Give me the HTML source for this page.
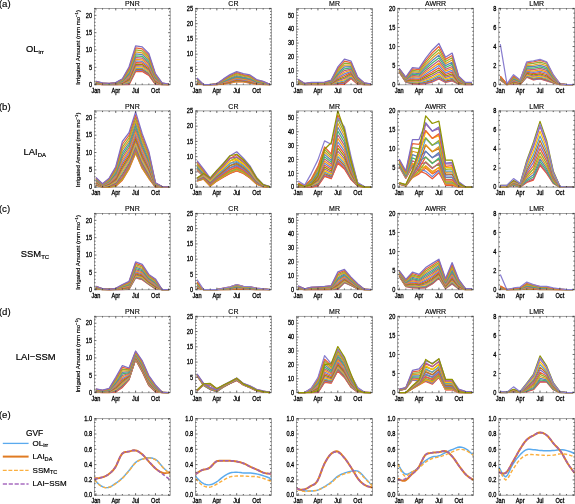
<!DOCTYPE html>
<html><head><meta charset="utf-8"><style>
html,body{margin:0;padding:0;background:#fff;}
body{width:575px;height:504px;position:relative;overflow:hidden;font-family:"Liberation Sans", sans-serif;}
svg text{font-family:"Liberation Sans", sans-serif;fill:#000;}
svg text.t{stroke:#000;stroke-width:0.28px;}
svg text.u{stroke:#000;stroke-width:0.2px;}
svg text.ti{stroke:#000;stroke-width:0.14px;}
svg text.v{stroke:#000;stroke-width:0.15px;}
svg text.w{stroke:#000;stroke-width:0.16px;}
</style></head><body>
<svg width="575" height="504" viewBox="0 0 575 504" style="position:absolute;left:0;top:0;will-change:transform">
<defs>
<clipPath id="k00"><rect x="94.4" y="7.8" width="75.8" height="77.8"/></clipPath>
<clipPath id="k01"><rect x="195.5" y="7.8" width="75.8" height="77.8"/></clipPath>
<clipPath id="k02"><rect x="296.6" y="7.8" width="75.8" height="77.8"/></clipPath>
<clipPath id="k03"><rect x="397.7" y="7.8" width="75.8" height="77.8"/></clipPath>
<clipPath id="k04"><rect x="498.8" y="7.8" width="75.8" height="77.8"/></clipPath>
<clipPath id="k10"><rect x="94.4" y="110.3" width="75.8" height="77.8"/></clipPath>
<clipPath id="k11"><rect x="195.5" y="110.3" width="75.8" height="77.8"/></clipPath>
<clipPath id="k12"><rect x="296.6" y="110.3" width="75.8" height="77.8"/></clipPath>
<clipPath id="k13"><rect x="397.7" y="110.3" width="75.8" height="77.8"/></clipPath>
<clipPath id="k14"><rect x="498.8" y="110.3" width="75.8" height="77.8"/></clipPath>
<clipPath id="k20"><rect x="94.4" y="212.8" width="75.8" height="77.8"/></clipPath>
<clipPath id="k21"><rect x="195.5" y="212.8" width="75.8" height="77.8"/></clipPath>
<clipPath id="k22"><rect x="296.6" y="212.8" width="75.8" height="77.8"/></clipPath>
<clipPath id="k23"><rect x="397.7" y="212.8" width="75.8" height="77.8"/></clipPath>
<clipPath id="k24"><rect x="498.8" y="212.8" width="75.8" height="77.8"/></clipPath>
<clipPath id="k30"><rect x="94.4" y="315.7" width="75.8" height="77.8"/></clipPath>
<clipPath id="k31"><rect x="195.5" y="315.7" width="75.8" height="77.8"/></clipPath>
<clipPath id="k32"><rect x="296.6" y="315.7" width="75.8" height="77.8"/></clipPath>
<clipPath id="k33"><rect x="397.7" y="315.7" width="75.8" height="77.8"/></clipPath>
<clipPath id="k34"><rect x="498.8" y="315.7" width="75.8" height="77.8"/></clipPath>
<clipPath id="k40"><rect x="94.4" y="418.1" width="75.8" height="77.1"/></clipPath>
<clipPath id="k41"><rect x="195.5" y="418.1" width="75.8" height="77.1"/></clipPath>
<clipPath id="k42"><rect x="296.6" y="418.1" width="75.8" height="77.1"/></clipPath>
<clipPath id="k43"><rect x="397.7" y="418.1" width="75.8" height="77.1"/></clipPath>
<clipPath id="k44"><rect x="498.8" y="418.1" width="75.8" height="77.1"/></clipPath>
</defs>
<rect x="94.4" y="8.4" width="75.8" height="76.3" fill="none" stroke="#7a7a7a" stroke-width="0.7"/>
<line x1="94.4" y1="84.7" x2="170.2" y2="84.7" stroke="#bbb" stroke-width="1.2"/>
<rect x="195.5" y="8.4" width="75.8" height="76.3" fill="none" stroke="#7a7a7a" stroke-width="0.7"/>
<line x1="195.5" y1="84.7" x2="271.3" y2="84.7" stroke="#bbb" stroke-width="1.2"/>
<rect x="296.6" y="8.4" width="75.8" height="76.3" fill="none" stroke="#7a7a7a" stroke-width="0.7"/>
<line x1="296.6" y1="84.7" x2="372.4" y2="84.7" stroke="#bbb" stroke-width="1.2"/>
<rect x="397.7" y="8.4" width="75.8" height="76.3" fill="none" stroke="#7a7a7a" stroke-width="0.7"/>
<line x1="397.7" y1="84.7" x2="473.5" y2="84.7" stroke="#bbb" stroke-width="1.2"/>
<rect x="498.8" y="8.4" width="75.8" height="76.3" fill="none" stroke="#7a7a7a" stroke-width="0.7"/>
<line x1="498.8" y1="84.7" x2="574.6" y2="84.7" stroke="#bbb" stroke-width="1.2"/>
<rect x="94.4" y="110.9" width="75.8" height="76.3" fill="none" stroke="#7a7a7a" stroke-width="0.7"/>
<line x1="94.4" y1="187.2" x2="170.2" y2="187.2" stroke="#bbb" stroke-width="1.2"/>
<rect x="195.5" y="110.9" width="75.8" height="76.3" fill="none" stroke="#7a7a7a" stroke-width="0.7"/>
<line x1="195.5" y1="187.2" x2="271.3" y2="187.2" stroke="#bbb" stroke-width="1.2"/>
<rect x="296.6" y="110.9" width="75.8" height="76.3" fill="none" stroke="#7a7a7a" stroke-width="0.7"/>
<line x1="296.6" y1="187.2" x2="372.4" y2="187.2" stroke="#bbb" stroke-width="1.2"/>
<rect x="397.7" y="110.9" width="75.8" height="76.3" fill="none" stroke="#7a7a7a" stroke-width="0.7"/>
<line x1="397.7" y1="187.2" x2="473.5" y2="187.2" stroke="#bbb" stroke-width="1.2"/>
<rect x="498.8" y="110.9" width="75.8" height="76.3" fill="none" stroke="#7a7a7a" stroke-width="0.7"/>
<line x1="498.8" y1="187.2" x2="574.6" y2="187.2" stroke="#bbb" stroke-width="1.2"/>
<rect x="94.4" y="213.4" width="75.8" height="76.3" fill="none" stroke="#7a7a7a" stroke-width="0.7"/>
<line x1="94.4" y1="289.7" x2="170.2" y2="289.7" stroke="#bbb" stroke-width="1.2"/>
<rect x="195.5" y="213.4" width="75.8" height="76.3" fill="none" stroke="#7a7a7a" stroke-width="0.7"/>
<line x1="195.5" y1="289.7" x2="271.3" y2="289.7" stroke="#bbb" stroke-width="1.2"/>
<rect x="296.6" y="213.4" width="75.8" height="76.3" fill="none" stroke="#7a7a7a" stroke-width="0.7"/>
<line x1="296.6" y1="289.7" x2="372.4" y2="289.7" stroke="#bbb" stroke-width="1.2"/>
<rect x="397.7" y="213.4" width="75.8" height="76.3" fill="none" stroke="#7a7a7a" stroke-width="0.7"/>
<line x1="397.7" y1="289.7" x2="473.5" y2="289.7" stroke="#bbb" stroke-width="1.2"/>
<rect x="498.8" y="213.4" width="75.8" height="76.3" fill="none" stroke="#7a7a7a" stroke-width="0.7"/>
<line x1="498.8" y1="289.7" x2="574.6" y2="289.7" stroke="#bbb" stroke-width="1.2"/>
<rect x="94.4" y="316.3" width="75.8" height="76.3" fill="none" stroke="#7a7a7a" stroke-width="0.7"/>
<line x1="94.4" y1="392.6" x2="170.2" y2="392.6" stroke="#bbb" stroke-width="1.2"/>
<rect x="195.5" y="316.3" width="75.8" height="76.3" fill="none" stroke="#7a7a7a" stroke-width="0.7"/>
<line x1="195.5" y1="392.6" x2="271.3" y2="392.6" stroke="#bbb" stroke-width="1.2"/>
<rect x="296.6" y="316.3" width="75.8" height="76.3" fill="none" stroke="#7a7a7a" stroke-width="0.7"/>
<line x1="296.6" y1="392.6" x2="372.4" y2="392.6" stroke="#bbb" stroke-width="1.2"/>
<rect x="397.7" y="316.3" width="75.8" height="76.3" fill="none" stroke="#7a7a7a" stroke-width="0.7"/>
<line x1="397.7" y1="392.6" x2="473.5" y2="392.6" stroke="#bbb" stroke-width="1.2"/>
<rect x="498.8" y="316.3" width="75.8" height="76.3" fill="none" stroke="#7a7a7a" stroke-width="0.7"/>
<line x1="498.8" y1="392.6" x2="574.6" y2="392.6" stroke="#bbb" stroke-width="1.2"/>
<rect x="94.4" y="418.7" width="75.8" height="76.5" fill="none" stroke="#7a7a7a" stroke-width="0.7"/>
<rect x="195.5" y="418.7" width="75.8" height="76.5" fill="none" stroke="#7a7a7a" stroke-width="0.7"/>
<rect x="296.6" y="418.7" width="75.8" height="76.5" fill="none" stroke="#7a7a7a" stroke-width="0.7"/>
<rect x="397.7" y="418.7" width="75.8" height="76.5" fill="none" stroke="#7a7a7a" stroke-width="0.7"/>
<rect x="498.8" y="418.7" width="75.8" height="76.5" fill="none" stroke="#7a7a7a" stroke-width="0.7"/>
<g clip-path="url(#k00)" fill="none" stroke-width="1.25" stroke-linejoin="round">
<polyline stroke="#E95536" points="95.9,84.01 102.52,84.7 109.14,84.7 115.75,84.7 122.37,84.7 128.99,84.7 135.61,71.52 142.23,71.52 148.85,75.34 155.46,84.35 162.08,84.7 168.7,84.7"/>
<polyline stroke="#EB6235" points="95.9,83.95 102.52,84.67 109.14,84.67 115.75,84.66 122.37,84.59 128.99,84.37 135.61,71.03 142.23,71.05 148.85,74.92 155.46,84.15 162.08,84.67 168.7,84.69"/>
<polyline stroke="#7F6FC4" points="95.9,83.87 102.52,84.61 109.14,84.63 115.75,84.6 122.37,84.41 128.99,83.82 135.61,70.24 142.23,70.29 148.85,74.24 155.46,83.82 162.08,84.61 168.7,84.67"/>
<polyline stroke="#C56E1A" points="95.9,83.76 102.52,84.55 109.14,84.58 115.75,84.52 122.37,84.18 128.99,83.14 135.61,69.26 142.23,69.35 148.85,73.41 155.46,83.41 162.08,84.55 168.7,84.65"/>
<polyline stroke="#5D9EC7" points="95.9,83.64 102.52,84.47 109.14,84.52 115.75,84.43 122.37,83.92 128.99,82.37 135.61,68.14 142.23,68.27 148.85,72.45 155.46,82.94 162.08,84.47 168.7,84.63"/>
<polyline stroke="#FFBF00" points="95.9,83.51 102.52,84.39 109.14,84.45 115.75,84.32 122.37,83.64 128.99,81.51 135.61,66.89 142.23,67.08 148.85,71.4 155.46,82.42 162.08,84.39 168.7,84.61"/>
<polyline stroke="#A5609D" points="95.9,83.36 102.52,84.3 109.14,84.38 115.75,84.22 122.37,83.33 128.99,80.58 135.61,65.55 142.23,65.79 148.85,70.25 155.46,81.85 162.08,84.3 168.7,84.58"/>
<polyline stroke="#929600" points="95.9,83.21 102.52,84.2 109.14,84.3 115.75,84.1 122.37,83 128.99,79.59 135.61,64.11 142.23,64.41 148.85,69.03 155.46,81.25 162.08,84.2 168.7,84.55"/>
<polyline stroke="#E95536" points="95.9,83.04 102.52,84.1 109.14,84.22 115.75,83.98 122.37,82.65 128.99,78.54 135.61,62.59 142.23,62.95 148.85,67.73 155.46,80.61 162.08,84.1 168.7,84.52"/>
<polyline stroke="#6685D9" points="95.9,82.87 102.52,83.99 109.14,84.13 115.75,83.85 122.37,82.28 128.99,77.44 135.61,60.99 142.23,61.41 148.85,66.37 155.46,79.94 162.08,83.99 168.7,84.49"/>
<polyline stroke="#F89F13" points="95.9,82.69 102.52,83.88 109.14,84.04 115.75,83.71 122.37,81.9 128.99,76.29 135.61,59.31 142.23,59.81 148.85,64.94 155.46,79.24 162.08,83.88 168.7,84.45"/>
<polyline stroke="#BC5B80" points="95.9,82.5 102.52,83.76 109.14,83.95 115.75,83.57 122.37,81.49 128.99,75.08 135.61,57.57 142.23,58.13 148.85,63.46 155.46,78.51 162.08,83.76 168.7,84.42"/>
<polyline stroke="#47B66D" points="95.9,82.3 102.52,83.64 109.14,83.85 115.75,83.42 122.37,81.08 128.99,73.84 135.61,55.76 142.23,56.4 148.85,61.92 155.46,77.75 162.08,83.64 168.7,84.38"/>
<polyline stroke="#5E81B5" points="95.9,82.1 102.52,83.51 109.14,83.75 115.75,83.27 122.37,80.65 128.99,72.55 135.61,53.89 142.23,54.61 148.85,60.33 155.46,76.97 162.08,83.51 168.7,84.34"/>
<polyline stroke="#E19C24" points="95.9,81.89 102.52,83.38 109.14,83.64 115.75,83.11 122.37,80.21 128.99,71.22 135.61,51.96 142.23,52.76 148.85,58.69 155.46,76.16 162.08,83.38 168.7,84.3"/>
<polyline stroke="#8FB032" points="95.9,81.68 102.52,83.24 109.14,83.54 115.75,82.95 122.37,79.75 128.99,69.86 135.61,49.98 142.23,50.85 148.85,57 155.46,75.33 162.08,83.24 168.7,84.26"/>
<polyline stroke="#EB6235" points="95.9,81.46 102.52,83.11 109.14,83.43 115.75,82.79 122.37,79.28 128.99,68.45 135.61,47.94 142.23,48.9 148.85,55.26 155.46,74.48 162.08,83.11 168.7,84.22"/>
<polyline stroke="#7F6FC4" points="95.9,81.23 102.52,82.97 109.14,83.31 115.75,82.62 122.37,78.8 128.99,67.01 135.61,45.86 142.23,46.9 148.85,53.49 155.46,73.6 162.08,82.97 168.7,84.18"/>
</g>
<g clip-path="url(#k01)" fill="none" stroke-width="1.25" stroke-linejoin="round">
<polyline stroke="#E95536" points="197,84.09 203.62,84.7 210.24,84.7 216.85,84.7 223.47,84.09 230.09,83.17 236.71,81.65 243.33,81.95 249.95,83.17 256.56,84.09 263.18,84.7 269.8,84.7"/>
<polyline stroke="#FFBF00" points="197,83.92 203.62,84.7 210.24,84.7 216.85,84.67 223.47,83.95 230.09,82.94 236.71,81.37 243.33,81.73 249.95,82.95 256.56,83.96 263.18,84.61 269.8,84.69"/>
<polyline stroke="#A5609D" points="197,83.65 203.62,84.7 210.24,84.7 216.85,84.63 223.47,83.71 230.09,82.55 236.71,80.92 243.33,81.35 249.95,82.57 256.56,83.76 263.18,84.46 269.8,84.68"/>
<polyline stroke="#929600" points="197,83.31 203.62,84.7 210.24,84.7 216.85,84.58 223.47,83.42 230.09,82.08 236.71,80.36 243.33,80.9 249.95,82.12 256.56,83.5 263.18,84.27 269.8,84.66"/>
<polyline stroke="#E95536" points="197,82.92 203.62,84.7 210.24,84.7 216.85,84.52 223.47,83.09 230.09,81.53 236.71,79.71 243.33,80.37 249.95,81.59 256.56,83.21 263.18,84.06 269.8,84.64"/>
<polyline stroke="#6685D9" points="197,82.49 203.62,84.7 210.24,84.7 216.85,84.46 223.47,82.73 230.09,80.93 236.71,79 243.33,79.79 249.95,81.01 256.56,82.89 263.18,83.82 269.8,84.62"/>
<polyline stroke="#F89F13" points="197,82.02 203.62,84.7 210.24,84.7 216.85,84.39 223.47,82.33 230.09,80.28 236.71,78.24 243.33,79.16 249.95,80.38 256.56,82.54 263.18,83.56 269.8,84.6"/>
<polyline stroke="#BC5B80" points="197,81.52 203.62,84.7 210.24,84.7 216.85,84.32 223.47,81.91 230.09,79.58 236.71,77.41 243.33,78.49 249.95,79.71 256.56,82.17 263.18,83.29 269.8,84.57"/>
<polyline stroke="#47B66D" points="197,81 203.62,84.7 210.24,84.7 216.85,84.24 223.47,81.46 230.09,78.84 236.71,76.54 243.33,77.78 249.95,79 256.56,81.77 263.18,83 269.8,84.55"/>
<polyline stroke="#5E81B5" points="197,80.44 203.62,84.7 210.24,84.7 216.85,84.15 223.47,80.99 230.09,78.07 236.71,75.63 243.33,77.03 249.95,78.25 256.56,81.35 263.18,82.69 269.8,84.52"/>
<polyline stroke="#E19C24" points="197,79.86 203.62,84.7 210.24,84.7 216.85,84.07 223.47,80.5 230.09,77.26 236.71,74.67 243.33,76.25 249.95,77.47 256.56,80.92 263.18,82.37 269.8,84.49"/>
<polyline stroke="#8FB032" points="197,79.26 203.62,84.7 210.24,84.7 216.85,83.98 223.47,79.98 230.09,76.41 236.71,73.68 243.33,75.43 249.95,76.65 256.56,80.47 263.18,82.04 269.8,84.46"/>
<polyline stroke="#EB6235" points="197,78.63 203.62,84.7 210.24,84.7 216.85,83.88 223.47,79.45 230.09,75.53 236.71,72.64 243.33,74.59 249.95,75.81 256.56,80 263.18,81.7 269.8,84.43"/>
<polyline stroke="#7F6FC4" points="197,77.99 203.62,84.7 210.24,84.7 216.85,83.78 223.47,78.9 230.09,74.63 236.71,71.58 243.33,73.71 249.95,74.93 256.56,79.51 263.18,81.34 269.8,84.39"/>
</g>
<g clip-path="url(#k02)" fill="none" stroke-width="1.25" stroke-linejoin="round">
<polyline stroke="#E95536" points="298.1,84.28 304.72,84.7 311.34,84.7 317.95,84.7 324.57,84.7 331.19,84.7 337.81,84.7 344.43,84.28 351.05,78.46 357.66,84.28 364.28,84.7 370.9,84.7"/>
<polyline stroke="#EB6235" points="298.1,84.19 304.72,84.68 311.34,84.66 317.95,84.66 324.57,84.65 331.19,84.61 337.81,84.36 344.43,83.81 351.05,78.13 357.66,84.15 364.28,84.67 370.9,84.68"/>
<polyline stroke="#7F6FC4" points="298.1,84.03 304.72,84.64 311.34,84.59 317.95,84.59 324.57,84.58 331.19,84.47 337.81,83.81 344.43,83.02 351.05,77.59 357.66,83.92 364.28,84.61 370.9,84.66"/>
<polyline stroke="#C56E1A" points="298.1,83.83 304.72,84.59 311.34,84.5 317.95,84.5 324.57,84.48 331.19,84.3 337.81,83.13 344.43,82.06 351.05,76.93 357.66,83.65 364.28,84.54 370.9,84.63"/>
<polyline stroke="#5D9EC7" points="298.1,83.61 304.72,84.54 311.34,84.41 317.95,84.41 324.57,84.37 331.19,84.1 337.81,82.36 344.43,80.95 351.05,76.17 357.66,83.33 364.28,84.46 370.9,84.59"/>
<polyline stroke="#FFBF00" points="298.1,83.36 304.72,84.47 311.34,84.3 317.95,84.3 324.57,84.25 331.19,83.87 337.81,81.5 344.43,79.73 351.05,75.33 357.66,82.98 364.28,84.37 370.9,84.55"/>
<polyline stroke="#A5609D" points="298.1,83.09 304.72,84.41 311.34,84.18 317.95,84.18 324.57,84.12 331.19,83.63 337.81,80.57 344.43,78.41 351.05,74.42 357.66,82.61 364.28,84.28 370.9,84.51"/>
<polyline stroke="#929600" points="298.1,82.8 304.72,84.34 311.34,84.06 317.95,84.06 324.57,83.98 331.19,83.38 337.81,79.57 344.43,76.99 351.05,73.45 357.66,82.2 364.28,84.18 370.9,84.46"/>
<polyline stroke="#E95536" points="298.1,82.5 304.72,84.27 311.34,83.93 317.95,83.93 324.57,83.83 331.19,83.11 337.81,78.52 344.43,75.49 351.05,72.42 357.66,81.77 364.28,84.07 370.9,84.41"/>
<polyline stroke="#6685D9" points="298.1,82.18 304.72,84.19 311.34,83.79 317.95,83.79 324.57,83.67 331.19,82.82 337.81,77.41 344.43,73.92 351.05,71.34 357.66,81.32 364.28,83.96 370.9,84.36"/>
<polyline stroke="#F89F13" points="298.1,81.84 304.72,84.11 311.34,83.64 317.95,83.64 324.57,83.51 331.19,82.52 337.81,76.25 344.43,72.27 351.05,70.21 357.66,80.85 364.28,83.84 370.9,84.3"/>
<polyline stroke="#BC5B80" points="298.1,81.49 304.72,84.02 311.34,83.49 317.95,83.49 324.57,83.34 331.19,82.21 337.81,75.05 344.43,70.56 351.05,69.03 357.66,80.36 364.28,83.72 370.9,84.25"/>
<polyline stroke="#47B66D" points="298.1,81.13 304.72,83.93 311.34,83.34 317.95,83.34 324.57,83.17 331.19,81.89 337.81,73.8 344.43,68.78 351.05,67.81 357.66,79.85 364.28,83.59 370.9,84.19"/>
<polyline stroke="#5E81B5" points="298.1,80.76 304.72,83.84 311.34,83.18 317.95,83.18 324.57,82.98 331.19,81.56 337.81,72.5 344.43,66.94 351.05,66.55 357.66,79.33 364.28,83.46 370.9,84.13"/>
<polyline stroke="#E19C24" points="298.1,80.37 304.72,83.75 311.34,83.01 317.95,83.01 324.57,82.8 331.19,81.21 337.81,71.17 344.43,65.04 351.05,65.24 357.66,78.79 364.28,83.33 370.9,84.07"/>
<polyline stroke="#8FB032" points="298.1,79.98 304.72,83.65 311.34,82.84 317.95,82.84 324.57,82.6 331.19,80.86 337.81,69.8 344.43,63.09 351.05,63.9 357.66,78.23 364.28,83.19 370.9,84"/>
<polyline stroke="#EB6235" points="298.1,79.57 304.72,83.55 311.34,82.66 317.95,82.66 324.57,82.41 331.19,80.49 337.81,68.39 344.43,61.09 351.05,62.53 357.66,77.66 364.28,83.04 370.9,83.94"/>
<polyline stroke="#7F6FC4" points="298.1,79.15 304.72,83.45 311.34,82.48 317.95,82.48 324.57,82.2 331.19,80.12 337.81,66.94 344.43,59.04 351.05,61.12 357.66,77.07 364.28,82.9 370.9,83.87"/>
</g>
<g clip-path="url(#k03)" fill="none" stroke-width="1.25" stroke-linejoin="round">
<polyline stroke="#E95536" points="399.2,72.11 405.82,82.03 412.44,83.94 419.05,84.32 425.67,83.56 432.29,82.03 438.91,78.98 445.53,82.41 452.15,80.89 458.76,84.32 465.38,84.7 472,84.7"/>
<polyline stroke="#7F6FC4" points="399.2,72.03 405.82,81.93 412.44,83.6 419.05,83.99 425.67,83.04 432.29,81.37 438.91,78.25 445.53,81.89 452.15,80.31 458.76,84.15 465.38,84.65 472,84.65"/>
<polyline stroke="#C56E1A" points="399.2,71.9 405.82,81.76 412.44,83.04 419.05,83.45 425.67,82.19 432.29,80.29 438.91,77.05 445.53,81.04 452.15,79.37 458.76,83.88 465.38,84.58 472,84.58"/>
<polyline stroke="#5D9EC7" points="399.2,71.74 405.82,81.55 412.44,82.36 419.05,82.78 425.67,81.14 432.29,78.95 438.91,75.57 445.53,79.99 452.15,78.21 458.76,83.55 465.38,84.48 472,84.48"/>
<polyline stroke="#FFBF00" points="399.2,71.56 405.82,81.32 412.44,81.58 419.05,82.02 425.67,79.94 432.29,77.43 438.91,73.88 445.53,78.8 452.15,76.89 458.76,83.17 465.38,84.37 472,84.37"/>
<polyline stroke="#A5609D" points="399.2,71.36 405.82,81.06 412.44,80.72 419.05,81.17 425.67,78.61 432.29,75.74 438.91,72.01 445.53,77.47 452.15,75.42 458.76,82.75 465.38,84.25 472,84.25"/>
<polyline stroke="#929600" points="399.2,71.14 405.82,80.77 412.44,79.78 419.05,80.26 425.67,77.18 432.29,73.91 438.91,69.99 445.53,76.03 452.15,73.83 458.76,82.29 465.38,84.12 472,84.12"/>
<polyline stroke="#E95536" points="399.2,70.91 405.82,80.47 412.44,78.78 419.05,79.28 425.67,75.64 432.29,71.96 438.91,67.83 445.53,74.5 452.15,72.13 458.76,81.8 465.38,83.98 472,83.98"/>
<polyline stroke="#6685D9" points="399.2,70.66 405.82,80.15 412.44,77.72 419.05,78.25 425.67,74.01 432.29,69.89 438.91,65.53 445.53,72.87 452.15,70.33 458.76,81.28 465.38,83.83 472,83.83"/>
<polyline stroke="#F89F13" points="399.2,70.41 405.82,79.81 412.44,76.61 419.05,77.16 425.67,72.3 432.29,67.71 438.91,63.12 445.53,71.16 452.15,68.44 458.76,80.74 465.38,83.68 472,83.68"/>
<polyline stroke="#BC5B80" points="399.2,70.13 405.82,79.46 412.44,75.44 419.05,76.02 425.67,70.52 432.29,65.43 438.91,60.6 445.53,69.37 452.15,66.46 458.76,80.17 465.38,83.51 472,83.51"/>
<polyline stroke="#47B66D" points="399.2,69.85 405.82,79.09 412.44,74.23 419.05,74.84 425.67,68.65 432.29,63.06 438.91,57.98 445.53,67.51 452.15,64.4 458.76,79.58 465.38,83.35 472,83.35"/>
<polyline stroke="#5E81B5" points="399.2,69.56 405.82,78.71 412.44,72.97 419.05,73.61 425.67,66.72 432.29,60.61 438.91,55.26 445.53,65.58 452.15,62.27 458.76,78.96 465.38,83.17 472,83.17"/>
<polyline stroke="#E19C24" points="399.2,69.26 405.82,78.32 412.44,71.67 419.05,72.34 425.67,64.73 432.29,58.07 438.91,52.45 445.53,63.58 452.15,60.06 458.76,78.33 465.38,82.99 472,82.99"/>
<polyline stroke="#8FB032" points="399.2,68.95 405.82,77.92 412.44,70.33 419.05,71.03 425.67,62.67 432.29,55.45 438.91,49.55 445.53,61.53 452.15,57.78 458.76,77.67 465.38,82.8 472,82.8"/>
<polyline stroke="#EB6235" points="399.2,68.63 405.82,77.5 412.44,68.95 419.05,69.68 425.67,60.55 432.29,52.75 438.91,46.56 445.53,59.41 452.15,55.44 458.76,77 465.38,82.61 472,82.61"/>
<polyline stroke="#7F6FC4" points="399.2,68.3 405.82,77.07 412.44,67.53 419.05,68.3 425.67,58.38 432.29,49.98 438.91,43.5 445.53,57.23 452.15,53.04 458.76,76.31 465.38,82.41 472,82.41"/>
</g>
<g clip-path="url(#k04)" fill="none" stroke-width="1.25" stroke-linejoin="round">
<polyline stroke="#E95536" points="500.3,79.93 506.92,84.7 513.54,83.75 520.15,84.7 526.77,77.07 533.39,79.93 540.01,78.98 546.63,80.89 553.25,82.79 559.86,84.7 566.48,84.7 573.1,84.7"/>
<polyline stroke="#7F6FC4" points="500.3,79.85 506.92,84.69 513.54,83.57 520.15,84.59 526.77,76.75 533.39,79.52 540.01,78.56 546.63,80.47 553.25,82.62 559.86,84.68 566.48,84.7 573.1,84.7"/>
<polyline stroke="#C56E1A" points="500.3,79.7 506.92,84.67 513.54,83.29 520.15,84.42 526.77,76.22 533.39,78.85 540.01,77.87 546.63,79.78 553.25,82.34 559.86,84.64 566.48,84.7 573.1,84.7"/>
<polyline stroke="#5D9EC7" points="500.3,79.53 506.92,84.65 513.54,82.94 520.15,84.2 526.77,75.57 533.39,78.03 540.01,77.02 546.63,78.93 553.25,81.99 559.86,84.6 566.48,84.7 573.1,84.7"/>
<polyline stroke="#FFBF00" points="500.3,79.33 506.92,84.63 513.54,82.55 520.15,83.95 526.77,74.82 533.39,77.08 540.01,76.05 546.63,77.96 553.25,81.59 559.86,84.55 566.48,84.7 573.1,84.7"/>
<polyline stroke="#A5609D" points="500.3,79.11 506.92,84.6 513.54,82.11 520.15,83.68 526.77,74 533.39,76.04 540.01,74.98 546.63,76.89 553.25,81.15 559.86,84.5 566.48,84.7 573.1,84.7"/>
<polyline stroke="#929600" points="500.3,78.87 506.92,84.57 513.54,81.63 520.15,83.38 526.77,73.1 533.39,74.91 540.01,73.82 546.63,75.73 553.25,80.68 559.86,84.44 566.48,84.7 573.1,84.7"/>
<polyline stroke="#E95536" points="500.3,78.62 506.92,84.54 513.54,81.12 520.15,83.06 526.77,72.15 533.39,73.7 540.01,72.58 546.63,74.49 553.25,80.17 559.86,84.37 566.48,84.7 573.1,84.7"/>
<polyline stroke="#6685D9" points="500.3,78.35 506.92,84.5 513.54,80.58 520.15,82.72 526.77,71.14 533.39,72.42 540.01,71.26 546.63,73.17 553.25,79.63 559.86,84.3 566.48,84.7 573.1,84.7"/>
<polyline stroke="#F89F13" points="500.3,78.07 506.92,84.47 513.54,80.01 520.15,82.37 526.77,70.07 533.39,71.07 540.01,69.88 546.63,71.79 553.25,79.06 559.86,84.23 566.48,84.7 573.1,84.7"/>
<polyline stroke="#BC5B80" points="500.3,77.77 506.92,84.43 513.54,79.42 520.15,82 526.77,68.96 533.39,69.66 540.01,68.44 546.63,70.34 553.25,78.47 559.86,84.16 566.48,84.7 573.1,84.7"/>
<polyline stroke="#47B66D" points="500.3,77.46 506.92,84.39 513.54,78.8 520.15,81.61 526.77,67.8 533.39,68.19 540.01,66.93 546.63,68.84 553.25,77.85 559.86,84.08 566.48,84.7 573.1,84.7"/>
<polyline stroke="#5E81B5" points="500.3,77.14 506.92,84.35 513.54,78.16 520.15,81.21 526.77,66.6 533.39,66.67 540.01,65.37 546.63,67.28 553.25,77.21 559.86,84 566.48,84.7 573.1,84.7"/>
<polyline stroke="#E19C24" points="500.3,76.81 506.92,84.31 513.54,77.5 520.15,80.8 526.77,65.36 533.39,65.1 540.01,63.76 546.63,65.66 553.25,76.55 559.86,83.92 566.48,84.7 573.1,84.7"/>
<polyline stroke="#8FB032" points="500.3,76.47 506.92,84.27 513.54,76.82 520.15,80.37 526.77,64.08 533.39,63.48 540.01,62.09 546.63,64 553.25,75.87 559.86,83.83 566.48,84.7 573.1,84.7"/>
<polyline stroke="#EB6235" points="500.3,76.12 506.92,84.22 513.54,76.12 520.15,79.93 526.77,62.76 533.39,61.81 540.01,60.38 546.63,62.29 553.25,75.16 559.86,83.75 566.48,84.7 573.1,84.7"/>
<polyline stroke="#8A7FD0" points="500.3,44.17 506.92,83.75 513.54,74.69 520.15,79.93 526.77,61.81 533.39,60.86 540.01,59.43 546.63,61.81 553.25,74.69 559.86,83.75 566.48,84.7 573.1,84.7"/>
</g>
<g clip-path="url(#k10)" fill="none" stroke-width="1.25" stroke-linejoin="round">
<polyline stroke="#E95536" points="95.9,185.12 102.52,187.2 109.14,187.2 115.75,186.16 122.37,180.26 128.99,169.17 135.61,153.21 142.23,168.47 148.85,178.53 155.46,187.2 162.08,187.2 168.7,187.2"/>
<polyline stroke="#E19C24" points="95.9,185 102.52,187.14 109.14,187.05 115.75,185.84 122.37,179.63 128.99,168.58 135.61,152.54 142.23,167.91 148.85,178.09 155.46,187.13 162.08,187.19 168.7,187.19"/>
<polyline stroke="#8FB032" points="95.9,184.79 102.52,187.05 109.14,186.81 115.75,185.33 122.37,178.6 128.99,167.61 135.61,151.45 142.23,166.99 148.85,177.37 155.46,187.01 162.08,187.17 168.7,187.19"/>
<polyline stroke="#EB6235" points="95.9,184.54 102.52,186.94 109.14,186.52 115.75,184.69 122.37,177.33 128.99,166.42 135.61,150.1 142.23,165.85 148.85,176.49 155.46,186.86 162.08,187.15 168.7,187.17"/>
<polyline stroke="#7F6FC4" points="95.9,184.26 102.52,186.81 109.14,186.18 115.75,183.97 122.37,175.88 128.99,165.05 135.61,148.55 142.23,164.56 148.85,175.48 155.46,186.69 162.08,187.12 168.7,187.16"/>
<polyline stroke="#C56E1A" points="95.9,183.94 102.52,186.66 109.14,185.81 115.75,183.16 122.37,174.27 128.99,163.55 135.61,146.84 142.23,163.12 148.85,174.36 155.46,186.5 162.08,187.09 168.7,187.15"/>
<polyline stroke="#5D9EC7" points="95.9,183.6 102.52,186.51 109.14,185.4 115.75,182.29 122.37,172.53 128.99,161.91 135.61,144.99 142.23,161.57 148.85,173.14 155.46,186.3 162.08,187.06 168.7,187.13"/>
<polyline stroke="#FFBF00" points="95.9,183.23 102.52,186.34 109.14,184.97 115.75,181.36 122.37,170.67 128.99,160.17 135.61,143.01 142.23,159.9 148.85,171.84 155.46,186.09 162.08,187.03 168.7,187.11"/>
<polyline stroke="#A5609D" points="95.9,182.85 102.52,186.17 109.14,184.51 115.75,180.37 122.37,168.69 128.99,158.32 135.61,140.92 142.23,158.14 148.85,170.47 155.46,185.86 162.08,186.99 168.7,187.1"/>
<polyline stroke="#929600" points="95.9,182.44 102.52,185.98 109.14,184.03 115.75,179.34 122.37,166.62 128.99,156.37 135.61,138.71 142.23,156.29 148.85,169.03 155.46,185.62 162.08,186.96 168.7,187.08"/>
<polyline stroke="#E95536" points="95.9,182.01 102.52,185.79 109.14,183.53 115.75,178.25 122.37,164.45 128.99,154.34 135.61,136.41 142.23,154.35 148.85,167.52 155.46,185.36 162.08,186.92 168.7,187.06"/>
<polyline stroke="#6685D9" points="95.9,181.57 102.52,185.59 109.14,183 115.75,177.12 122.37,162.19 128.99,152.22 135.61,134.01 142.23,152.34 148.85,165.94 155.46,185.1 162.08,186.88 168.7,187.04"/>
<polyline stroke="#F89F13" points="95.9,181.11 102.52,185.38 109.14,182.46 115.75,175.95 122.37,159.85 128.99,150.03 135.61,131.52 142.23,150.25 148.85,164.31 155.46,184.83 162.08,186.84 168.7,187.02"/>
<polyline stroke="#BC5B80" points="95.9,180.63 102.52,185.16 109.14,181.9 115.75,174.74 122.37,157.43 128.99,147.76 135.61,128.95 142.23,148.08 148.85,162.63 155.46,184.55 162.08,186.79 168.7,187"/>
<polyline stroke="#47B66D" points="95.9,180.14 102.52,184.94 109.14,181.32 115.75,173.49 122.37,154.93 128.99,145.42 135.61,126.3 142.23,145.86 148.85,160.89 155.46,184.26 162.08,186.75 168.7,186.97"/>
<polyline stroke="#5E81B5" points="95.9,179.64 102.52,184.71 109.14,180.72 115.75,172.21 122.37,152.36 128.99,143.01 135.61,123.57 142.23,143.56 148.85,159.1 155.46,183.96 162.08,186.7 168.7,186.95"/>
<polyline stroke="#E19C24" points="95.9,179.12 102.52,184.47 109.14,180.11 115.75,170.89 122.37,149.73 128.99,140.54 135.61,120.77 142.23,141.21 148.85,157.26 155.46,183.66 162.08,186.65 168.7,186.93"/>
<polyline stroke="#8FB032" points="95.9,178.59 102.52,184.23 109.14,179.48 115.75,169.54 122.37,147.02 128.99,138 135.61,117.89 142.23,138.79 148.85,155.38 155.46,183.34 162.08,186.61 168.7,186.9"/>
<polyline stroke="#EB6235" points="95.9,178.05 102.52,183.98 109.14,178.84 115.75,168.15 122.37,144.25 128.99,135.4 135.61,114.95 142.23,136.32 148.85,153.45 155.46,183.02 162.08,186.56 168.7,186.88"/>
<polyline stroke="#7F6FC4" points="95.9,177.49 102.52,183.73 109.14,178.18 115.75,166.74 122.37,141.42 128.99,132.75 135.61,111.94 142.23,133.79 148.85,151.48 155.46,182.69 162.08,186.51 168.7,186.85"/>
</g>
<g clip-path="url(#k11)" fill="none" stroke-width="1.25" stroke-linejoin="round">
<polyline stroke="#E95536" points="197,170.41 203.62,176.52 210.24,185.67 216.85,180.49 223.47,176.82 230.09,173.16 236.71,170.72 243.33,173.16 249.95,177.74 256.56,183.84 263.18,186.59 269.8,187.2"/>
<polyline stroke="#E95536" points="197,181.1 203.62,179.26 210.24,186.28 216.85,181.1 223.47,177.13 230.09,173.47 236.71,171.02 243.33,173.47 249.95,178.04 256.56,184.15 263.18,186.59 269.8,187.2"/>
<polyline stroke="#6685D9" points="197,169.96 203.62,176.18 210.24,185.32 216.85,180.03 223.47,176.19 230.09,172.36 236.71,169.85 243.33,172.47 249.95,177.19 256.56,183.55 263.18,186.49 269.8,187.17"/>
<polyline stroke="#E19C24" points="197,180.96 203.62,179 210.24,185.9 216.85,180.6 223.47,176.51 230.09,172.65 236.71,170.25 243.33,172.83 249.95,177.54 256.56,183.87 263.18,186.51 269.8,187.19"/>
<polyline stroke="#F89F13" points="197,169.22 203.62,175.63 210.24,184.74 216.85,179.3 223.47,175.15 230.09,171.04 236.71,168.42 243.33,171.34 249.95,176.29 256.56,183.06 263.18,186.33 269.8,187.13"/>
<polyline stroke="#8FB032" points="197,180.72 203.62,178.56 210.24,185.28 216.85,179.8 223.47,175.49 230.09,171.31 236.71,168.98 243.33,171.79 249.95,176.71 256.56,183.4 263.18,186.37 269.8,187.16"/>
<polyline stroke="#BC5B80" points="197,168.32 203.62,174.94 210.24,184.04 216.85,178.39 223.47,173.87 230.09,169.42 236.71,166.65 243.33,169.95 249.95,175.18 256.56,182.47 263.18,186.13 269.8,187.07"/>
<polyline stroke="#EB6235" points="197,180.44 203.62,178.02 210.24,184.51 216.85,178.8 223.47,174.24 230.09,169.66 236.71,167.42 243.33,170.52 249.95,175.68 256.56,182.84 263.18,186.2 269.8,187.13"/>
<polyline stroke="#47B66D" points="197,167.28 203.62,174.16 210.24,183.22 216.85,177.35 223.47,172.41 230.09,167.57 236.71,164.64 243.33,168.36 249.95,173.91 256.56,181.78 263.18,185.9 269.8,187"/>
<polyline stroke="#7F6FC4" points="197,180.12 203.62,177.4 210.24,183.64 216.85,177.66 223.47,172.81 230.09,167.78 236.71,165.63 243.33,169.05 249.95,174.51 256.56,182.19 263.18,186 269.8,187.1"/>
<polyline stroke="#5E81B5" points="197,166.13 203.62,173.3 210.24,182.32 216.85,176.2 223.47,170.79 230.09,165.52 236.71,162.41 243.33,166.59 249.95,172.51 256.56,181.03 263.18,185.65 269.8,186.93"/>
<polyline stroke="#C56E1A" points="197,179.76 203.62,176.72 210.24,182.67 216.85,176.4 223.47,171.23 230.09,165.69 236.71,163.65 243.33,167.43 249.95,173.22 256.56,181.47 263.18,185.79 269.8,187.07"/>
<polyline stroke="#E19C24" points="197,164.88 203.62,172.37 210.24,181.35 216.85,174.95 223.47,169.04 230.09,163.3 236.71,159.99 243.33,164.68 249.95,170.99 256.56,180.21 263.18,185.38 269.8,186.85"/>
<polyline stroke="#5D9EC7" points="197,179.37 203.62,175.98 210.24,181.61 216.85,175.04 223.47,169.52 230.09,163.43 236.71,161.51 243.33,165.68 249.95,171.82 256.56,180.69 263.18,185.55 269.8,187.03"/>
<polyline stroke="#8FB032" points="197,163.54 203.62,171.37 210.24,180.31 216.85,173.62 223.47,167.16 230.09,160.92 236.71,157.41 243.33,162.64 249.95,169.37 256.56,179.33 263.18,185.09 269.8,186.77"/>
<polyline stroke="#FFBF00" points="197,178.95 203.62,175.19 210.24,180.49 216.85,173.58 223.47,167.68 230.09,161.01 236.71,159.22 243.33,163.81 249.95,170.32 256.56,179.85 263.18,185.3 269.8,186.99"/>
<polyline stroke="#EB6235" points="197,162.13 203.62,170.31 210.24,179.2 216.85,172.2 223.47,165.18 230.09,158.41 236.71,154.67 243.33,160.48 249.95,167.65 256.56,178.41 263.18,184.78 269.8,186.68"/>
<polyline stroke="#A5609D" points="197,178.51 203.62,174.35 210.24,179.3 216.85,172.04 223.47,165.74 230.09,158.46 236.71,156.79 243.33,161.82 249.95,168.73 256.56,178.97 263.18,185.04 269.8,186.94"/>
<polyline stroke="#7F6FC4" points="197,160.65 203.62,169.19 210.24,178.04 216.85,170.72 223.47,163.09 230.09,155.76 236.71,151.8 243.33,158.21 249.95,165.84 256.56,177.43 263.18,184.45 269.8,186.59"/>
<polyline stroke="#929600" points="197,178.04 203.62,173.47 210.24,178.04 216.85,170.41 223.47,163.7 230.09,155.76 236.71,154.24 243.33,159.73 249.95,167.06 256.56,178.04 263.18,184.76 269.8,186.89"/>
</g>
<g clip-path="url(#k12)" fill="none" stroke-width="1.25" stroke-linejoin="round">
<polyline stroke="#E95536" points="298.1,187.2 304.72,187.2 311.34,187.2 317.95,185.81 324.57,176.38 331.19,178.74 337.81,163.34 344.43,169.03 351.05,179.57 357.66,186.09 364.28,187.2 370.9,187.2"/>
<polyline stroke="#EB6235" points="298.1,187.11 304.72,187.17 311.34,187.03 317.95,185.41 324.57,175.77 331.19,178.23 337.81,162.34 344.43,168.2 351.05,179.16 357.66,186.03 364.28,187.19 370.9,187.2"/>
<polyline stroke="#7F6FC4" points="298.1,186.97 304.72,187.12 311.34,186.75 317.95,184.76 324.57,174.78 331.19,177.39 337.81,160.71 344.43,166.85 351.05,178.48 357.66,185.92 364.28,187.18 370.9,187.19"/>
<polyline stroke="#C56E1A" points="298.1,186.8 304.72,187.07 311.34,186.4 317.95,183.95 324.57,173.56 331.19,176.35 337.81,158.71 344.43,165.18 351.05,177.64 357.66,185.8 364.28,187.16 370.9,187.19"/>
<polyline stroke="#5D9EC7" points="298.1,186.6 304.72,187 311.34,186 317.95,183.02 324.57,172.16 331.19,175.17 337.81,156.41 344.43,163.27 351.05,176.68 357.66,185.65 364.28,187.14 370.9,187.18"/>
<polyline stroke="#FFBF00" points="298.1,186.38 304.72,186.93 311.34,185.57 317.95,182 324.57,170.61 331.19,173.86 337.81,153.86 344.43,161.16 351.05,175.62 357.66,185.49 364.28,187.12 370.9,187.17"/>
<polyline stroke="#A5609D" points="298.1,186.15 304.72,186.85 311.34,185.09 317.95,180.89 324.57,168.93 331.19,172.45 337.81,151.11 344.43,158.87 351.05,174.47 357.66,185.32 364.28,187.09 370.9,187.16"/>
<polyline stroke="#929600" points="298.1,185.89 304.72,186.76 311.34,184.58 317.95,179.71 324.57,167.14 331.19,170.93 337.81,148.16 344.43,156.43 351.05,173.25 357.66,185.13 364.28,187.07 370.9,187.16"/>
<polyline stroke="#E95536" points="298.1,185.62 304.72,186.67 311.34,184.05 317.95,178.45 324.57,165.23 331.19,169.33 337.81,145.05 344.43,153.83 351.05,171.95 357.66,184.93 364.28,187.04 370.9,187.15"/>
<polyline stroke="#6685D9" points="298.1,185.34 304.72,186.58 311.34,183.48 317.95,177.13 324.57,163.24 331.19,167.64 337.81,141.77 344.43,151.11 351.05,170.58 357.66,184.73 364.28,187.01 370.9,187.14"/>
<polyline stroke="#F89F13" points="298.1,185.04 304.72,186.48 311.34,182.89 317.95,175.75 324.57,161.15 331.19,165.88 337.81,138.34 344.43,148.26 351.05,169.15 357.66,184.51 364.28,186.98 370.9,187.13"/>
<polyline stroke="#BC5B80" points="298.1,184.74 304.72,186.38 311.34,182.27 317.95,174.32 324.57,158.97 331.19,164.04 337.81,134.77 344.43,145.3 351.05,167.67 357.66,184.28 364.28,186.95 370.9,187.12"/>
<polyline stroke="#47B66D" points="298.1,184.42 304.72,186.27 311.34,181.64 317.95,172.83 324.57,156.72 331.19,162.14 337.81,131.07 344.43,142.23 351.05,166.12 357.66,184.05 364.28,186.92 370.9,187.11"/>
<polyline stroke="#5E81B5" points="298.1,184.09 304.72,186.16 311.34,180.98 317.95,171.29 324.57,154.39 331.19,160.17 337.81,127.24 344.43,139.05 351.05,164.53 357.66,183.81 364.28,186.89 370.9,187.1"/>
<polyline stroke="#E19C24" points="298.1,183.75 304.72,186.05 311.34,180.3 317.95,169.7 324.57,151.98 331.19,158.14 337.81,123.29 344.43,135.77 351.05,162.88 357.66,183.56 364.28,186.85 370.9,187.08"/>
<polyline stroke="#8FB032" points="298.1,183.4 304.72,185.93 311.34,179.6 317.95,168.07 324.57,149.51 331.19,156.05 337.81,119.23 344.43,132.4 351.05,161.19 357.66,183.3 364.28,186.82 370.9,187.07"/>
<polyline stroke="#EB6235" points="298.1,183.04 304.72,185.81 311.34,178.88 317.95,166.39 324.57,146.97 331.19,153.91 337.81,115.06 344.43,128.93 351.05,159.45 357.66,183.04 364.28,186.78 370.9,187.06"/>
<polyline stroke="#8A7FD0" points="298.1,180.96 304.72,185.12 311.34,173.33 317.95,159.87 324.57,140.87 331.19,144.19 337.81,117.84 344.43,126.99 351.05,156.54 357.66,182.62 364.28,186.51 370.9,186.92"/>
<polyline stroke="#929600" points="298.1,184.43 304.72,186.51 311.34,184.43 317.95,176.1 324.57,149.19 331.19,142.81 337.81,110.9 344.43,130.32 351.05,160.84 357.66,184.43 364.28,187.2 370.9,187.2"/>
</g>
<g clip-path="url(#k13)" fill="none" stroke-width="1.25" stroke-linejoin="round">
<polyline stroke="#E95536" points="399.2,166.6 405.82,178.43 412.44,166.6 419.05,170.8 425.67,173.47 432.29,178.81 438.91,172.7 445.53,184.34 452.15,184.34 458.76,186.82 465.38,187.2 472,187.2"/>
<polyline stroke="#E95536" points="399.2,184.15 405.82,186.06 412.44,177.66 419.05,173.85 425.67,168.12 432.29,173.85 438.91,170.03 445.53,185.29 452.15,185.29 458.76,187.2 465.38,187.2 472,187.2"/>
<polyline stroke="#6685D9" points="399.2,166.25 405.82,178.07 412.44,165.35 419.05,169.35 425.67,171.12 432.29,176.61 438.91,170.59 445.53,183.36 452.15,183.33 458.76,186.59 465.38,187.18 472,187.2"/>
<polyline stroke="#E19C24" points="399.2,184.08 405.82,185.99 412.44,177.31 419.05,172.74 425.67,165.71 432.29,171.52 438.91,167.78 445.53,184.13 452.15,184.13 458.76,187.02 465.38,187.2 472,187.2"/>
<polyline stroke="#F89F13" points="399.2,165.67 405.82,177.5 412.44,163.3 419.05,166.99 425.67,167.29 432.29,173 438.91,167.13 445.53,181.76 452.15,181.67 458.76,186.21 465.38,187.15 472,187.2"/>
<polyline stroke="#8FB032" points="399.2,183.96 405.82,185.87 412.44,176.73 419.05,170.92 425.67,161.76 432.29,167.72 438.91,164.09 445.53,182.23 452.15,182.23 458.76,186.74 465.38,187.2 472,187.2"/>
<polyline stroke="#BC5B80" points="399.2,164.96 405.82,176.79 412.44,160.78 419.05,164.08 425.67,162.57 432.29,168.56 438.91,162.87 445.53,179.79 452.15,179.63 458.76,185.75 465.38,187.12 472,187.2"/>
<polyline stroke="#EB6235" points="399.2,183.82 405.82,185.73 412.44,176.02 419.05,168.68 425.67,156.9 432.29,163.03 438.91,159.54 445.53,179.88 452.15,179.88 458.76,186.38 465.38,187.2 472,187.2"/>
<polyline stroke="#47B66D" points="399.2,164.15 405.82,175.97 412.44,157.9 419.05,160.74 425.67,157.16 432.29,163.48 438.91,157.99 445.53,177.54 452.15,177.29 458.76,185.22 465.38,187.08 472,187.2"/>
<polyline stroke="#7F6FC4" points="399.2,183.66 405.82,185.57 412.44,175.21 419.05,166.12 425.67,151.33 432.29,157.67 438.91,154.34 445.53,177.2 452.15,177.2 458.76,185.97 465.38,187.2 472,187.2"/>
<polyline stroke="#5E81B5" points="399.2,163.25 405.82,175.07 412.44,154.7 419.05,157.06 425.67,151.18 432.29,157.86 438.91,152.6 445.53,175.04 452.15,174.71 458.76,184.64 465.38,187.03 472,187.2"/>
<polyline stroke="#C56E1A" points="399.2,183.48 405.82,185.39 412.44,174.31 419.05,163.29 425.67,145.17 432.29,151.73 438.91,148.59 445.53,174.23 452.15,174.23 458.76,185.52 465.38,187.2 472,187.2"/>
<polyline stroke="#E19C24" points="399.2,162.27 405.82,174.1 412.44,151.24 419.05,153.06 425.67,144.7 432.29,151.78 438.91,146.75 445.53,172.34 452.15,171.9 458.76,184.01 465.38,186.98 472,187.2"/>
<polyline stroke="#5D9EC7" points="399.2,183.28 405.82,185.19 412.44,173.34 419.05,160.22 425.67,138.5 432.29,145.3 438.91,142.35 445.53,171.02 452.15,171.02 458.76,185.04 465.38,187.2 472,187.2"/>
<polyline stroke="#8FB032" points="399.2,161.23 405.82,173.06 412.44,147.55 419.05,148.79 425.67,137.78 432.29,145.26 438.91,140.5 445.53,169.45 452.15,168.91 458.76,183.33 465.38,186.93 472,187.2"/>
<polyline stroke="#FFBF00" points="399.2,183.07 405.82,184.98 412.44,172.3 419.05,156.94 425.67,131.36 432.29,138.43 438.91,135.68 445.53,167.58 452.15,167.58 458.76,184.52 465.38,187.2 472,187.2"/>
<polyline stroke="#EB6235" points="399.2,160.13 405.82,171.96 412.44,143.63 419.05,144.27 425.67,130.44 432.29,138.37 438.91,133.88 445.53,166.38 452.15,165.74 458.76,182.61 465.38,186.88 472,187.2"/>
<polyline stroke="#A5609D" points="399.2,182.85 405.82,184.76 412.44,171.19 419.05,153.47 425.67,123.8 432.29,131.14 438.91,128.62 445.53,163.94 452.15,163.94 458.76,183.96 465.38,187.2 472,187.2"/>
<polyline stroke="#7F6FC4" points="399.2,158.97 405.82,170.8 412.44,139.51 419.05,139.51 425.67,122.73 432.29,131.12 438.91,126.92 445.53,163.17 452.15,162.4 458.76,181.86 465.38,186.82 472,187.2"/>
<polyline stroke="#929600" points="399.2,182.62 405.82,184.53 412.44,170.03 419.05,149.81 425.67,115.86 432.29,123.49 438.91,121.2 445.53,160.11 452.15,160.11 458.76,183.38 465.38,187.2 472,187.2"/>
</g>
<g clip-path="url(#k14)" fill="none" stroke-width="1.25" stroke-linejoin="round">
<polyline stroke="#E95536" points="500.3,187.2 506.92,187.2 513.54,185.29 520.15,187.2 526.77,182.43 533.39,180.05 540.01,165.26 546.63,173.37 553.25,183.38 559.86,187.2 566.48,187.2 573.1,187.2"/>
<polyline stroke="#BC5B80" points="500.3,187.15 506.92,187.15 513.54,185.15 520.15,187.08 526.77,181.75 533.39,178.88 540.01,163.91 546.63,172.36 553.25,183 559.86,187.17 566.48,187.2 573.1,187.2"/>
<polyline stroke="#47B66D" points="500.3,187.06 506.92,187.06 513.54,184.9 520.15,186.89 526.77,180.65 533.39,176.98 540.01,161.69 546.63,170.69 553.25,182.38 559.86,187.12 566.48,187.2 573.1,187.2"/>
<polyline stroke="#5E81B5" points="500.3,186.95 506.92,186.95 513.54,184.61 520.15,186.65 526.77,179.28 533.39,174.64 540.01,158.96 546.63,168.65 553.25,181.6 559.86,187.06 566.48,187.2 573.1,187.2"/>
<polyline stroke="#E19C24" points="500.3,186.83 506.92,186.83 513.54,184.27 520.15,186.38 526.77,177.72 533.39,171.95 540.01,155.84 546.63,166.3 553.25,180.72 559.86,187 566.48,187.2 573.1,187.2"/>
<polyline stroke="#8FB032" points="500.3,186.7 506.92,186.7 513.54,183.89 520.15,186.08 526.77,175.99 533.39,168.99 540.01,152.38 546.63,163.71 553.25,179.75 559.86,186.92 566.48,187.2 573.1,187.2"/>
<polyline stroke="#EB6235" points="500.3,186.55 506.92,186.55 513.54,183.49 520.15,185.75 526.77,174.12 533.39,165.77 540.01,148.64 546.63,160.9 553.25,178.69 559.86,186.84 566.48,187.2 573.1,187.2"/>
<polyline stroke="#7F6FC4" points="500.3,186.39 506.92,186.39 513.54,183.05 520.15,185.41 526.77,172.12 533.39,162.33 540.01,144.63 546.63,157.9 553.25,177.56 559.86,186.75 566.48,187.2 573.1,187.2"/>
<polyline stroke="#C56E1A" points="500.3,186.23 506.92,186.23 513.54,182.59 520.15,185.04 526.77,170 533.39,158.69 540.01,140.39 546.63,154.72 553.25,176.36 559.86,186.66 566.48,187.2 573.1,187.2"/>
<polyline stroke="#5D9EC7" points="500.3,186.05 506.92,186.05 513.54,182.1 520.15,184.65 526.77,167.77 533.39,154.86 540.01,135.94 546.63,151.37 553.25,175.1 559.86,186.56 566.48,187.2 573.1,187.2"/>
<polyline stroke="#FFBF00" points="500.3,185.87 506.92,185.87 513.54,181.6 520.15,184.24 526.77,165.44 533.39,150.86 540.01,131.27 546.63,147.88 553.25,173.78 559.86,186.46 566.48,187.2 573.1,187.2"/>
<polyline stroke="#A5609D" points="500.3,185.68 506.92,185.68 513.54,181.07 520.15,183.82 526.77,163.01 533.39,146.69 540.01,126.42 546.63,144.24 553.25,172.41 559.86,186.36 566.48,187.2 573.1,187.2"/>
<polyline stroke="#929600" points="500.3,185.48 506.92,185.48 513.54,180.52 520.15,183.38 526.77,160.5 533.39,142.37 540.01,121.39 546.63,140.47 553.25,170.99 559.86,186.25 566.48,187.2 573.1,187.2"/>
<polyline stroke="#8A7FD0" points="500.3,185.29 506.92,185.29 513.54,178.62 520.15,183.38 526.77,161.93 533.39,144.28 540.01,124.25 546.63,142.37 553.25,171.94 559.86,186.25 566.48,187.2 573.1,187.2"/>
</g>
<g clip-path="url(#k20)" fill="none" stroke-width="1.25" stroke-linejoin="round">
<polyline stroke="#E95536" points="95.9,288.66 102.52,289.7 109.14,289.7 115.75,289.7 122.37,289.7 128.99,289.35 135.61,277.91 142.23,279.64 148.85,284.5 155.46,289.01 162.08,289.7 168.7,289.7"/>
<polyline stroke="#7F6FC4" points="95.9,288.61 102.52,289.68 109.14,289.69 115.75,289.67 122.37,289.59 128.99,289.19 135.61,277.58 142.23,279.33 148.85,284.29 155.46,288.8 162.08,289.7 168.7,289.7"/>
<polyline stroke="#C56E1A" points="95.9,288.53 102.52,289.64 109.14,289.68 115.75,289.62 122.37,289.42 128.99,288.92 135.61,277.04 142.23,278.81 148.85,283.95 155.46,288.46 162.08,289.7 168.7,289.7"/>
<polyline stroke="#5D9EC7" points="95.9,288.43 102.52,289.6 109.14,289.67 115.75,289.57 122.37,289.2 128.99,288.59 135.61,276.38 142.23,278.18 148.85,283.53 155.46,288.04 162.08,289.7 168.7,289.7"/>
<polyline stroke="#FFBF00" points="95.9,288.31 102.52,289.55 109.14,289.65 115.75,289.5 122.37,288.95 128.99,288.21 135.61,275.62 142.23,277.45 148.85,283.05 155.46,287.56 162.08,289.7 168.7,289.7"/>
<polyline stroke="#A5609D" points="95.9,288.18 102.52,289.5 109.14,289.63 115.75,289.43 122.37,288.68 128.99,287.79 135.61,274.78 142.23,276.65 148.85,282.52 155.46,287.03 162.08,289.7 168.7,289.7"/>
<polyline stroke="#929600" points="95.9,288.04 102.52,289.44 109.14,289.61 115.75,289.35 122.37,288.38 128.99,287.33 135.61,273.87 142.23,275.78 148.85,281.95 155.46,286.46 162.08,289.7 168.7,289.7"/>
<polyline stroke="#E95536" points="95.9,287.9 102.52,289.37 109.14,289.59 115.75,289.26 122.37,288.06 128.99,286.85 135.61,272.89 142.23,274.85 148.85,281.34 155.46,285.85 162.08,289.7 168.7,289.7"/>
<polyline stroke="#6685D9" points="95.9,287.74 102.52,289.31 109.14,289.57 115.75,289.17 122.37,287.73 128.99,286.33 135.61,271.86 142.23,273.86 148.85,280.69 155.46,285.2 162.08,289.7 168.7,289.7"/>
<polyline stroke="#F89F13" points="95.9,287.57 102.52,289.24 109.14,289.55 115.75,289.08 122.37,287.38 128.99,285.79 135.61,270.78 142.23,272.82 148.85,280 155.46,284.51 162.08,289.7 168.7,289.7"/>
<polyline stroke="#BC5B80" points="95.9,287.4 102.52,289.16 109.14,289.52 115.75,288.98 122.37,287.01 128.99,285.22 135.61,269.65 142.23,271.74 148.85,279.29 155.46,283.8 162.08,289.7 168.7,289.7"/>
<polyline stroke="#47B66D" points="95.9,287.22 102.52,289.08 109.14,289.49 115.75,288.88 122.37,286.62 128.99,284.63 135.61,268.47 142.23,270.61 148.85,278.55 155.46,283.05 162.08,289.7 168.7,289.7"/>
<polyline stroke="#5E81B5" points="95.9,287.04 102.52,289 109.14,289.47 115.75,288.77 122.37,286.22 128.99,284.02 135.61,267.24 142.23,269.44 148.85,277.77 155.46,282.28 162.08,289.7 168.7,289.7"/>
<polyline stroke="#E19C24" points="95.9,286.84 102.52,288.92 109.14,289.44 115.75,288.66 122.37,285.81 128.99,283.39 135.61,265.98 142.23,268.23 148.85,276.98 155.46,281.49 162.08,289.7 168.7,289.7"/>
<polyline stroke="#8FB032" points="95.9,286.65 102.52,288.84 109.14,289.41 115.75,288.55 122.37,285.38 128.99,282.74 135.61,264.67 142.23,266.98 148.85,276.15 155.46,280.66 162.08,289.7 168.7,289.7"/>
<polyline stroke="#EB6235" points="95.9,286.44 102.52,288.75 109.14,289.38 115.75,288.43 122.37,284.95 128.99,282.07 135.61,263.33 142.23,265.7 148.85,275.31 155.46,279.82 162.08,289.7 168.7,289.7"/>
<polyline stroke="#7F6FC4" points="95.9,286.23 102.52,288.66 109.14,289.35 115.75,288.31 122.37,284.5 128.99,281.38 135.61,261.95 142.23,264.38 148.85,274.44 155.46,278.95 162.08,289.7 168.7,289.7"/>
</g>
<g clip-path="url(#k21)" fill="none" stroke-width="1.25" stroke-linejoin="round">
<polyline stroke="#E95536" points="197,288.17 203.62,289.7 210.24,289.7 216.85,289.7 223.47,289.7 230.09,289.7 236.71,288.78 243.33,289.09 249.95,289.39 256.56,289.7 263.18,289.7 269.8,289.7"/>
<polyline stroke="#929600" points="197,287.92 203.62,289.7 210.24,289.7 216.85,289.7 223.47,289.64 230.09,289.59 236.71,288.61 243.33,288.98 249.95,289.29 256.56,289.64 263.18,289.66 269.8,289.7"/>
<polyline stroke="#E95536" points="197,287.5 203.62,289.7 210.24,289.7 216.85,289.7 223.47,289.54 230.09,289.41 236.71,288.34 243.33,288.8 249.95,289.11 256.56,289.54 263.18,289.6 269.8,289.7"/>
<polyline stroke="#6685D9" points="197,286.99 203.62,289.7 210.24,289.7 216.85,289.7 223.47,289.42 230.09,289.19 236.71,287.99 243.33,288.58 249.95,288.89 256.56,289.42 263.18,289.53 269.8,289.7"/>
<polyline stroke="#F89F13" points="197,286.4 203.62,289.7 210.24,289.7 216.85,289.7 223.47,289.28 230.09,288.94 236.71,287.6 243.33,288.33 249.95,288.63 256.56,289.28 263.18,289.45 269.8,289.7"/>
<polyline stroke="#BC5B80" points="197,285.75 203.62,289.7 210.24,289.7 216.85,289.7 223.47,289.12 230.09,288.66 236.71,287.17 243.33,288.05 249.95,288.35 256.56,289.12 263.18,289.35 269.8,289.7"/>
<polyline stroke="#47B66D" points="197,285.04 203.62,289.7 210.24,289.7 216.85,289.7 223.47,288.95 230.09,288.36 236.71,286.69 243.33,287.75 249.95,288.05 256.56,288.95 263.18,289.25 269.8,289.7"/>
<polyline stroke="#5E81B5" points="197,284.28 203.62,289.7 210.24,289.7 216.85,289.7 223.47,288.77 230.09,288.03 236.71,286.19 243.33,287.42 249.95,287.73 256.56,288.77 263.18,289.14 269.8,289.7"/>
<polyline stroke="#E19C24" points="197,283.48 203.62,289.7 210.24,289.7 216.85,289.7 223.47,288.58 230.09,287.69 236.71,285.66 243.33,287.08 249.95,287.38 256.56,288.58 263.18,289.03 269.8,289.7"/>
<polyline stroke="#8FB032" points="197,282.64 203.62,289.7 210.24,289.7 216.85,289.7 223.47,288.38 230.09,287.33 236.71,285.1 243.33,286.72 249.95,287.02 256.56,288.38 263.18,288.91 269.8,289.7"/>
<polyline stroke="#EB6235" points="197,281.76 203.62,289.7 210.24,289.7 216.85,289.7 223.47,288.17 230.09,286.95 236.71,284.51 243.33,286.34 249.95,286.65 256.56,288.17 263.18,288.78 269.8,289.7"/>
<polyline stroke="#8A7FD0" points="197,279.63 203.62,289.7 210.24,289.7 216.85,289.7 223.47,288.17 230.09,286.95 236.71,284.51 243.33,286.34 249.95,286.65 256.56,288.17 263.18,288.78 269.8,289.7"/>
</g>
<g clip-path="url(#k22)" fill="none" stroke-width="1.25" stroke-linejoin="round">
<polyline stroke="#E95536" points="298.1,289.01 304.72,289.7 311.34,289.7 317.95,289.7 324.57,289.7 331.19,289.7 337.81,289.28 344.43,282.76 351.05,285.54 357.66,289.01 364.28,289.7 370.9,289.7"/>
<polyline stroke="#7F6FC4" points="298.1,288.94 304.72,289.68 311.34,289.65 317.95,289.64 324.57,289.63 331.19,289.61 337.81,288.93 344.43,282.49 351.05,285.36 357.66,288.9 364.28,289.69 370.9,289.7"/>
<polyline stroke="#C56E1A" points="298.1,288.83 304.72,289.65 311.34,289.56 317.95,289.54 324.57,289.52 331.19,289.47 337.81,288.34 344.43,282.04 351.05,285.08 357.66,288.72 364.28,289.67 370.9,289.7"/>
<polyline stroke="#5D9EC7" points="298.1,288.7 304.72,289.62 311.34,289.46 317.95,289.42 324.57,289.38 331.19,289.3 337.81,287.62 344.43,281.49 351.05,284.73 357.66,288.5 364.28,289.65 370.9,289.7"/>
<polyline stroke="#FFBF00" points="298.1,288.55 304.72,289.58 311.34,289.34 317.95,289.28 324.57,289.22 331.19,289.1 337.81,286.79 344.43,280.85 351.05,284.32 357.66,288.25 364.28,289.62 370.9,289.7"/>
<polyline stroke="#A5609D" points="298.1,288.38 304.72,289.54 311.34,289.21 317.95,289.13 324.57,289.05 331.19,288.88 337.81,285.88 344.43,280.15 351.05,283.88 357.66,287.97 364.28,289.59 370.9,289.7"/>
<polyline stroke="#929600" points="298.1,288.2 304.72,289.49 311.34,289.07 317.95,288.96 324.57,288.86 331.19,288.65 337.81,284.89 344.43,279.39 351.05,283.39 357.66,287.67 364.28,289.56 370.9,289.7"/>
<polyline stroke="#E95536" points="298.1,288 304.72,289.44 311.34,288.92 317.95,288.78 324.57,288.65 331.19,288.39 337.81,283.83 344.43,278.58 351.05,282.88 357.66,287.35 364.28,289.53 370.9,289.7"/>
<polyline stroke="#6685D9" points="298.1,287.8 304.72,289.38 311.34,288.75 317.95,288.6 324.57,288.44 331.19,288.12 337.81,282.71 344.43,277.72 351.05,282.33 357.66,287.01 364.28,289.49 370.9,289.7"/>
<polyline stroke="#F89F13" points="298.1,287.58 304.72,289.33 311.34,288.58 317.95,288.4 324.57,288.21 331.19,287.84 337.81,281.53 344.43,276.81 351.05,281.76 357.66,286.65 364.28,289.45 370.9,289.7"/>
<polyline stroke="#BC5B80" points="298.1,287.35 304.72,289.27 311.34,288.41 317.95,288.19 324.57,287.98 331.19,287.54 337.81,280.3 344.43,275.87 351.05,281.16 357.66,286.28 364.28,289.41 370.9,289.7"/>
<polyline stroke="#47B66D" points="298.1,287.12 304.72,289.21 311.34,288.22 317.95,287.98 324.57,287.73 331.19,287.24 337.81,279.02 344.43,274.88 351.05,280.53 357.66,285.89 364.28,289.37 370.9,289.7"/>
<polyline stroke="#5E81B5" points="298.1,286.87 304.72,289.14 311.34,288.03 317.95,287.75 324.57,287.47 331.19,286.92 337.81,277.69 344.43,273.86 351.05,279.88 357.66,285.48 364.28,289.33 370.9,289.7"/>
<polyline stroke="#E19C24" points="298.1,286.62 304.72,289.08 311.34,287.83 317.95,287.52 324.57,287.21 331.19,286.59 337.81,276.32 344.43,272.81 351.05,279.21 357.66,285.06 364.28,289.29 370.9,289.7"/>
<polyline stroke="#8FB032" points="298.1,286.36 304.72,289.01 311.34,287.63 317.95,287.28 324.57,286.94 331.19,286.25 337.81,274.9 344.43,271.72 351.05,278.52 357.66,284.63 364.28,289.24 370.9,289.7"/>
<polyline stroke="#EB6235" points="298.1,286.09 304.72,288.94 311.34,287.42 317.95,287.04 324.57,286.66 331.19,285.9 337.81,273.44 344.43,270.6 351.05,277.81 357.66,284.19 364.28,289.19 370.9,289.7"/>
<polyline stroke="#7F6FC4" points="298.1,285.82 304.72,288.87 311.34,287.2 317.95,286.79 324.57,286.37 331.19,285.54 337.81,271.94 344.43,269.45 351.05,277.08 357.66,283.73 364.28,289.15 370.9,289.7"/>
</g>
<g clip-path="url(#k23)" fill="none" stroke-width="1.25" stroke-linejoin="round">
<polyline stroke="#E95536" points="399.2,276.35 405.82,286.65 412.44,287.79 419.05,288.17 425.67,287.79 432.29,283.98 438.91,278.25 445.53,288.56 452.15,283.98 458.76,288.94 465.38,289.7 472,289.7"/>
<polyline stroke="#7F6FC4" points="399.2,276.23 405.82,286.5 412.44,287.47 419.05,287.89 425.67,287.38 432.29,283.55 438.91,277.86 445.53,288.35 452.15,283.54 458.76,288.74 465.38,289.68 472,289.68"/>
<polyline stroke="#C56E1A" points="399.2,276.04 405.82,286.25 412.44,286.94 419.05,287.43 425.67,286.69 432.29,282.86 438.91,277.22 445.53,288.02 452.15,282.82 458.76,288.42 465.38,289.64 472,289.64"/>
<polyline stroke="#5D9EC7" points="399.2,275.8 405.82,285.95 412.44,286.29 419.05,286.86 425.67,285.85 432.29,282 438.91,276.42 445.53,287.6 452.15,281.93 458.76,288.02 465.38,289.59 472,289.59"/>
<polyline stroke="#FFBF00" points="399.2,275.53 405.82,285.61 412.44,285.55 419.05,286.2 425.67,284.89 432.29,281.02 438.91,275.52 445.53,287.13 452.15,280.91 458.76,287.57 465.38,289.54 472,289.54"/>
<polyline stroke="#A5609D" points="399.2,275.22 405.82,285.23 412.44,284.72 419.05,285.48 425.67,283.82 432.29,279.93 438.91,274.51 445.53,286.61 452.15,279.79 458.76,287.07 465.38,289.48 472,289.48"/>
<polyline stroke="#929600" points="399.2,274.9 405.82,284.81 412.44,283.83 419.05,284.7 425.67,282.67 432.29,278.76 438.91,273.42 445.53,286.04 452.15,278.57 458.76,286.52 465.38,289.41 472,289.41"/>
<polyline stroke="#E95536" points="399.2,274.55 405.82,284.37 412.44,282.88 419.05,283.86 425.67,281.44 432.29,277.5 438.91,272.26 445.53,285.44 452.15,277.26 458.76,285.94 465.38,289.34 472,289.34"/>
<polyline stroke="#6685D9" points="399.2,274.18 405.82,283.9 412.44,281.87 419.05,282.97 425.67,280.13 432.29,276.17 438.91,271.03 445.53,284.8 452.15,275.88 458.76,285.32 465.38,289.27 472,289.27"/>
<polyline stroke="#F89F13" points="399.2,273.79 405.82,283.41 412.44,280.8 419.05,282.04 425.67,278.76 432.29,274.77 438.91,269.73 445.53,284.12 452.15,274.43 458.76,284.68 465.38,289.19 472,289.19"/>
<polyline stroke="#BC5B80" points="399.2,273.38 405.82,282.89 412.44,279.69 419.05,281.06 425.67,277.32 432.29,273.31 438.91,268.38 445.53,283.42 452.15,272.91 458.76,284 465.38,289.11 472,289.11"/>
<polyline stroke="#47B66D" points="399.2,272.96 405.82,282.36 412.44,278.54 419.05,280.05 425.67,275.83 432.29,271.79 438.91,266.97 445.53,282.69 452.15,271.33 458.76,283.29 465.38,289.02 472,289.02"/>
<polyline stroke="#5E81B5" points="399.2,272.52 405.82,281.8 412.44,277.34 419.05,278.99 425.67,274.28 432.29,270.21 438.91,265.5 445.53,281.92 452.15,269.7 458.76,282.56 465.38,288.93 472,288.93"/>
<polyline stroke="#E19C24" points="399.2,272.07 405.82,281.23 412.44,276.1 419.05,277.9 425.67,272.67 432.29,268.57 438.91,263.99 445.53,281.14 452.15,268 458.76,281.81 465.38,288.84 472,288.84"/>
<polyline stroke="#8FB032" points="399.2,271.6 405.82,280.64 412.44,274.82 419.05,276.78 425.67,271.02 432.29,266.89 438.91,262.43 445.53,280.33 452.15,266.26 458.76,281.03 465.38,288.75 472,288.75"/>
<polyline stroke="#EB6235" points="399.2,271.12 405.82,280.03 412.44,273.5 419.05,275.63 425.67,269.32 432.29,265.16 438.91,260.83 445.53,279.49 452.15,264.46 458.76,280.22 465.38,288.65 472,288.65"/>
<polyline stroke="#7F6FC4" points="399.2,270.62 405.82,279.4 412.44,272.15 419.05,274.44 425.67,267.57 432.29,263.38 438.91,259.18 445.53,278.64 452.15,262.61 458.76,279.4 465.38,288.56 472,288.56"/>
</g>
<g clip-path="url(#k24)" fill="none" stroke-width="1.25" stroke-linejoin="round">
<polyline stroke="#E95536" points="500.3,288.75 506.92,289.7 513.54,289.7 520.15,289.7 526.77,288.75 533.39,289.22 540.01,289.7 546.63,289.7 553.25,289.7 559.86,289.7 566.48,289.7 573.1,289.7"/>
<polyline stroke="#929600" points="500.3,288.63 506.92,289.7 513.54,289.66 520.15,289.62 526.77,288.54 533.39,289.05 540.01,289.58 546.63,289.59 553.25,289.65 559.86,289.68 566.48,289.7 573.1,289.7"/>
<polyline stroke="#E95536" points="500.3,288.45 506.92,289.7 513.54,289.6 520.15,289.5 526.77,288.2 533.39,288.77 540.01,289.38 546.63,289.4 553.25,289.58 559.86,289.65 566.48,289.7 573.1,289.7"/>
<polyline stroke="#6685D9" points="500.3,288.22 506.92,289.7 513.54,289.52 520.15,289.35 526.77,287.77 533.39,288.43 540.01,289.13 546.63,289.17 553.25,289.49 559.86,289.61 566.48,289.7 573.1,289.7"/>
<polyline stroke="#F89F13" points="500.3,287.95 506.92,289.7 513.54,289.44 520.15,289.17 526.77,287.29 533.39,288.03 540.01,288.85 546.63,288.91 553.25,289.38 559.86,289.57 566.48,289.7 573.1,289.7"/>
<polyline stroke="#BC5B80" points="500.3,287.66 506.92,289.7 513.54,289.34 520.15,288.98 526.77,286.76 533.39,287.6 540.01,288.54 546.63,288.62 553.25,289.27 559.86,289.52 566.48,289.7 573.1,289.7"/>
<polyline stroke="#47B66D" points="500.3,287.35 506.92,289.7 513.54,289.23 520.15,288.77 526.77,286.18 533.39,287.12 540.01,288.21 546.63,288.3 553.25,289.14 559.86,289.47 566.48,289.7 573.1,289.7"/>
<polyline stroke="#5E81B5" points="500.3,287.01 506.92,289.7 513.54,289.12 520.15,288.54 526.77,285.56 533.39,286.62 540.01,287.85 546.63,287.96 553.25,289.01 559.86,289.41 566.48,289.7 573.1,289.7"/>
<polyline stroke="#E19C24" points="500.3,286.65 506.92,289.7 513.54,289 520.15,288.3 526.77,284.91 533.39,286.08 540.01,287.47 546.63,287.61 553.25,288.86 559.86,289.35 566.48,289.7 573.1,289.7"/>
<polyline stroke="#8FB032" points="500.3,286.28 506.92,289.7 513.54,288.88 520.15,288.05 526.77,284.22 533.39,285.52 540.01,287.07 546.63,287.23 553.25,288.71 559.86,289.29 566.48,289.7 573.1,289.7"/>
<polyline stroke="#EB6235" points="500.3,285.88 506.92,289.7 513.54,288.75 520.15,287.79 526.77,283.5 533.39,284.93 540.01,286.65 546.63,286.84 553.25,288.56 559.86,289.22 566.48,289.7 573.1,289.7"/>
<polyline stroke="#8A7FD0" points="500.3,274.44 506.92,289.7 513.54,287.98 520.15,287.12 526.77,282.07 533.39,284.65 540.01,286.36 546.63,286.36 553.25,287.98 559.86,288.75 566.48,289.7 573.1,289.7"/>
</g>
<g clip-path="url(#k30)" fill="none" stroke-width="1.25" stroke-linejoin="round">
<polyline stroke="#E95536" points="95.9,392.25 102.52,392.6 109.14,392.6 115.75,391.91 122.37,387.4 128.99,379.77 135.61,359.65 142.23,371.79 148.85,385.66 155.46,391.91 162.08,392.6 168.7,392.6"/>
<polyline stroke="#EB6235" points="95.9,392.19 102.52,392.55 109.14,392.52 115.75,391.63 122.37,386.98 128.99,379.54 135.61,359.49 142.23,371.58 148.85,385.47 155.46,391.77 162.08,392.59 168.7,392.6"/>
<polyline stroke="#7F6FC4" points="95.9,392.08 102.52,392.48 109.14,392.39 115.75,391.18 122.37,386.31 128.99,379.18 135.61,359.22 142.23,371.24 148.85,385.16 155.46,391.56 162.08,392.58 168.7,392.6"/>
<polyline stroke="#C56E1A" points="95.9,391.95 102.52,392.39 109.14,392.23 115.75,390.62 122.37,385.47 128.99,378.73 135.61,358.89 142.23,370.81 148.85,384.78 155.46,391.29 162.08,392.57 168.7,392.6"/>
<polyline stroke="#5D9EC7" points="95.9,391.8 102.52,392.28 109.14,392.05 115.75,389.99 122.37,384.52 128.99,378.21 135.61,358.51 142.23,370.33 148.85,384.34 155.46,390.99 162.08,392.55 168.7,392.6"/>
<polyline stroke="#FFBF00" points="95.9,391.63 102.52,392.16 109.14,391.85 115.75,389.28 122.37,383.46 128.99,377.64 135.61,358.09 142.23,369.79 148.85,383.85 155.46,390.66 162.08,392.54 168.7,392.6"/>
<polyline stroke="#A5609D" points="95.9,391.45 102.52,392.04 109.14,391.63 115.75,388.52 122.37,382.31 128.99,377.02 135.61,357.63 142.23,369.21 148.85,383.32 155.46,390.29 162.08,392.52 168.7,392.6"/>
<polyline stroke="#929600" points="95.9,391.25 102.52,391.9 109.14,391.4 115.75,387.7 122.37,381.09 128.99,376.36 135.61,357.15 142.23,368.59 148.85,382.76 155.46,389.9 162.08,392.5 168.7,392.6"/>
<polyline stroke="#E95536" points="95.9,391.05 102.52,391.75 109.14,391.15 115.75,386.84 122.37,379.79 128.99,375.66 135.61,356.63 142.23,367.93 148.85,382.16 155.46,389.49 162.08,392.48 168.7,392.6"/>
<polyline stroke="#6685D9" points="95.9,390.83 102.52,391.6 109.14,390.89 115.75,385.93 122.37,378.43 128.99,374.93 135.61,356.09 142.23,367.24 148.85,381.53 155.46,389.06 162.08,392.46 168.7,392.6"/>
<polyline stroke="#F89F13" points="95.9,390.6 102.52,391.45 109.14,390.62 115.75,384.98 122.37,377 128.99,374.16 135.61,355.53 142.23,366.51 148.85,380.88 155.46,388.61 162.08,392.44 168.7,392.6"/>
<polyline stroke="#BC5B80" points="95.9,390.37 102.52,391.28 109.14,390.34 115.75,383.99 122.37,375.52 128.99,373.36 135.61,354.94 142.23,365.76 148.85,380.2 155.46,388.14 162.08,392.41 168.7,392.6"/>
<polyline stroke="#47B66D" points="95.9,390.12 102.52,391.11 109.14,390.04 115.75,382.96 122.37,373.98 128.99,372.53 135.61,354.33 142.23,364.98 148.85,379.49 155.46,387.65 162.08,392.39 168.7,392.6"/>
<polyline stroke="#5E81B5" points="95.9,389.87 102.52,390.93 109.14,389.74 115.75,381.9 122.37,372.39 128.99,371.67 135.61,353.7 142.23,364.17 148.85,378.76 155.46,387.14 162.08,392.36 168.7,392.6"/>
<polyline stroke="#E19C24" points="95.9,389.61 102.52,390.75 109.14,389.43 115.75,380.81 122.37,370.75 128.99,370.78 135.61,353.05 142.23,363.33 148.85,378 155.46,386.62 162.08,392.34 168.7,392.6"/>
<polyline stroke="#8FB032" points="95.9,389.34 102.52,390.56 109.14,389.11 115.75,379.68 122.37,369.06 128.99,369.87 135.61,352.38 142.23,362.48 148.85,377.22 155.46,386.08 162.08,392.31 168.7,392.6"/>
<polyline stroke="#EB6235" points="95.9,389.07 102.52,390.37 109.14,388.78 115.75,378.53 122.37,367.33 128.99,368.94 135.61,351.69 142.23,361.6 148.85,376.42 155.46,385.53 162.08,392.28 168.7,392.6"/>
<polyline stroke="#7F6FC4" points="95.9,388.79 102.52,390.17 109.14,388.44 115.75,377.34 122.37,365.55 128.99,367.98 135.61,350.98 142.23,360.69 148.85,375.61 155.46,384.97 162.08,392.25 168.7,392.6"/>
</g>
<g clip-path="url(#k31)" fill="none" stroke-width="1.25" stroke-linejoin="round">
<polyline stroke="#E95536" points="197,375.81 203.62,385.58 210.24,389.55 216.85,391.68 223.47,387.11 230.09,383.44 236.71,380.39 243.33,384.36 249.95,387.41 256.56,390.77 263.18,391.99 269.8,392.6"/>
<polyline stroke="#E95536" points="197,390.77 203.62,384.97 210.24,384.97 216.85,389.55 223.47,386.5 230.09,383.44 236.71,380.39 243.33,384.97 249.95,387.72 256.56,390.77 263.18,391.99 269.8,392.6"/>
<polyline stroke="#BC5B80" points="197,375.69 203.62,385.44 210.24,389.41 216.85,391.58 223.47,386.97 230.09,383.32 236.71,380.23 243.33,384.3 249.95,387.31 256.56,390.67 263.18,391.92 269.8,392.58"/>
<polyline stroke="#EB6235" points="197,390.73 203.62,384.89 210.24,384.87 216.85,389.49 223.47,386.4 230.09,383.34 236.71,380.25 243.33,384.91 249.95,387.66 256.56,390.73 263.18,391.97 269.8,392.6"/>
<polyline stroke="#47B66D" points="197,375.5 203.62,385.21 210.24,389.18 216.85,391.42 223.47,386.74 230.09,383.13 236.71,379.97 243.33,384.2 249.95,387.15 256.56,390.5 263.18,391.8 269.8,392.55"/>
<polyline stroke="#7F6FC4" points="197,390.66 203.62,384.76 210.24,384.71 216.85,389.39 223.47,386.23 230.09,383.18 236.71,380.02 243.33,384.81 249.95,387.56 256.56,390.66 263.18,391.94 269.8,392.6"/>
<polyline stroke="#5E81B5" points="197,375.25 203.62,384.93 210.24,388.9 216.85,391.22 223.47,386.45 230.09,382.88 236.71,379.65 243.33,384.08 249.95,386.95 256.56,390.3 263.18,391.66 269.8,392.51"/>
<polyline stroke="#C56E1A" points="197,390.58 203.62,384.6 210.24,384.5 216.85,389.27 223.47,386.03 230.09,382.98 236.71,379.74 243.33,384.69 249.95,387.44 256.56,390.58 263.18,391.9 269.8,392.6"/>
<polyline stroke="#E19C24" points="197,374.98 203.62,384.6 210.24,388.57 216.85,390.99 223.47,386.13 230.09,382.61 236.71,379.28 243.33,383.94 249.95,386.71 256.56,390.07 263.18,391.5 269.8,392.46"/>
<polyline stroke="#5D9EC7" points="197,390.49 203.62,384.41 210.24,384.27 216.85,389.13 223.47,385.8 230.09,382.75 236.71,379.42 243.33,384.55 249.95,387.3 256.56,390.49 263.18,391.85 269.8,392.6"/>
<polyline stroke="#8FB032" points="197,374.67 203.62,384.25 210.24,388.21 216.85,390.73 223.47,385.77 230.09,382.3 236.71,378.87 243.33,383.79 249.95,386.46 256.56,389.82 263.18,391.32 269.8,392.41"/>
<polyline stroke="#FFBF00" points="197,390.39 203.62,384.21 210.24,384.02 216.85,388.98 223.47,385.54 230.09,382.49 236.71,379.06 243.33,384.4 249.95,387.15 256.56,390.39 263.18,391.8 269.8,392.6"/>
<polyline stroke="#EB6235" points="197,374.34 203.62,383.86 210.24,387.83 216.85,390.45 223.47,385.38 230.09,381.97 236.71,378.42 243.33,383.62 249.95,386.18 256.56,389.54 263.18,391.13 269.8,392.35"/>
<polyline stroke="#A5609D" points="197,390.28 203.62,383.99 210.24,383.74 216.85,388.81 223.47,385.27 230.09,382.21 236.71,378.67 243.33,384.23 249.95,386.98 256.56,390.28 263.18,391.74 269.8,392.6"/>
<polyline stroke="#7F6FC4" points="197,373.98 203.62,383.44 210.24,387.41 216.85,390.16 223.47,384.97 230.09,381.61 236.71,377.95 243.33,383.44 249.95,385.89 256.56,389.24 263.18,390.92 269.8,392.29"/>
<polyline stroke="#929600" points="197,390.16 203.62,383.75 210.24,383.44 216.85,388.63 223.47,384.97 230.09,381.92 236.71,378.26 243.33,384.05 249.95,386.8 256.56,390.16 263.18,391.68 269.8,392.6"/>
</g>
<g clip-path="url(#k32)" fill="none" stroke-width="1.25" stroke-linejoin="round">
<polyline stroke="#E95536" points="298.1,392.6 304.72,392.6 311.34,392.6 317.95,392.6 324.57,382.33 331.19,383.17 337.81,370.96 344.43,377.48 351.05,387.33 357.66,392.18 364.28,392.6 370.9,392.6"/>
<polyline stroke="#EB6235" points="298.1,392.6 304.72,392.6 311.34,392.51 317.95,392.31 324.57,381.86 331.19,382.8 337.81,370.52 344.43,377.1 351.05,387.09 357.66,392.1 364.28,392.59 370.9,392.6"/>
<polyline stroke="#7F6FC4" points="298.1,392.6 304.72,392.6 311.34,392.37 317.95,391.85 324.57,381.08 331.19,382.21 337.81,369.8 344.43,376.49 351.05,386.71 357.66,391.96 364.28,392.58 370.9,392.6"/>
<polyline stroke="#C56E1A" points="298.1,392.6 304.72,392.6 311.34,392.2 317.95,391.27 324.57,380.12 331.19,381.48 337.81,368.91 344.43,375.73 351.05,386.24 357.66,391.78 364.28,392.56 370.9,392.6"/>
<polyline stroke="#5D9EC7" points="298.1,392.6 304.72,392.6 311.34,392 317.95,390.61 324.57,379.03 331.19,380.64 337.81,367.89 344.43,374.87 351.05,385.69 357.66,391.59 364.28,392.54 370.9,392.6"/>
<polyline stroke="#FFBF00" points="298.1,392.6 304.72,392.6 311.34,391.78 317.95,389.88 324.57,377.81 331.19,379.71 337.81,366.77 344.43,373.91 351.05,385.1 357.66,391.37 364.28,392.52 370.9,392.6"/>
<polyline stroke="#A5609D" points="298.1,392.6 304.72,392.6 311.34,391.55 317.95,389.09 324.57,376.5 331.19,378.7 337.81,365.55 344.43,372.88 351.05,384.45 357.66,391.13 364.28,392.49 370.9,392.6"/>
<polyline stroke="#929600" points="298.1,392.6 304.72,392.6 311.34,391.29 317.95,388.24 324.57,375.1 331.19,377.63 337.81,364.24 344.43,371.77 351.05,383.75 357.66,390.88 364.28,392.47 370.9,392.6"/>
<polyline stroke="#E95536" points="298.1,392.6 304.72,392.6 311.34,391.02 317.95,387.34 324.57,373.61 331.19,376.49 337.81,362.86 344.43,370.59 351.05,383.02 357.66,390.61 364.28,392.44 370.9,392.6"/>
<polyline stroke="#6685D9" points="298.1,392.6 304.72,392.6 311.34,390.74 317.95,386.4 324.57,372.04 331.19,375.29 337.81,361.41 344.43,369.36 351.05,382.25 357.66,390.32 364.28,392.41 370.9,392.6"/>
<polyline stroke="#F89F13" points="298.1,392.6 304.72,392.6 311.34,390.44 317.95,385.42 324.57,370.41 331.19,374.04 337.81,359.89 344.43,368.07 351.05,381.44 357.66,390.03 364.28,392.38 370.9,392.6"/>
<polyline stroke="#BC5B80" points="298.1,392.6 304.72,392.6 311.34,390.14 317.95,384.39 324.57,368.71 331.19,372.74 337.81,358.32 344.43,366.72 351.05,380.6 357.66,389.72 364.28,392.35 370.9,392.6"/>
<polyline stroke="#47B66D" points="298.1,392.6 304.72,392.6 311.34,389.82 317.95,383.33 324.57,366.94 331.19,371.39 337.81,356.68 344.43,365.33 351.05,379.72 357.66,389.4 364.28,392.32 370.9,392.6"/>
<polyline stroke="#5E81B5" points="298.1,392.6 304.72,392.6 311.34,389.49 317.95,382.23 324.57,365.11 331.19,369.99 337.81,354.98 344.43,363.89 351.05,378.82 357.66,389.07 364.28,392.29 370.9,392.6"/>
<polyline stroke="#E19C24" points="298.1,392.6 304.72,392.6 311.34,389.15 317.95,381.09 324.57,363.23 331.19,368.55 337.81,353.24 344.43,362.4 351.05,377.89 357.66,388.73 364.28,392.25 370.9,392.6"/>
<polyline stroke="#8FB032" points="298.1,392.6 304.72,392.6 311.34,388.8 317.95,379.93 324.57,361.29 331.19,367.07 337.81,351.44 344.43,360.88 351.05,376.94 357.66,388.38 364.28,392.22 370.9,392.6"/>
<polyline stroke="#EB6235" points="298.1,392.6 304.72,392.6 311.34,388.44 317.95,378.73 324.57,359.31 331.19,365.55 337.81,349.59 344.43,359.31 351.05,375.95 357.66,388.02 364.28,392.18 370.9,392.6"/>
<polyline stroke="#8A7FD0" points="298.1,392.6 304.72,392.6 311.34,388.02 317.95,377.62 324.57,355.56 331.19,363.74 337.81,348.9 344.43,358.61 351.05,375.26 357.66,387.61 364.28,392.05 370.9,392.6"/>
<polyline stroke="#929600" points="298.1,392.6 304.72,392.6 311.34,392.6 317.95,390.52 324.57,364.58 331.19,363.74 337.81,346.54 344.43,357.09 351.05,374.15 357.66,390.52 364.28,392.6 370.9,392.6"/>
</g>
<g clip-path="url(#k33)" fill="none" stroke-width="1.25" stroke-linejoin="round">
<polyline stroke="#E95536" points="399.2,390.69 405.82,388.79 412.44,380.01 419.05,381.16 425.67,381.54 432.29,384.21 438.91,377.34 445.53,389.93 452.15,389.93 458.76,392.6 465.38,392.6 472,392.6"/>
<polyline stroke="#E95536" points="399.2,392.6 405.82,392.6 412.44,388.79 419.05,384.97 425.67,381.16 432.29,383.06 438.91,377.34 445.53,389.55 452.15,389.55 458.76,392.6 465.38,392.6 472,392.6"/>
<polyline stroke="#6685D9" points="399.2,390.62 405.82,388.73 412.44,379.57 419.05,380.59 425.67,380.59 432.29,383.24 438.91,376.5 445.53,389.45 452.15,389.45 458.76,392.44 465.38,392.55 472,392.56"/>
<polyline stroke="#E19C24" points="399.2,392.6 405.82,392.6 412.44,388.64 419.05,384.74 425.67,380.15 432.29,382.18 438.91,376.48 445.53,389.07 452.15,389.07 458.76,392.56 465.38,392.6 472,392.6"/>
<polyline stroke="#F89F13" points="399.2,390.51 405.82,388.65 412.44,378.85 419.05,379.67 425.67,379.03 432.29,381.65 438.91,375.11 445.53,388.68 452.15,388.68 458.76,392.18 465.38,392.46 472,392.51"/>
<polyline stroke="#8FB032" points="399.2,392.6 405.82,392.6 412.44,388.41 419.05,384.37 425.67,378.51 432.29,380.74 438.91,375.06 445.53,388.29 452.15,388.29 458.76,392.51 465.38,392.6 472,392.6"/>
<polyline stroke="#BC5B80" points="399.2,390.36 405.82,388.54 412.44,377.96 419.05,378.53 425.67,377.11 432.29,379.7 438.91,373.41 445.53,387.72 452.15,387.72 458.76,391.86 465.38,392.35 472,392.44"/>
<polyline stroke="#EB6235" points="399.2,392.6 405.82,392.6 412.44,388.13 419.05,383.9 425.67,376.48 432.29,378.97 438.91,373.32 445.53,387.34 452.15,387.34 458.76,392.44 465.38,392.6 472,392.6"/>
<polyline stroke="#47B66D" points="399.2,390.2 405.82,388.42 412.44,376.95 419.05,377.23 425.67,374.92 432.29,377.46 438.91,371.46 445.53,386.62 452.15,386.62 458.76,391.5 465.38,392.23 472,392.35"/>
<polyline stroke="#7F6FC4" points="399.2,392.6 405.82,392.6 412.44,387.8 419.05,383.38 425.67,374.17 432.29,376.93 438.91,371.33 445.53,386.24 452.15,386.24 458.76,392.35 465.38,392.6 472,392.6"/>
<polyline stroke="#5E81B5" points="399.2,390.02 405.82,388.28 412.44,375.82 419.05,375.79 425.67,372.49 432.29,374.99 438.91,369.3 445.53,385.41 452.15,385.41 458.76,391.09 465.38,392.1 472,392.26"/>
<polyline stroke="#C56E1A" points="399.2,392.6 405.82,392.6 412.44,387.44 419.05,382.79 425.67,371.61 432.29,374.69 438.91,369.13 445.53,385.02 452.15,385.02 458.76,392.26 465.38,392.6 472,392.6"/>
<polyline stroke="#E19C24" points="399.2,389.83 405.82,388.14 412.44,374.6 419.05,374.23 425.67,369.86 432.29,372.31 438.91,366.96 445.53,384.09 452.15,384.09 458.76,390.65 465.38,391.95 472,392.17"/>
<polyline stroke="#5D9EC7" points="399.2,392.6 405.82,392.6 412.44,387.05 419.05,382.16 425.67,368.83 432.29,372.25 438.91,366.74 445.53,383.71 452.15,383.71 458.76,392.17 465.38,392.6 472,392.6"/>
<polyline stroke="#8FB032" points="399.2,389.62 405.82,387.98 412.44,373.3 419.05,372.57 425.67,367.05 432.29,369.45 438.91,364.46 445.53,382.68 452.15,382.68 458.76,390.18 465.38,391.79 472,392.06"/>
<polyline stroke="#FFBF00" points="399.2,392.6 405.82,392.6 412.44,386.64 419.05,381.48 425.67,365.86 432.29,369.65 438.91,364.19 445.53,382.3 452.15,382.3 458.76,392.06 465.38,392.6 472,392.6"/>
<polyline stroke="#EB6235" points="399.2,389.4 405.82,387.81 412.44,371.92 419.05,370.8 425.67,364.07 432.29,366.41 438.91,361.81 445.53,381.19 452.15,381.19 458.76,389.69 465.38,391.63 472,391.95"/>
<polyline stroke="#A5609D" points="399.2,392.6 405.82,392.6 412.44,386.2 419.05,380.76 425.67,362.72 432.29,366.89 438.91,361.49 445.53,380.81 452.15,380.81 458.76,391.95 465.38,392.6 472,392.6"/>
<polyline stroke="#7F6FC4" points="399.2,389.17 405.82,387.64 412.44,370.47 419.05,368.95 425.67,360.94 432.29,363.22 438.91,359.03 445.53,379.63 452.15,379.63 458.76,389.17 465.38,391.46 472,391.84"/>
<polyline stroke="#929600" points="399.2,392.6 405.82,392.6 412.44,385.73 419.05,380.01 425.67,359.41 432.29,363.99 438.91,358.65 445.53,379.25 452.15,379.25 458.76,391.84 465.38,392.6 472,392.6"/>
</g>
<g clip-path="url(#k34)" fill="none" stroke-width="1.25" stroke-linejoin="round">
<polyline stroke="#E95536" points="500.3,392.6 506.92,392.6 513.54,391.65 520.15,392.6 526.77,391.65 533.39,389.74 540.01,382.11 546.63,382.11 553.25,389.74 559.86,392.6 566.48,392.6 573.1,392.6"/>
<polyline stroke="#BC5B80" points="500.3,392.57 506.92,392.59 513.54,391.57 520.15,392.57 526.77,391.38 533.39,389.27 540.01,381.3 546.63,381.61 553.25,389.52 559.86,392.57 566.48,392.6 573.1,392.6"/>
<polyline stroke="#47B66D" points="500.3,392.52 506.92,392.56 513.54,391.45 520.15,392.52 526.77,390.95 533.39,388.5 540.01,379.97 546.63,380.79 553.25,389.16 559.86,392.52 566.48,392.6 573.1,392.6"/>
<polyline stroke="#5E81B5" points="500.3,392.46 506.92,392.53 513.54,391.3 520.15,392.46 526.77,390.41 533.39,387.55 540.01,378.34 546.63,379.78 553.25,388.71 559.86,392.46 566.48,392.6 573.1,392.6"/>
<polyline stroke="#E19C24" points="500.3,392.4 506.92,392.5 513.54,391.13 520.15,392.4 526.77,389.8 533.39,386.46 540.01,376.48 546.63,378.63 553.25,388.2 559.86,392.4 566.48,392.6 573.1,392.6"/>
<polyline stroke="#8FB032" points="500.3,392.32 506.92,392.46 513.54,390.95 520.15,392.32 526.77,389.13 533.39,385.26 540.01,374.41 546.63,377.35 553.25,387.64 559.86,392.32 566.48,392.6 573.1,392.6"/>
<polyline stroke="#EB6235" points="500.3,392.24 506.92,392.42 513.54,390.74 520.15,392.24 526.77,388.39 533.39,383.96 540.01,372.17 546.63,375.96 553.25,387.03 559.86,392.24 566.48,392.6 573.1,392.6"/>
<polyline stroke="#7F6FC4" points="500.3,392.15 506.92,392.38 513.54,390.53 520.15,392.15 526.77,387.61 533.39,382.56 540.01,369.78 546.63,374.49 553.25,386.38 559.86,392.15 566.48,392.6 573.1,392.6"/>
<polyline stroke="#C56E1A" points="500.3,392.06 506.92,392.33 513.54,390.29 520.15,392.06 526.77,386.78 533.39,381.09 540.01,367.24 546.63,372.92 553.25,385.68 559.86,392.06 566.48,392.6 573.1,392.6"/>
<polyline stroke="#5D9EC7" points="500.3,391.96 506.92,392.28 513.54,390.05 520.15,391.96 526.77,385.91 533.39,379.54 540.01,364.58 546.63,371.27 553.25,384.96 559.86,391.96 566.48,392.6 573.1,392.6"/>
<polyline stroke="#FFBF00" points="500.3,391.86 506.92,392.23 513.54,389.8 520.15,391.86 526.77,385 533.39,377.92 540.01,361.79 546.63,369.55 553.25,384.2 559.86,391.86 566.48,392.6 573.1,392.6"/>
<polyline stroke="#A5609D" points="500.3,391.76 506.92,392.18 513.54,389.54 520.15,391.76 526.77,384.05 533.39,376.23 540.01,358.89 546.63,367.75 553.25,383.41 559.86,391.76 566.48,392.6 573.1,392.6"/>
<polyline stroke="#929600" points="500.3,391.65 506.92,392.12 513.54,389.26 520.15,391.65 526.77,383.06 533.39,374.48 540.01,355.88 546.63,365.9 553.25,382.59 559.86,391.65 566.48,392.6 573.1,392.6"/>
<polyline stroke="#8A7FD0" points="500.3,391.46 506.92,392.12 513.54,386.88 520.15,391.65 526.77,383.54 533.39,375.43 540.01,357.79 546.63,367.33 553.25,383.06 559.86,391.65 566.48,392.6 573.1,392.6"/>
</g>
<g clip-path="url(#k40)" fill="none" stroke-linejoin="round">
<polyline stroke="#5AAAEE" stroke-width="1.45" points="94.4,479.9 95.64,481.11 97.41,482.86 99.41,484.67 101.29,486.02 103.01,486.85 104.74,487.41 106.46,487.65 108.18,487.55 109.9,487.01 111.63,486.07 113.35,484.91 115.07,483.72 116.8,482.55 118.52,481.29 120.24,479.91 121.96,478.37 123.69,476.64 125.41,474.74 127.13,472.74 128.85,470.72 130.58,468.55 132.3,466.25 134.02,464.08 135.75,462.31 137.47,461.04 139.19,460.13 140.91,459.45 142.64,458.86 144.36,458.33 146.08,457.93 147.8,457.71 149.53,457.71 151.25,457.92 152.97,458.31 154.7,458.98 156.42,460.01 158.14,461.58 159.86,463.6 161.59,465.73 163.31,467.66 165.19,469.44 167.19,471.2 168.96,472.72 170.2,473.78"/>
<polyline stroke="#E07B22" stroke-width="2.0" points="94.4,478.37 95.64,478.29 97.41,478.18 99.41,477.98 101.29,477.6 103.01,477.09 104.74,476.46 106.46,475.63 108.18,474.54 109.9,473.25 111.63,471.77 113.35,469.95 115.07,467.66 116.8,464.43 118.52,460.49 120.24,456.69 121.96,453.89 123.69,452.48 125.41,451.95 127.13,451.82 128.85,451.59 130.58,451.1 132.3,450.61 134.02,450.33 135.75,450.45 137.47,451.04 139.19,452 140.91,453.24 142.64,454.65 144.36,456.34 146.08,458.31 147.8,460.37 149.53,462.31 151.25,464.15 152.97,465.99 154.7,467.7 156.42,469.19 158.14,470.47 159.86,471.58 161.59,472.45 163.31,473.01 165.19,473.13 167.19,472.87 168.96,472.5 170.2,472.25"/>
<polyline stroke="#FBB040" stroke-width="1.45" stroke-dasharray="3.6,2.0" points="94.4,479.9 95.64,481.19 97.41,483.08 99.41,485 101.29,486.4 103.01,487.17 104.74,487.6 106.46,487.71 108.18,487.55 109.9,487.06 111.63,486.24 113.35,485.21 115.07,484.11 116.8,482.96 118.52,481.69 120.24,480.3 121.96,478.75 123.69,477.02 125.41,475.12 127.13,473.12 128.85,471.1 130.58,468.94 132.3,466.63 134.02,464.46 135.75,462.69 137.47,461.42 139.19,460.51 140.91,459.83 142.64,459.25 144.36,458.72 146.08,458.31 147.8,458.09 149.53,458.1 151.25,458.3 152.97,458.7 154.7,459.36 156.42,460.39 158.14,461.96 159.86,463.95 161.59,466.09 163.31,468.04 165.19,469.9 167.19,471.77 168.96,473.4 170.2,474.54"/>
<polyline stroke="#A063B5" stroke-width="1.55" stroke-dasharray="3.6,2.0" points="94.4,479.13 95.64,478.9 97.41,478.56 99.41,478.13 101.29,477.6 103.01,477.04 104.74,476.41 106.46,475.61 108.18,474.54 109.9,473.25 111.63,471.77 113.35,469.95 115.07,467.66 116.8,464.43 118.52,460.49 120.24,456.69 121.96,453.89 123.69,452.48 125.41,451.95 127.13,451.82 128.85,451.59 130.58,451.1 132.3,450.61 134.02,450.33 135.75,450.45 137.47,451.04 139.19,452 140.91,453.24 142.64,454.65 144.36,456.34 146.08,458.31 147.8,460.37 149.53,462.31 151.25,464.12 152.97,465.89 154.7,467.59 156.42,469.19 158.14,470.64 159.86,471.96 161.59,473.24 163.31,474.54 165.19,476.01 167.19,477.56 168.96,478.94 170.2,479.9"/>
</g>
<g clip-path="url(#k41)" fill="none" stroke-linejoin="round">
<polyline stroke="#5AAAEE" stroke-width="1.45" points="195.5,476.46 196.74,477.73 198.51,479.59 200.51,481.5 202.39,482.96 204.11,483.87 205.84,484.49 207.56,484.82 209.28,484.87 211,484.59 212.73,483.99 214.45,483.16 216.17,482.19 217.9,481.01 219.62,479.59 221.34,478.13 223.06,476.84 224.79,475.7 226.51,474.64 228.23,473.72 229.95,473.01 231.68,472.57 233.4,472.35 235.12,472.26 236.85,472.25 238.57,472.35 240.29,472.58 242.01,472.84 243.74,473.01 245.46,473.04 247.18,472.99 248.9,472.95 250.63,473.01 252.35,473.2 254.07,473.47 255.8,473.79 257.52,474.16 259.24,474.57 260.96,475.02 262.69,475.53 264.41,476.07 266.29,476.75 268.29,477.53 270.06,478.25 271.3,478.75"/>
<polyline stroke="#E07B22" stroke-width="2.0" points="195.5,474.09 196.74,473.29 198.51,472.14 200.51,470.93 202.39,469.95 204.11,469.43 205.84,469.15 207.56,468.79 209.28,468.04 211,466.61 212.73,464.72 214.45,462.87 216.17,461.54 217.9,460.93 219.62,460.75 221.34,460.78 223.06,460.77 224.79,460.7 226.51,460.68 228.23,460.7 229.95,460.77 231.68,460.89 233.4,461.04 235.12,461.25 236.85,461.54 238.57,461.9 240.29,462.33 242.01,462.84 243.74,463.45 245.46,464.21 247.18,465.1 248.9,466.03 250.63,466.89 252.35,467.69 254.07,468.45 255.8,469.2 257.52,469.95 259.24,470.77 260.96,471.63 262.69,472.41 264.41,473.01 266.29,473.39 268.29,473.59 270.06,473.7 271.3,473.78"/>
<polyline stroke="#FBB040" stroke-width="1.45" stroke-dasharray="3.6,2.0" points="195.5,478.37 196.74,479.72 198.51,481.69 200.51,483.72 202.39,485.25 204.11,486.19 205.84,486.81 207.56,487.13 209.28,487.17 211,486.86 212.73,486.21 214.45,485.37 216.17,484.49 217.9,483.53 219.62,482.43 221.34,481.32 223.06,480.28 224.79,479.31 226.51,478.35 228.23,477.49 229.95,476.84 231.68,476.44 233.4,476.24 235.12,476.15 236.85,476.07 238.57,476.01 240.29,476 242.01,476.03 243.74,476.07 245.46,476.14 247.18,476.24 248.9,476.35 250.63,476.46 252.35,476.52 254.07,476.55 255.8,476.64 257.52,476.84 259.24,477.19 260.96,477.65 262.69,478.18 264.41,478.75 266.29,479.43 268.29,480.21 270.06,480.93 271.3,481.43"/>
<polyline stroke="#A063B5" stroke-width="1.55" stroke-dasharray="3.6,2.0" points="195.5,474.09 196.74,473.29 198.51,472.14 200.51,470.93 202.39,469.95 204.11,469.43 205.84,469.15 207.56,468.79 209.28,468.04 211,466.61 212.73,464.72 214.45,462.87 216.17,461.54 217.9,460.93 219.62,460.75 221.34,460.78 223.06,460.77 224.79,460.7 226.51,460.68 228.23,460.7 229.95,460.77 231.68,460.89 233.4,461.04 235.12,461.25 236.85,461.54 238.57,461.9 240.29,462.33 242.01,462.84 243.74,463.45 245.46,464.21 247.18,465.1 248.9,466.03 250.63,466.89 252.35,467.69 254.07,468.45 255.8,469.2 257.52,469.95 259.24,470.77 260.96,471.63 262.69,472.41 264.41,473.01 266.29,473.39 268.29,473.59 270.06,473.7 271.3,473.78"/>
</g>
<g clip-path="url(#k42)" fill="none" stroke-linejoin="round">
<polyline stroke="#5AAAEE" stroke-width="1.45" points="296.6,489.08 297.84,489.38 299.61,489.82 301.61,490.27 303.49,490.61 305.21,490.81 306.94,490.94 308.66,491 310.38,490.99 312.1,490.94 313.83,490.85 315.55,490.63 317.27,490.23 319,489.58 320.72,488.75 322.44,487.79 324.16,486.78 325.89,485.75 327.61,484.66 329.33,483.48 331.05,482.19 332.78,480.7 334.5,479.04 336.22,477.43 337.95,476.07 339.67,475.07 341.39,474.28 343.11,473.63 344.84,473.01 346.56,472.4 348.28,471.84 350,471.39 351.73,471.1 353.45,470.88 355.17,470.74 356.9,470.88 358.62,471.49 360.34,472.73 362.06,474.47 363.79,476.44 365.51,478.37 367.39,480.41 369.39,482.63 371.16,484.63 372.4,486.02"/>
<polyline stroke="#E07B22" stroke-width="2.0" points="296.6,488.77 297.84,489.02 299.61,489.41 301.61,489.68 303.49,489.62 305.21,489.11 306.94,488.3 308.66,487.31 310.38,486.25 312.1,485.38 313.83,484.57 315.55,483.34 317.27,481.2 319,477.66 320.72,473.08 322.44,468.34 324.16,464.29 325.89,461.05 327.61,458.18 329.33,455.77 331.05,453.89 332.78,452.53 334.5,451.66 336.22,451.33 337.95,451.59 339.67,452.6 341.39,454.27 343.11,456.33 344.84,458.48 346.56,460.72 348.28,463.19 350,465.79 351.73,468.43 353.45,471.24 355.17,474.22 356.9,477.08 358.62,479.52 360.34,481.44 362.06,483.02 363.79,484.32 365.51,485.41 367.39,486.26 369.39,486.85 371.16,487.25 372.4,487.55"/>
<polyline stroke="#FBB040" stroke-width="1.45" stroke-dasharray="3.6,2.0" points="296.6,489.08 297.84,489.56 299.61,490.25 301.61,490.94 303.49,491.38 305.21,491.48 306.94,491.38 308.66,491.18 310.38,490.99 312.1,490.88 313.83,490.78 315.55,490.59 317.27,490.23 319,489.65 320.72,488.91 322.44,488.07 324.16,487.17 325.89,486.24 327.61,485.25 329.33,484.17 331.05,482.96 332.78,481.49 334.5,479.83 336.22,478.2 337.95,476.84 339.67,475.82 341.39,475.02 343.11,474.37 344.84,473.78 346.56,473.25 348.28,472.82 350,472.49 351.73,472.25 353.45,471.98 355.17,471.72 356.9,471.73 358.62,472.25 360.34,473.49 362.06,475.26 363.79,477.25 365.51,479.13 367.39,481.02 369.39,483.01 371.16,484.78 372.4,486.02"/>
<polyline stroke="#A063B5" stroke-width="1.55" stroke-dasharray="3.6,2.0" points="296.6,488.77 297.84,489.02 299.61,489.41 301.61,489.68 303.49,489.62 305.21,489.11 306.94,488.3 308.66,487.31 310.38,486.25 312.1,485.38 313.83,484.57 315.55,483.34 317.27,481.2 319,477.66 320.72,473.08 322.44,468.34 324.16,464.29 325.89,461.03 327.61,458.13 329.33,455.71 331.05,453.89 332.78,452.7 334.5,452.09 336.22,452 337.95,452.36 339.67,453.26 341.39,454.7 343.11,456.5 344.84,458.48 346.56,460.67 348.28,463.14 350,465.77 351.73,468.43 353.45,471.24 355.17,474.22 356.9,477.08 358.62,479.52 360.34,481.44 362.06,483.02 363.79,484.32 365.51,485.41 367.39,486.26 369.39,486.85 371.16,487.25 372.4,487.55"/>
</g>
<g clip-path="url(#k43)" fill="none" stroke-linejoin="round">
<polyline stroke="#5AAAEE" stroke-width="1.45" points="397.7,463.83 398.94,465.89 400.71,468.9 402.71,471.87 404.59,473.78 406.31,474.28 408.04,473.92 409.76,473.12 411.48,472.25 413.2,471.37 414.93,470.29 416.65,469.04 418.37,467.66 420.1,466.03 421.82,464.17 423.54,462.33 425.26,460.77 426.99,459.54 428.71,458.5 430.43,457.65 432.15,456.95 433.88,456.53 435.6,456.35 437.32,456.19 439.05,455.8 440.77,455.09 442.49,454.2 444.21,453.25 445.94,452.36 447.66,451.55 449.38,450.76 451.1,450 452.83,449.3 454.55,448.56 456.27,447.82 458,447.24 459.72,447 461.44,447.17 463.16,447.63 464.89,448.35 466.61,449.3 468.49,450.7 470.49,452.5 472.26,454.23 473.5,455.42"/>
<polyline stroke="#E07B22" stroke-width="2.0" points="397.7,478.68 398.94,479.26 400.71,480.14 402.71,480.82 404.59,480.82 406.31,479.86 408.04,478.25 409.76,476.35 411.48,474.54 413.2,473 414.93,471.5 416.65,469.8 418.37,467.66 420.1,464.66 421.82,461.06 423.54,457.6 425.26,455.04 426.99,453.72 428.71,453.18 430.43,453.02 432.15,452.82 433.88,452.55 435.6,452.4 437.32,452.29 439.05,452.13 440.77,451.74 442.49,451.21 444.21,450.9 445.94,451.14 447.66,452.07 449.38,453.49 451.1,455.25 452.83,457.18 454.55,459.38 456.27,461.89 458,464.47 459.72,466.89 461.44,469.18 463.16,471.42 464.89,473.51 466.61,475.31 468.49,476.83 470.49,478.13 472.26,479.16 473.5,479.9"/>
<polyline stroke="#FBB040" stroke-width="1.45" stroke-dasharray="3.6,2.0" points="397.7,463.83 398.94,466.41 400.71,470.19 402.71,473.86 404.59,476.07 406.31,476.25 408.04,475.17 409.76,473.58 411.48,472.25 413.2,471.35 414.93,470.48 416.65,469.54 418.37,468.43 420.1,467 421.82,465.37 423.54,463.73 425.26,462.31 426.99,461.13 428.71,460.11 430.43,459.22 432.15,458.48 433.88,457.95 435.6,457.62 437.32,457.33 439.05,456.95 440.77,456.45 442.49,455.9 444.21,455.3 445.94,454.65 447.66,453.93 449.38,453.12 451.1,452.32 452.83,451.59 454.55,450.88 456.27,450.16 458,449.59 459.72,449.3 461.44,449.34 463.16,449.63 464.89,450.14 466.61,450.83 468.49,451.87 470.49,453.22 472.26,454.52 473.5,455.42"/>
<polyline stroke="#A063B5" stroke-width="1.55" stroke-dasharray="3.6,2.0" points="397.7,479.9 398.94,479.85 400.71,479.8 402.71,479.61 404.59,479.13 406.31,478.31 408.04,477.22 409.76,475.94 411.48,474.54 413.2,473.12 414.93,471.6 416.65,469.84 418.37,467.66 420.1,464.66 421.82,461.06 423.54,457.6 425.26,455.04 426.99,453.72 428.71,453.18 430.43,453.02 432.15,452.82 433.88,452.55 435.6,452.4 437.32,452.29 439.05,452.13 440.77,451.74 442.49,451.21 444.21,450.9 445.94,451.14 447.66,452.07 449.38,453.49 451.1,455.25 452.83,457.18 454.55,459.38 456.27,461.89 458,464.47 459.72,466.89 461.44,469.18 463.16,471.42 464.89,473.51 466.61,475.31 468.49,476.83 470.49,478.13 472.26,479.16 473.5,479.9"/>
</g>
<g clip-path="url(#k44)" fill="none" stroke-linejoin="round">
<polyline stroke="#5AAAEE" stroke-width="1.45" points="498.8,466.89 500.04,469.2 501.81,472.63 503.81,475.68 505.69,476.84 507.41,475.27 509.14,471.92 510.86,467.96 512.58,464.6 514.3,462.01 516.03,459.6 517.75,457.4 519.47,455.42 521.2,453.61 522.92,451.98 524.64,450.63 526.36,449.68 528.09,449.26 529.81,449.28 531.53,449.49 533.25,449.68 534.98,449.83 536.7,450.04 538.42,450.27 540.15,450.45 541.87,450.59 543.59,450.71 545.31,450.8 547.04,450.83 548.76,450.8 550.48,450.71 552.2,450.59 553.93,450.45 555.65,450.24 557.37,449.97 559.1,449.75 560.82,449.68 562.54,449.8 564.26,450.04 565.99,450.39 567.71,450.83 569.59,451.45 571.59,452.24 573.36,452.99 574.6,453.51"/>
<polyline stroke="#E07B22" stroke-width="2.0" points="498.8,472.25 500.04,472.66 501.81,473.3 503.81,473.61 505.69,473.01 507.41,471.18 509.14,468.47 510.86,465.36 512.58,462.31 514.3,459.3 516.03,456.14 517.75,453 519.47,450.06 521.2,447.29 522.92,444.61 524.64,442.18 526.36,440.12 528.09,438.56 529.81,437.39 531.53,436.44 533.25,435.53 534.98,434.51 536.7,433.52 538.42,432.77 540.15,432.47 541.87,432.68 543.59,433.28 545.31,434.25 547.04,435.53 548.76,437.28 550.48,439.45 552.2,441.77 553.93,443.94 555.65,445.81 557.37,447.55 559.1,449.4 560.82,451.59 562.54,454.32 564.26,457.4 565.99,460.55 567.71,463.45 569.59,466.23 571.59,468.97 573.36,471.35 574.6,473.01"/>
<polyline stroke="#FBB040" stroke-width="1.45" stroke-dasharray="3.6,2.0" points="498.8,468.43 500.04,470.99 501.81,474.78 503.81,478.27 505.69,479.9 507.41,478.92 509.14,476.27 510.86,472.94 512.58,469.95 514.3,467.35 516.03,464.67 517.75,462.15 519.47,460.01 521.2,458.31 522.92,456.93 524.64,455.84 526.36,455.04 528.09,454.6 529.81,454.51 531.53,454.59 533.25,454.65 534.98,454.7 536.7,454.8 538.42,454.92 540.15,455.04 541.87,455.15 543.59,455.28 545.31,455.38 547.04,455.42 548.76,455.4 550.48,455.32 552.2,455.2 553.93,455.04 555.65,454.76 557.37,454.39 559.1,454.06 560.82,453.89 562.54,453.91 564.26,454.06 565.99,454.31 567.71,454.65 569.59,455.17 571.59,455.85 573.36,456.5 574.6,456.95"/>
<polyline stroke="#A063B5" stroke-width="1.55" stroke-dasharray="3.6,2.0" points="498.8,472.25 500.04,472.66 501.81,473.3 503.81,473.61 505.69,473.01 507.41,471.18 509.14,468.47 510.86,465.36 512.58,462.31 514.3,459.3 516.03,456.14 517.75,453 519.47,450.06 521.2,447.29 522.92,444.61 524.64,442.18 526.36,440.12 528.09,438.56 529.81,437.39 531.53,436.44 533.25,435.53 534.98,434.51 536.7,433.52 538.42,432.77 540.15,432.47 541.87,432.68 543.59,433.28 545.31,434.25 547.04,435.53 548.76,437.28 550.48,439.45 552.2,441.77 553.93,443.94 555.65,445.81 557.37,447.55 559.1,449.4 560.82,451.59 562.54,454.32 564.26,457.4 565.99,460.55 567.71,463.45 569.59,466.23 571.59,468.97 573.36,471.35 574.6,473.01"/>
</g>
<path d="M95.9 84.7v-2M95.9 8.4v2M102.52 84.7v-1.2M102.52 8.4v1.2M109.14 84.7v-1.2M109.14 8.4v1.2M115.75 84.7v-2M115.75 8.4v2M122.37 84.7v-1.2M122.37 8.4v1.2M128.99 84.7v-1.2M128.99 8.4v1.2M135.61 84.7v-2M135.61 8.4v2M142.23 84.7v-1.2M142.23 8.4v1.2M148.85 84.7v-1.2M148.85 8.4v1.2M155.46 84.7v-2M155.46 8.4v2M162.08 84.7v-1.2M162.08 8.4v1.2M168.7 84.7v-1.2M168.7 8.4v1.2M94.4 84.7h2M170.2 84.7h-2M94.4 81.23h1.2M170.2 81.23h-1.2M94.4 77.76h1.2M170.2 77.76h-1.2M94.4 74.3h1.2M170.2 74.3h-1.2M94.4 70.83h1.2M170.2 70.83h-1.2M94.4 67.36h2M170.2 67.36h-2M94.4 63.89h1.2M170.2 63.89h-1.2M94.4 60.42h1.2M170.2 60.42h-1.2M94.4 56.95h1.2M170.2 56.95h-1.2M94.4 53.49h1.2M170.2 53.49h-1.2M94.4 50.02h2M170.2 50.02h-2M94.4 46.55h1.2M170.2 46.55h-1.2M94.4 43.08h1.2M170.2 43.08h-1.2M94.4 39.61h1.2M170.2 39.61h-1.2M94.4 36.15h1.2M170.2 36.15h-1.2M94.4 32.68h2M170.2 32.68h-2M94.4 29.21h1.2M170.2 29.21h-1.2M94.4 25.74h1.2M170.2 25.74h-1.2M94.4 22.27h1.2M170.2 22.27h-1.2M94.4 18.8h1.2M170.2 18.8h-1.2M94.4 15.34h2M170.2 15.34h-2M94.4 11.87h1.2M170.2 11.87h-1.2M94.4 8.4h1.2M170.2 8.4h-1.2" stroke="#222" stroke-width="0.7" fill="none"/>
<text class="t" transform="translate(92 86.95) scale(0.89 1)" font-size="6.3" text-anchor="end">0</text>
<text class="t" transform="translate(92 69.61) scale(0.89 1)" font-size="6.3" text-anchor="end">5</text>
<text class="t" transform="translate(92 52.27) scale(0.89 1)" font-size="6.3" text-anchor="end">10</text>
<text class="t" transform="translate(92 34.93) scale(0.89 1)" font-size="6.3" text-anchor="end">15</text>
<text class="t" transform="translate(92 17.59) scale(0.89 1)" font-size="6.3" text-anchor="end">20</text>
<text class="t" transform="translate(95.9 92.7) scale(0.89 1)" font-size="6.3" text-anchor="middle">Jan</text>
<text class="t" transform="translate(115.75 92.7) scale(0.89 1)" font-size="6.3" text-anchor="middle">Apr</text>
<text class="t" transform="translate(135.61 92.7) scale(0.89 1)" font-size="6.3" text-anchor="middle">Jul</text>
<text class="t" transform="translate(155.46 92.7) scale(0.89 1)" font-size="6.3" text-anchor="middle">Oct</text>
<text class="ti" x="132.3" y="6.4" font-size="7" text-anchor="middle">PNR</text>
<path d="M197 84.7v-2M197 8.4v2M203.62 84.7v-1.2M203.62 8.4v1.2M210.24 84.7v-1.2M210.24 8.4v1.2M216.85 84.7v-2M216.85 8.4v2M223.47 84.7v-1.2M223.47 8.4v1.2M230.09 84.7v-1.2M230.09 8.4v1.2M236.71 84.7v-2M236.71 8.4v2M243.33 84.7v-1.2M243.33 8.4v1.2M249.95 84.7v-1.2M249.95 8.4v1.2M256.56 84.7v-2M256.56 8.4v2M263.18 84.7v-1.2M263.18 8.4v1.2M269.8 84.7v-1.2M269.8 8.4v1.2M195.5 84.7h2M271.3 84.7h-2M195.5 81.65h1.2M271.3 81.65h-1.2M195.5 78.6h1.2M271.3 78.6h-1.2M195.5 75.54h1.2M271.3 75.54h-1.2M195.5 72.49h1.2M271.3 72.49h-1.2M195.5 69.44h2M271.3 69.44h-2M195.5 66.39h1.2M271.3 66.39h-1.2M195.5 63.34h1.2M271.3 63.34h-1.2M195.5 60.28h1.2M271.3 60.28h-1.2M195.5 57.23h1.2M271.3 57.23h-1.2M195.5 54.18h2M271.3 54.18h-2M195.5 51.13h1.2M271.3 51.13h-1.2M195.5 48.08h1.2M271.3 48.08h-1.2M195.5 45.02h1.2M271.3 45.02h-1.2M195.5 41.97h1.2M271.3 41.97h-1.2M195.5 38.92h2M271.3 38.92h-2M195.5 35.87h1.2M271.3 35.87h-1.2M195.5 32.82h1.2M271.3 32.82h-1.2M195.5 29.76h1.2M271.3 29.76h-1.2M195.5 26.71h1.2M271.3 26.71h-1.2M195.5 23.66h2M271.3 23.66h-2M195.5 20.61h1.2M271.3 20.61h-1.2M195.5 17.56h1.2M271.3 17.56h-1.2M195.5 14.5h1.2M271.3 14.5h-1.2M195.5 11.45h1.2M271.3 11.45h-1.2M195.5 8.4h2M271.3 8.4h-2" stroke="#222" stroke-width="0.7" fill="none"/>
<text class="t" transform="translate(193.1 86.95) scale(0.89 1)" font-size="6.3" text-anchor="end">0</text>
<text class="t" transform="translate(193.1 71.69) scale(0.89 1)" font-size="6.3" text-anchor="end">5</text>
<text class="t" transform="translate(193.1 56.43) scale(0.89 1)" font-size="6.3" text-anchor="end">10</text>
<text class="t" transform="translate(193.1 41.17) scale(0.89 1)" font-size="6.3" text-anchor="end">15</text>
<text class="t" transform="translate(193.1 25.91) scale(0.89 1)" font-size="6.3" text-anchor="end">20</text>
<text class="t" transform="translate(193.1 10.65) scale(0.89 1)" font-size="6.3" text-anchor="end">25</text>
<text class="t" transform="translate(197 92.7) scale(0.89 1)" font-size="6.3" text-anchor="middle">Jan</text>
<text class="t" transform="translate(216.85 92.7) scale(0.89 1)" font-size="6.3" text-anchor="middle">Apr</text>
<text class="t" transform="translate(236.71 92.7) scale(0.89 1)" font-size="6.3" text-anchor="middle">Jul</text>
<text class="t" transform="translate(256.56 92.7) scale(0.89 1)" font-size="6.3" text-anchor="middle">Oct</text>
<text class="ti" x="233.4" y="6.4" font-size="7" text-anchor="middle">CR</text>
<path d="M298.1 84.7v-2M298.1 8.4v2M304.72 84.7v-1.2M304.72 8.4v1.2M311.34 84.7v-1.2M311.34 8.4v1.2M317.95 84.7v-2M317.95 8.4v2M324.57 84.7v-1.2M324.57 8.4v1.2M331.19 84.7v-1.2M331.19 8.4v1.2M337.81 84.7v-2M337.81 8.4v2M344.43 84.7v-1.2M344.43 8.4v1.2M351.05 84.7v-1.2M351.05 8.4v1.2M357.66 84.7v-2M357.66 8.4v2M364.28 84.7v-1.2M364.28 8.4v1.2M370.9 84.7v-1.2M370.9 8.4v1.2M296.6 84.7h2M372.4 84.7h-2M296.6 81.93h1.2M372.4 81.93h-1.2M296.6 79.15h1.2M372.4 79.15h-1.2M296.6 76.38h1.2M372.4 76.38h-1.2M296.6 73.6h1.2M372.4 73.6h-1.2M296.6 70.83h2M372.4 70.83h-2M296.6 68.05h1.2M372.4 68.05h-1.2M296.6 65.28h1.2M372.4 65.28h-1.2M296.6 62.5h1.2M372.4 62.5h-1.2M296.6 59.73h1.2M372.4 59.73h-1.2M296.6 56.95h2M372.4 56.95h-2M296.6 54.18h1.2M372.4 54.18h-1.2M296.6 51.41h1.2M372.4 51.41h-1.2M296.6 48.63h1.2M372.4 48.63h-1.2M296.6 45.86h1.2M372.4 45.86h-1.2M296.6 43.08h2M372.4 43.08h-2M296.6 40.31h1.2M372.4 40.31h-1.2M296.6 37.53h1.2M372.4 37.53h-1.2M296.6 34.76h1.2M372.4 34.76h-1.2M296.6 31.98h1.2M372.4 31.98h-1.2M296.6 29.21h2M372.4 29.21h-2M296.6 26.43h1.2M372.4 26.43h-1.2M296.6 23.66h1.2M372.4 23.66h-1.2M296.6 20.89h1.2M372.4 20.89h-1.2M296.6 18.11h1.2M372.4 18.11h-1.2M296.6 15.34h2M372.4 15.34h-2M296.6 12.56h1.2M372.4 12.56h-1.2M296.6 9.79h1.2M372.4 9.79h-1.2" stroke="#222" stroke-width="0.7" fill="none"/>
<text class="t" transform="translate(294.2 86.95) scale(0.89 1)" font-size="6.3" text-anchor="end">0</text>
<text class="t" transform="translate(294.2 73.08) scale(0.89 1)" font-size="6.3" text-anchor="end">10</text>
<text class="t" transform="translate(294.2 59.2) scale(0.89 1)" font-size="6.3" text-anchor="end">20</text>
<text class="t" transform="translate(294.2 45.33) scale(0.89 1)" font-size="6.3" text-anchor="end">30</text>
<text class="t" transform="translate(294.2 31.46) scale(0.89 1)" font-size="6.3" text-anchor="end">40</text>
<text class="t" transform="translate(294.2 17.59) scale(0.89 1)" font-size="6.3" text-anchor="end">50</text>
<text class="t" transform="translate(298.1 92.7) scale(0.89 1)" font-size="6.3" text-anchor="middle">Jan</text>
<text class="t" transform="translate(317.95 92.7) scale(0.89 1)" font-size="6.3" text-anchor="middle">Apr</text>
<text class="t" transform="translate(337.81 92.7) scale(0.89 1)" font-size="6.3" text-anchor="middle">Jul</text>
<text class="t" transform="translate(357.66 92.7) scale(0.89 1)" font-size="6.3" text-anchor="middle">Oct</text>
<text class="ti" x="334.5" y="6.4" font-size="7" text-anchor="middle">MR</text>
<path d="M399.2 84.7v-2M399.2 8.4v2M405.82 84.7v-1.2M405.82 8.4v1.2M412.44 84.7v-1.2M412.44 8.4v1.2M419.05 84.7v-2M419.05 8.4v2M425.67 84.7v-1.2M425.67 8.4v1.2M432.29 84.7v-1.2M432.29 8.4v1.2M438.91 84.7v-2M438.91 8.4v2M445.53 84.7v-1.2M445.53 8.4v1.2M452.15 84.7v-1.2M452.15 8.4v1.2M458.76 84.7v-2M458.76 8.4v2M465.38 84.7v-1.2M465.38 8.4v1.2M472 84.7v-1.2M472 8.4v1.2M397.7 84.7h2M473.5 84.7h-2M397.7 80.89h1.2M473.5 80.89h-1.2M397.7 77.07h1.2M473.5 77.07h-1.2M397.7 73.26h1.2M473.5 73.26h-1.2M397.7 69.44h1.2M473.5 69.44h-1.2M397.7 65.62h2M473.5 65.62h-2M397.7 61.81h1.2M473.5 61.81h-1.2M397.7 58h1.2M473.5 58h-1.2M397.7 54.18h1.2M473.5 54.18h-1.2M397.7 50.37h1.2M473.5 50.37h-1.2M397.7 46.55h2M473.5 46.55h-2M397.7 42.73h1.2M473.5 42.73h-1.2M397.7 38.92h1.2M473.5 38.92h-1.2M397.7 35.11h1.2M473.5 35.11h-1.2M397.7 31.29h1.2M473.5 31.29h-1.2M397.7 27.48h2M473.5 27.48h-2M397.7 23.66h1.2M473.5 23.66h-1.2M397.7 19.85h1.2M473.5 19.85h-1.2M397.7 16.03h1.2M473.5 16.03h-1.2M397.7 12.22h1.2M473.5 12.22h-1.2M397.7 8.4h2M473.5 8.4h-2" stroke="#222" stroke-width="0.7" fill="none"/>
<text class="t" transform="translate(395.3 86.95) scale(0.89 1)" font-size="6.3" text-anchor="end">0</text>
<text class="t" transform="translate(395.3 67.88) scale(0.89 1)" font-size="6.3" text-anchor="end">5</text>
<text class="t" transform="translate(395.3 48.8) scale(0.89 1)" font-size="6.3" text-anchor="end">10</text>
<text class="t" transform="translate(395.3 29.73) scale(0.89 1)" font-size="6.3" text-anchor="end">15</text>
<text class="t" transform="translate(395.3 10.65) scale(0.89 1)" font-size="6.3" text-anchor="end">20</text>
<text class="t" transform="translate(399.2 92.7) scale(0.89 1)" font-size="6.3" text-anchor="middle">Jan</text>
<text class="t" transform="translate(419.05 92.7) scale(0.89 1)" font-size="6.3" text-anchor="middle">Apr</text>
<text class="t" transform="translate(438.91 92.7) scale(0.89 1)" font-size="6.3" text-anchor="middle">Jul</text>
<text class="t" transform="translate(458.76 92.7) scale(0.89 1)" font-size="6.3" text-anchor="middle">Oct</text>
<text class="ti" x="435.6" y="6.4" font-size="7" text-anchor="middle">AWRR</text>
<path d="M500.3 84.7v-2M500.3 8.4v2M506.92 84.7v-1.2M506.92 8.4v1.2M513.54 84.7v-1.2M513.54 8.4v1.2M520.15 84.7v-2M520.15 8.4v2M526.77 84.7v-1.2M526.77 8.4v1.2M533.39 84.7v-1.2M533.39 8.4v1.2M540.01 84.7v-2M540.01 8.4v2M546.63 84.7v-1.2M546.63 8.4v1.2M553.25 84.7v-1.2M553.25 8.4v1.2M559.86 84.7v-2M559.86 8.4v2M566.48 84.7v-1.2M566.48 8.4v1.2M573.1 84.7v-1.2M573.1 8.4v1.2M498.8 84.7h2M574.6 84.7h-2M498.8 79.93h1.2M574.6 79.93h-1.2M498.8 75.16h1.2M574.6 75.16h-1.2M498.8 70.39h1.2M574.6 70.39h-1.2M498.8 65.62h2M574.6 65.62h-2M498.8 60.86h1.2M574.6 60.86h-1.2M498.8 56.09h1.2M574.6 56.09h-1.2M498.8 51.32h1.2M574.6 51.32h-1.2M498.8 46.55h2M574.6 46.55h-2M498.8 41.78h1.2M574.6 41.78h-1.2M498.8 37.01h1.2M574.6 37.01h-1.2M498.8 32.24h1.2M574.6 32.24h-1.2M498.8 27.48h2M574.6 27.48h-2M498.8 22.71h1.2M574.6 22.71h-1.2M498.8 17.94h1.2M574.6 17.94h-1.2M498.8 13.17h1.2M574.6 13.17h-1.2M498.8 8.4h2M574.6 8.4h-2" stroke="#222" stroke-width="0.7" fill="none"/>
<text class="t" transform="translate(496.4 86.95) scale(0.89 1)" font-size="6.3" text-anchor="end">0</text>
<text class="t" transform="translate(496.4 67.88) scale(0.89 1)" font-size="6.3" text-anchor="end">2</text>
<text class="t" transform="translate(496.4 48.8) scale(0.89 1)" font-size="6.3" text-anchor="end">4</text>
<text class="t" transform="translate(496.4 29.73) scale(0.89 1)" font-size="6.3" text-anchor="end">6</text>
<text class="t" transform="translate(496.4 10.65) scale(0.89 1)" font-size="6.3" text-anchor="end">8</text>
<text class="t" transform="translate(500.3 92.7) scale(0.89 1)" font-size="6.3" text-anchor="middle">Jan</text>
<text class="t" transform="translate(520.15 92.7) scale(0.89 1)" font-size="6.3" text-anchor="middle">Apr</text>
<text class="t" transform="translate(540.01 92.7) scale(0.89 1)" font-size="6.3" text-anchor="middle">Jul</text>
<text class="t" transform="translate(559.86 92.7) scale(0.89 1)" font-size="6.3" text-anchor="middle">Oct</text>
<text class="ti" x="536.7" y="6.4" font-size="7" text-anchor="middle">LMR</text>
<text class="w" transform="translate(79.7 47.35) rotate(-90)" font-size="6.0" text-anchor="middle">Irrigated Amount (mm mo<tspan dy="-2" font-size="4.4">&#8722;1</tspan><tspan dy="2">)</tspan></text>
<path d="M95.9 187.2v-2M95.9 110.9v2M102.52 187.2v-1.2M102.52 110.9v1.2M109.14 187.2v-1.2M109.14 110.9v1.2M115.75 187.2v-2M115.75 110.9v2M122.37 187.2v-1.2M122.37 110.9v1.2M128.99 187.2v-1.2M128.99 110.9v1.2M135.61 187.2v-2M135.61 110.9v2M142.23 187.2v-1.2M142.23 110.9v1.2M148.85 187.2v-1.2M148.85 110.9v1.2M155.46 187.2v-2M155.46 110.9v2M162.08 187.2v-1.2M162.08 110.9v1.2M168.7 187.2v-1.2M168.7 110.9v1.2M94.4 187.2h2M170.2 187.2h-2M94.4 183.73h1.2M170.2 183.73h-1.2M94.4 180.26h1.2M170.2 180.26h-1.2M94.4 176.8h1.2M170.2 176.8h-1.2M94.4 173.33h1.2M170.2 173.33h-1.2M94.4 169.86h2M170.2 169.86h-2M94.4 166.39h1.2M170.2 166.39h-1.2M94.4 162.92h1.2M170.2 162.92h-1.2M94.4 159.45h1.2M170.2 159.45h-1.2M94.4 155.99h1.2M170.2 155.99h-1.2M94.4 152.52h2M170.2 152.52h-2M94.4 149.05h1.2M170.2 149.05h-1.2M94.4 145.58h1.2M170.2 145.58h-1.2M94.4 142.11h1.2M170.2 142.11h-1.2M94.4 138.65h1.2M170.2 138.65h-1.2M94.4 135.18h2M170.2 135.18h-2M94.4 131.71h1.2M170.2 131.71h-1.2M94.4 128.24h1.2M170.2 128.24h-1.2M94.4 124.77h1.2M170.2 124.77h-1.2M94.4 121.3h1.2M170.2 121.3h-1.2M94.4 117.84h2M170.2 117.84h-2M94.4 114.37h1.2M170.2 114.37h-1.2M94.4 110.9h1.2M170.2 110.9h-1.2" stroke="#222" stroke-width="0.7" fill="none"/>
<text class="t" transform="translate(92 189.45) scale(0.89 1)" font-size="6.3" text-anchor="end">0</text>
<text class="t" transform="translate(92 172.11) scale(0.89 1)" font-size="6.3" text-anchor="end">5</text>
<text class="t" transform="translate(92 154.77) scale(0.89 1)" font-size="6.3" text-anchor="end">10</text>
<text class="t" transform="translate(92 137.43) scale(0.89 1)" font-size="6.3" text-anchor="end">15</text>
<text class="t" transform="translate(92 120.09) scale(0.89 1)" font-size="6.3" text-anchor="end">20</text>
<text class="t" transform="translate(95.9 195.2) scale(0.89 1)" font-size="6.3" text-anchor="middle">Jan</text>
<text class="t" transform="translate(115.75 195.2) scale(0.89 1)" font-size="6.3" text-anchor="middle">Apr</text>
<text class="t" transform="translate(135.61 195.2) scale(0.89 1)" font-size="6.3" text-anchor="middle">Jul</text>
<text class="t" transform="translate(155.46 195.2) scale(0.89 1)" font-size="6.3" text-anchor="middle">Oct</text>
<text class="ti" x="132.3" y="108.9" font-size="7" text-anchor="middle">PNR</text>
<path d="M197 187.2v-2M197 110.9v2M203.62 187.2v-1.2M203.62 110.9v1.2M210.24 187.2v-1.2M210.24 110.9v1.2M216.85 187.2v-2M216.85 110.9v2M223.47 187.2v-1.2M223.47 110.9v1.2M230.09 187.2v-1.2M230.09 110.9v1.2M236.71 187.2v-2M236.71 110.9v2M243.33 187.2v-1.2M243.33 110.9v1.2M249.95 187.2v-1.2M249.95 110.9v1.2M256.56 187.2v-2M256.56 110.9v2M263.18 187.2v-1.2M263.18 110.9v1.2M269.8 187.2v-1.2M269.8 110.9v1.2M195.5 187.2h2M271.3 187.2h-2M195.5 184.15h1.2M271.3 184.15h-1.2M195.5 181.1h1.2M271.3 181.1h-1.2M195.5 178.04h1.2M271.3 178.04h-1.2M195.5 174.99h1.2M271.3 174.99h-1.2M195.5 171.94h2M271.3 171.94h-2M195.5 168.89h1.2M271.3 168.89h-1.2M195.5 165.84h1.2M271.3 165.84h-1.2M195.5 162.78h1.2M271.3 162.78h-1.2M195.5 159.73h1.2M271.3 159.73h-1.2M195.5 156.68h2M271.3 156.68h-2M195.5 153.63h1.2M271.3 153.63h-1.2M195.5 150.58h1.2M271.3 150.58h-1.2M195.5 147.52h1.2M271.3 147.52h-1.2M195.5 144.47h1.2M271.3 144.47h-1.2M195.5 141.42h2M271.3 141.42h-2M195.5 138.37h1.2M271.3 138.37h-1.2M195.5 135.32h1.2M271.3 135.32h-1.2M195.5 132.26h1.2M271.3 132.26h-1.2M195.5 129.21h1.2M271.3 129.21h-1.2M195.5 126.16h2M271.3 126.16h-2M195.5 123.11h1.2M271.3 123.11h-1.2M195.5 120.06h1.2M271.3 120.06h-1.2M195.5 117h1.2M271.3 117h-1.2M195.5 113.95h1.2M271.3 113.95h-1.2M195.5 110.9h2M271.3 110.9h-2" stroke="#222" stroke-width="0.7" fill="none"/>
<text class="t" transform="translate(193.1 189.45) scale(0.89 1)" font-size="6.3" text-anchor="end">0</text>
<text class="t" transform="translate(193.1 174.19) scale(0.89 1)" font-size="6.3" text-anchor="end">5</text>
<text class="t" transform="translate(193.1 158.93) scale(0.89 1)" font-size="6.3" text-anchor="end">10</text>
<text class="t" transform="translate(193.1 143.67) scale(0.89 1)" font-size="6.3" text-anchor="end">15</text>
<text class="t" transform="translate(193.1 128.41) scale(0.89 1)" font-size="6.3" text-anchor="end">20</text>
<text class="t" transform="translate(193.1 113.15) scale(0.89 1)" font-size="6.3" text-anchor="end">25</text>
<text class="t" transform="translate(197 195.2) scale(0.89 1)" font-size="6.3" text-anchor="middle">Jan</text>
<text class="t" transform="translate(216.85 195.2) scale(0.89 1)" font-size="6.3" text-anchor="middle">Apr</text>
<text class="t" transform="translate(236.71 195.2) scale(0.89 1)" font-size="6.3" text-anchor="middle">Jul</text>
<text class="t" transform="translate(256.56 195.2) scale(0.89 1)" font-size="6.3" text-anchor="middle">Oct</text>
<text class="ti" x="233.4" y="108.9" font-size="7" text-anchor="middle">CR</text>
<path d="M298.1 187.2v-2M298.1 110.9v2M304.72 187.2v-1.2M304.72 110.9v1.2M311.34 187.2v-1.2M311.34 110.9v1.2M317.95 187.2v-2M317.95 110.9v2M324.57 187.2v-1.2M324.57 110.9v1.2M331.19 187.2v-1.2M331.19 110.9v1.2M337.81 187.2v-2M337.81 110.9v2M344.43 187.2v-1.2M344.43 110.9v1.2M351.05 187.2v-1.2M351.05 110.9v1.2M357.66 187.2v-2M357.66 110.9v2M364.28 187.2v-1.2M364.28 110.9v1.2M370.9 187.2v-1.2M370.9 110.9v1.2M296.6 187.2h2M372.4 187.2h-2M296.6 184.43h1.2M372.4 184.43h-1.2M296.6 181.65h1.2M372.4 181.65h-1.2M296.6 178.88h1.2M372.4 178.88h-1.2M296.6 176.1h1.2M372.4 176.1h-1.2M296.6 173.33h2M372.4 173.33h-2M296.6 170.55h1.2M372.4 170.55h-1.2M296.6 167.78h1.2M372.4 167.78h-1.2M296.6 165h1.2M372.4 165h-1.2M296.6 162.23h1.2M372.4 162.23h-1.2M296.6 159.45h2M372.4 159.45h-2M296.6 156.68h1.2M372.4 156.68h-1.2M296.6 153.91h1.2M372.4 153.91h-1.2M296.6 151.13h1.2M372.4 151.13h-1.2M296.6 148.36h1.2M372.4 148.36h-1.2M296.6 145.58h2M372.4 145.58h-2M296.6 142.81h1.2M372.4 142.81h-1.2M296.6 140.03h1.2M372.4 140.03h-1.2M296.6 137.26h1.2M372.4 137.26h-1.2M296.6 134.48h1.2M372.4 134.48h-1.2M296.6 131.71h2M372.4 131.71h-2M296.6 128.93h1.2M372.4 128.93h-1.2M296.6 126.16h1.2M372.4 126.16h-1.2M296.6 123.39h1.2M372.4 123.39h-1.2M296.6 120.61h1.2M372.4 120.61h-1.2M296.6 117.84h2M372.4 117.84h-2M296.6 115.06h1.2M372.4 115.06h-1.2M296.6 112.29h1.2M372.4 112.29h-1.2" stroke="#222" stroke-width="0.7" fill="none"/>
<text class="t" transform="translate(294.2 189.45) scale(0.89 1)" font-size="6.3" text-anchor="end">0</text>
<text class="t" transform="translate(294.2 175.58) scale(0.89 1)" font-size="6.3" text-anchor="end">10</text>
<text class="t" transform="translate(294.2 161.7) scale(0.89 1)" font-size="6.3" text-anchor="end">20</text>
<text class="t" transform="translate(294.2 147.83) scale(0.89 1)" font-size="6.3" text-anchor="end">30</text>
<text class="t" transform="translate(294.2 133.96) scale(0.89 1)" font-size="6.3" text-anchor="end">40</text>
<text class="t" transform="translate(294.2 120.09) scale(0.89 1)" font-size="6.3" text-anchor="end">50</text>
<text class="t" transform="translate(298.1 195.2) scale(0.89 1)" font-size="6.3" text-anchor="middle">Jan</text>
<text class="t" transform="translate(317.95 195.2) scale(0.89 1)" font-size="6.3" text-anchor="middle">Apr</text>
<text class="t" transform="translate(337.81 195.2) scale(0.89 1)" font-size="6.3" text-anchor="middle">Jul</text>
<text class="t" transform="translate(357.66 195.2) scale(0.89 1)" font-size="6.3" text-anchor="middle">Oct</text>
<text class="ti" x="334.5" y="108.9" font-size="7" text-anchor="middle">MR</text>
<path d="M399.2 187.2v-2M399.2 110.9v2M405.82 187.2v-1.2M405.82 110.9v1.2M412.44 187.2v-1.2M412.44 110.9v1.2M419.05 187.2v-2M419.05 110.9v2M425.67 187.2v-1.2M425.67 110.9v1.2M432.29 187.2v-1.2M432.29 110.9v1.2M438.91 187.2v-2M438.91 110.9v2M445.53 187.2v-1.2M445.53 110.9v1.2M452.15 187.2v-1.2M452.15 110.9v1.2M458.76 187.2v-2M458.76 110.9v2M465.38 187.2v-1.2M465.38 110.9v1.2M472 187.2v-1.2M472 110.9v1.2M397.7 187.2h2M473.5 187.2h-2M397.7 183.38h1.2M473.5 183.38h-1.2M397.7 179.57h1.2M473.5 179.57h-1.2M397.7 175.75h1.2M473.5 175.75h-1.2M397.7 171.94h1.2M473.5 171.94h-1.2M397.7 168.12h2M473.5 168.12h-2M397.7 164.31h1.2M473.5 164.31h-1.2M397.7 160.5h1.2M473.5 160.5h-1.2M397.7 156.68h1.2M473.5 156.68h-1.2M397.7 152.86h1.2M473.5 152.86h-1.2M397.7 149.05h2M473.5 149.05h-2M397.7 145.23h1.2M473.5 145.23h-1.2M397.7 141.42h1.2M473.5 141.42h-1.2M397.7 137.6h1.2M473.5 137.6h-1.2M397.7 133.79h1.2M473.5 133.79h-1.2M397.7 129.97h2M473.5 129.97h-2M397.7 126.16h1.2M473.5 126.16h-1.2M397.7 122.34h1.2M473.5 122.34h-1.2M397.7 118.53h1.2M473.5 118.53h-1.2M397.7 114.71h1.2M473.5 114.71h-1.2M397.7 110.9h2M473.5 110.9h-2" stroke="#222" stroke-width="0.7" fill="none"/>
<text class="t" transform="translate(395.3 189.45) scale(0.89 1)" font-size="6.3" text-anchor="end">0</text>
<text class="t" transform="translate(395.3 170.38) scale(0.89 1)" font-size="6.3" text-anchor="end">5</text>
<text class="t" transform="translate(395.3 151.3) scale(0.89 1)" font-size="6.3" text-anchor="end">10</text>
<text class="t" transform="translate(395.3 132.22) scale(0.89 1)" font-size="6.3" text-anchor="end">15</text>
<text class="t" transform="translate(395.3 113.15) scale(0.89 1)" font-size="6.3" text-anchor="end">20</text>
<text class="t" transform="translate(399.2 195.2) scale(0.89 1)" font-size="6.3" text-anchor="middle">Jan</text>
<text class="t" transform="translate(419.05 195.2) scale(0.89 1)" font-size="6.3" text-anchor="middle">Apr</text>
<text class="t" transform="translate(438.91 195.2) scale(0.89 1)" font-size="6.3" text-anchor="middle">Jul</text>
<text class="t" transform="translate(458.76 195.2) scale(0.89 1)" font-size="6.3" text-anchor="middle">Oct</text>
<text class="ti" x="435.6" y="108.9" font-size="7" text-anchor="middle">AWRR</text>
<path d="M500.3 187.2v-2M500.3 110.9v2M506.92 187.2v-1.2M506.92 110.9v1.2M513.54 187.2v-1.2M513.54 110.9v1.2M520.15 187.2v-2M520.15 110.9v2M526.77 187.2v-1.2M526.77 110.9v1.2M533.39 187.2v-1.2M533.39 110.9v1.2M540.01 187.2v-2M540.01 110.9v2M546.63 187.2v-1.2M546.63 110.9v1.2M553.25 187.2v-1.2M553.25 110.9v1.2M559.86 187.2v-2M559.86 110.9v2M566.48 187.2v-1.2M566.48 110.9v1.2M573.1 187.2v-1.2M573.1 110.9v1.2M498.8 187.2h2M574.6 187.2h-2M498.8 182.43h1.2M574.6 182.43h-1.2M498.8 177.66h1.2M574.6 177.66h-1.2M498.8 172.89h1.2M574.6 172.89h-1.2M498.8 168.12h2M574.6 168.12h-2M498.8 163.36h1.2M574.6 163.36h-1.2M498.8 158.59h1.2M574.6 158.59h-1.2M498.8 153.82h1.2M574.6 153.82h-1.2M498.8 149.05h2M574.6 149.05h-2M498.8 144.28h1.2M574.6 144.28h-1.2M498.8 139.51h1.2M574.6 139.51h-1.2M498.8 134.74h1.2M574.6 134.74h-1.2M498.8 129.97h2M574.6 129.97h-2M498.8 125.21h1.2M574.6 125.21h-1.2M498.8 120.44h1.2M574.6 120.44h-1.2M498.8 115.67h1.2M574.6 115.67h-1.2M498.8 110.9h2M574.6 110.9h-2" stroke="#222" stroke-width="0.7" fill="none"/>
<text class="t" transform="translate(496.4 189.45) scale(0.89 1)" font-size="6.3" text-anchor="end">0</text>
<text class="t" transform="translate(496.4 170.38) scale(0.89 1)" font-size="6.3" text-anchor="end">2</text>
<text class="t" transform="translate(496.4 151.3) scale(0.89 1)" font-size="6.3" text-anchor="end">4</text>
<text class="t" transform="translate(496.4 132.22) scale(0.89 1)" font-size="6.3" text-anchor="end">6</text>
<text class="t" transform="translate(496.4 113.15) scale(0.89 1)" font-size="6.3" text-anchor="end">8</text>
<text class="t" transform="translate(500.3 195.2) scale(0.89 1)" font-size="6.3" text-anchor="middle">Jan</text>
<text class="t" transform="translate(520.15 195.2) scale(0.89 1)" font-size="6.3" text-anchor="middle">Apr</text>
<text class="t" transform="translate(540.01 195.2) scale(0.89 1)" font-size="6.3" text-anchor="middle">Jul</text>
<text class="t" transform="translate(559.86 195.2) scale(0.89 1)" font-size="6.3" text-anchor="middle">Oct</text>
<text class="ti" x="536.7" y="108.9" font-size="7" text-anchor="middle">LMR</text>
<text class="w" transform="translate(79.7 149.85) rotate(-90)" font-size="6.0" text-anchor="middle">Irrigated Amount (mm mo<tspan dy="-2" font-size="4.4">&#8722;1</tspan><tspan dy="2">)</tspan></text>
<path d="M95.9 289.7v-2M95.9 213.4v2M102.52 289.7v-1.2M102.52 213.4v1.2M109.14 289.7v-1.2M109.14 213.4v1.2M115.75 289.7v-2M115.75 213.4v2M122.37 289.7v-1.2M122.37 213.4v1.2M128.99 289.7v-1.2M128.99 213.4v1.2M135.61 289.7v-2M135.61 213.4v2M142.23 289.7v-1.2M142.23 213.4v1.2M148.85 289.7v-1.2M148.85 213.4v1.2M155.46 289.7v-2M155.46 213.4v2M162.08 289.7v-1.2M162.08 213.4v1.2M168.7 289.7v-1.2M168.7 213.4v1.2M94.4 289.7h2M170.2 289.7h-2M94.4 286.23h1.2M170.2 286.23h-1.2M94.4 282.76h1.2M170.2 282.76h-1.2M94.4 279.3h1.2M170.2 279.3h-1.2M94.4 275.83h1.2M170.2 275.83h-1.2M94.4 272.36h2M170.2 272.36h-2M94.4 268.89h1.2M170.2 268.89h-1.2M94.4 265.42h1.2M170.2 265.42h-1.2M94.4 261.95h1.2M170.2 261.95h-1.2M94.4 258.49h1.2M170.2 258.49h-1.2M94.4 255.02h2M170.2 255.02h-2M94.4 251.55h1.2M170.2 251.55h-1.2M94.4 248.08h1.2M170.2 248.08h-1.2M94.4 244.61h1.2M170.2 244.61h-1.2M94.4 241.15h1.2M170.2 241.15h-1.2M94.4 237.68h2M170.2 237.68h-2M94.4 234.21h1.2M170.2 234.21h-1.2M94.4 230.74h1.2M170.2 230.74h-1.2M94.4 227.27h1.2M170.2 227.27h-1.2M94.4 223.8h1.2M170.2 223.8h-1.2M94.4 220.34h2M170.2 220.34h-2M94.4 216.87h1.2M170.2 216.87h-1.2M94.4 213.4h1.2M170.2 213.4h-1.2" stroke="#222" stroke-width="0.7" fill="none"/>
<text class="t" transform="translate(92 291.95) scale(0.89 1)" font-size="6.3" text-anchor="end">0</text>
<text class="t" transform="translate(92 274.61) scale(0.89 1)" font-size="6.3" text-anchor="end">5</text>
<text class="t" transform="translate(92 257.27) scale(0.89 1)" font-size="6.3" text-anchor="end">10</text>
<text class="t" transform="translate(92 239.93) scale(0.89 1)" font-size="6.3" text-anchor="end">15</text>
<text class="t" transform="translate(92 222.59) scale(0.89 1)" font-size="6.3" text-anchor="end">20</text>
<text class="t" transform="translate(95.9 297.7) scale(0.89 1)" font-size="6.3" text-anchor="middle">Jan</text>
<text class="t" transform="translate(115.75 297.7) scale(0.89 1)" font-size="6.3" text-anchor="middle">Apr</text>
<text class="t" transform="translate(135.61 297.7) scale(0.89 1)" font-size="6.3" text-anchor="middle">Jul</text>
<text class="t" transform="translate(155.46 297.7) scale(0.89 1)" font-size="6.3" text-anchor="middle">Oct</text>
<text class="ti" x="132.3" y="211.4" font-size="7" text-anchor="middle">PNR</text>
<path d="M197 289.7v-2M197 213.4v2M203.62 289.7v-1.2M203.62 213.4v1.2M210.24 289.7v-1.2M210.24 213.4v1.2M216.85 289.7v-2M216.85 213.4v2M223.47 289.7v-1.2M223.47 213.4v1.2M230.09 289.7v-1.2M230.09 213.4v1.2M236.71 289.7v-2M236.71 213.4v2M243.33 289.7v-1.2M243.33 213.4v1.2M249.95 289.7v-1.2M249.95 213.4v1.2M256.56 289.7v-2M256.56 213.4v2M263.18 289.7v-1.2M263.18 213.4v1.2M269.8 289.7v-1.2M269.8 213.4v1.2M195.5 289.7h2M271.3 289.7h-2M195.5 286.65h1.2M271.3 286.65h-1.2M195.5 283.6h1.2M271.3 283.6h-1.2M195.5 280.54h1.2M271.3 280.54h-1.2M195.5 277.49h1.2M271.3 277.49h-1.2M195.5 274.44h2M271.3 274.44h-2M195.5 271.39h1.2M271.3 271.39h-1.2M195.5 268.34h1.2M271.3 268.34h-1.2M195.5 265.28h1.2M271.3 265.28h-1.2M195.5 262.23h1.2M271.3 262.23h-1.2M195.5 259.18h2M271.3 259.18h-2M195.5 256.13h1.2M271.3 256.13h-1.2M195.5 253.08h1.2M271.3 253.08h-1.2M195.5 250.02h1.2M271.3 250.02h-1.2M195.5 246.97h1.2M271.3 246.97h-1.2M195.5 243.92h2M271.3 243.92h-2M195.5 240.87h1.2M271.3 240.87h-1.2M195.5 237.82h1.2M271.3 237.82h-1.2M195.5 234.76h1.2M271.3 234.76h-1.2M195.5 231.71h1.2M271.3 231.71h-1.2M195.5 228.66h2M271.3 228.66h-2M195.5 225.61h1.2M271.3 225.61h-1.2M195.5 222.56h1.2M271.3 222.56h-1.2M195.5 219.5h1.2M271.3 219.5h-1.2M195.5 216.45h1.2M271.3 216.45h-1.2M195.5 213.4h2M271.3 213.4h-2" stroke="#222" stroke-width="0.7" fill="none"/>
<text class="t" transform="translate(193.1 291.95) scale(0.89 1)" font-size="6.3" text-anchor="end">0</text>
<text class="t" transform="translate(193.1 276.69) scale(0.89 1)" font-size="6.3" text-anchor="end">5</text>
<text class="t" transform="translate(193.1 261.43) scale(0.89 1)" font-size="6.3" text-anchor="end">10</text>
<text class="t" transform="translate(193.1 246.17) scale(0.89 1)" font-size="6.3" text-anchor="end">15</text>
<text class="t" transform="translate(193.1 230.91) scale(0.89 1)" font-size="6.3" text-anchor="end">20</text>
<text class="t" transform="translate(193.1 215.65) scale(0.89 1)" font-size="6.3" text-anchor="end">25</text>
<text class="t" transform="translate(197 297.7) scale(0.89 1)" font-size="6.3" text-anchor="middle">Jan</text>
<text class="t" transform="translate(216.85 297.7) scale(0.89 1)" font-size="6.3" text-anchor="middle">Apr</text>
<text class="t" transform="translate(236.71 297.7) scale(0.89 1)" font-size="6.3" text-anchor="middle">Jul</text>
<text class="t" transform="translate(256.56 297.7) scale(0.89 1)" font-size="6.3" text-anchor="middle">Oct</text>
<text class="ti" x="233.4" y="211.4" font-size="7" text-anchor="middle">CR</text>
<path d="M298.1 289.7v-2M298.1 213.4v2M304.72 289.7v-1.2M304.72 213.4v1.2M311.34 289.7v-1.2M311.34 213.4v1.2M317.95 289.7v-2M317.95 213.4v2M324.57 289.7v-1.2M324.57 213.4v1.2M331.19 289.7v-1.2M331.19 213.4v1.2M337.81 289.7v-2M337.81 213.4v2M344.43 289.7v-1.2M344.43 213.4v1.2M351.05 289.7v-1.2M351.05 213.4v1.2M357.66 289.7v-2M357.66 213.4v2M364.28 289.7v-1.2M364.28 213.4v1.2M370.9 289.7v-1.2M370.9 213.4v1.2M296.6 289.7h2M372.4 289.7h-2M296.6 286.93h1.2M372.4 286.93h-1.2M296.6 284.15h1.2M372.4 284.15h-1.2M296.6 281.38h1.2M372.4 281.38h-1.2M296.6 278.6h1.2M372.4 278.6h-1.2M296.6 275.83h2M372.4 275.83h-2M296.6 273.05h1.2M372.4 273.05h-1.2M296.6 270.28h1.2M372.4 270.28h-1.2M296.6 267.5h1.2M372.4 267.5h-1.2M296.6 264.73h1.2M372.4 264.73h-1.2M296.6 261.95h2M372.4 261.95h-2M296.6 259.18h1.2M372.4 259.18h-1.2M296.6 256.41h1.2M372.4 256.41h-1.2M296.6 253.63h1.2M372.4 253.63h-1.2M296.6 250.86h1.2M372.4 250.86h-1.2M296.6 248.08h2M372.4 248.08h-2M296.6 245.31h1.2M372.4 245.31h-1.2M296.6 242.53h1.2M372.4 242.53h-1.2M296.6 239.76h1.2M372.4 239.76h-1.2M296.6 236.98h1.2M372.4 236.98h-1.2M296.6 234.21h2M372.4 234.21h-2M296.6 231.43h1.2M372.4 231.43h-1.2M296.6 228.66h1.2M372.4 228.66h-1.2M296.6 225.89h1.2M372.4 225.89h-1.2M296.6 223.11h1.2M372.4 223.11h-1.2M296.6 220.34h2M372.4 220.34h-2M296.6 217.56h1.2M372.4 217.56h-1.2M296.6 214.79h1.2M372.4 214.79h-1.2" stroke="#222" stroke-width="0.7" fill="none"/>
<text class="t" transform="translate(294.2 291.95) scale(0.89 1)" font-size="6.3" text-anchor="end">0</text>
<text class="t" transform="translate(294.2 278.08) scale(0.89 1)" font-size="6.3" text-anchor="end">10</text>
<text class="t" transform="translate(294.2 264.2) scale(0.89 1)" font-size="6.3" text-anchor="end">20</text>
<text class="t" transform="translate(294.2 250.33) scale(0.89 1)" font-size="6.3" text-anchor="end">30</text>
<text class="t" transform="translate(294.2 236.46) scale(0.89 1)" font-size="6.3" text-anchor="end">40</text>
<text class="t" transform="translate(294.2 222.59) scale(0.89 1)" font-size="6.3" text-anchor="end">50</text>
<text class="t" transform="translate(298.1 297.7) scale(0.89 1)" font-size="6.3" text-anchor="middle">Jan</text>
<text class="t" transform="translate(317.95 297.7) scale(0.89 1)" font-size="6.3" text-anchor="middle">Apr</text>
<text class="t" transform="translate(337.81 297.7) scale(0.89 1)" font-size="6.3" text-anchor="middle">Jul</text>
<text class="t" transform="translate(357.66 297.7) scale(0.89 1)" font-size="6.3" text-anchor="middle">Oct</text>
<text class="ti" x="334.5" y="211.4" font-size="7" text-anchor="middle">MR</text>
<path d="M399.2 289.7v-2M399.2 213.4v2M405.82 289.7v-1.2M405.82 213.4v1.2M412.44 289.7v-1.2M412.44 213.4v1.2M419.05 289.7v-2M419.05 213.4v2M425.67 289.7v-1.2M425.67 213.4v1.2M432.29 289.7v-1.2M432.29 213.4v1.2M438.91 289.7v-2M438.91 213.4v2M445.53 289.7v-1.2M445.53 213.4v1.2M452.15 289.7v-1.2M452.15 213.4v1.2M458.76 289.7v-2M458.76 213.4v2M465.38 289.7v-1.2M465.38 213.4v1.2M472 289.7v-1.2M472 213.4v1.2M397.7 289.7h2M473.5 289.7h-2M397.7 285.88h1.2M473.5 285.88h-1.2M397.7 282.07h1.2M473.5 282.07h-1.2M397.7 278.25h1.2M473.5 278.25h-1.2M397.7 274.44h1.2M473.5 274.44h-1.2M397.7 270.62h2M473.5 270.62h-2M397.7 266.81h1.2M473.5 266.81h-1.2M397.7 263h1.2M473.5 263h-1.2M397.7 259.18h1.2M473.5 259.18h-1.2M397.7 255.36h1.2M473.5 255.36h-1.2M397.7 251.55h2M473.5 251.55h-2M397.7 247.73h1.2M473.5 247.73h-1.2M397.7 243.92h1.2M473.5 243.92h-1.2M397.7 240.1h1.2M473.5 240.1h-1.2M397.7 236.29h1.2M473.5 236.29h-1.2M397.7 232.47h2M473.5 232.47h-2M397.7 228.66h1.2M473.5 228.66h-1.2M397.7 224.84h1.2M473.5 224.84h-1.2M397.7 221.03h1.2M473.5 221.03h-1.2M397.7 217.21h1.2M473.5 217.21h-1.2M397.7 213.4h2M473.5 213.4h-2" stroke="#222" stroke-width="0.7" fill="none"/>
<text class="t" transform="translate(395.3 291.95) scale(0.89 1)" font-size="6.3" text-anchor="end">0</text>
<text class="t" transform="translate(395.3 272.88) scale(0.89 1)" font-size="6.3" text-anchor="end">5</text>
<text class="t" transform="translate(395.3 253.8) scale(0.89 1)" font-size="6.3" text-anchor="end">10</text>
<text class="t" transform="translate(395.3 234.72) scale(0.89 1)" font-size="6.3" text-anchor="end">15</text>
<text class="t" transform="translate(395.3 215.65) scale(0.89 1)" font-size="6.3" text-anchor="end">20</text>
<text class="t" transform="translate(399.2 297.7) scale(0.89 1)" font-size="6.3" text-anchor="middle">Jan</text>
<text class="t" transform="translate(419.05 297.7) scale(0.89 1)" font-size="6.3" text-anchor="middle">Apr</text>
<text class="t" transform="translate(438.91 297.7) scale(0.89 1)" font-size="6.3" text-anchor="middle">Jul</text>
<text class="t" transform="translate(458.76 297.7) scale(0.89 1)" font-size="6.3" text-anchor="middle">Oct</text>
<text class="ti" x="435.6" y="211.4" font-size="7" text-anchor="middle">AWRR</text>
<path d="M500.3 289.7v-2M500.3 213.4v2M506.92 289.7v-1.2M506.92 213.4v1.2M513.54 289.7v-1.2M513.54 213.4v1.2M520.15 289.7v-2M520.15 213.4v2M526.77 289.7v-1.2M526.77 213.4v1.2M533.39 289.7v-1.2M533.39 213.4v1.2M540.01 289.7v-2M540.01 213.4v2M546.63 289.7v-1.2M546.63 213.4v1.2M553.25 289.7v-1.2M553.25 213.4v1.2M559.86 289.7v-2M559.86 213.4v2M566.48 289.7v-1.2M566.48 213.4v1.2M573.1 289.7v-1.2M573.1 213.4v1.2M498.8 289.7h2M574.6 289.7h-2M498.8 284.93h1.2M574.6 284.93h-1.2M498.8 280.16h1.2M574.6 280.16h-1.2M498.8 275.39h1.2M574.6 275.39h-1.2M498.8 270.62h2M574.6 270.62h-2M498.8 265.86h1.2M574.6 265.86h-1.2M498.8 261.09h1.2M574.6 261.09h-1.2M498.8 256.32h1.2M574.6 256.32h-1.2M498.8 251.55h2M574.6 251.55h-2M498.8 246.78h1.2M574.6 246.78h-1.2M498.8 242.01h1.2M574.6 242.01h-1.2M498.8 237.24h1.2M574.6 237.24h-1.2M498.8 232.47h2M574.6 232.47h-2M498.8 227.71h1.2M574.6 227.71h-1.2M498.8 222.94h1.2M574.6 222.94h-1.2M498.8 218.17h1.2M574.6 218.17h-1.2M498.8 213.4h2M574.6 213.4h-2" stroke="#222" stroke-width="0.7" fill="none"/>
<text class="t" transform="translate(496.4 291.95) scale(0.89 1)" font-size="6.3" text-anchor="end">0</text>
<text class="t" transform="translate(496.4 272.88) scale(0.89 1)" font-size="6.3" text-anchor="end">2</text>
<text class="t" transform="translate(496.4 253.8) scale(0.89 1)" font-size="6.3" text-anchor="end">4</text>
<text class="t" transform="translate(496.4 234.72) scale(0.89 1)" font-size="6.3" text-anchor="end">6</text>
<text class="t" transform="translate(496.4 215.65) scale(0.89 1)" font-size="6.3" text-anchor="end">8</text>
<text class="t" transform="translate(500.3 297.7) scale(0.89 1)" font-size="6.3" text-anchor="middle">Jan</text>
<text class="t" transform="translate(520.15 297.7) scale(0.89 1)" font-size="6.3" text-anchor="middle">Apr</text>
<text class="t" transform="translate(540.01 297.7) scale(0.89 1)" font-size="6.3" text-anchor="middle">Jul</text>
<text class="t" transform="translate(559.86 297.7) scale(0.89 1)" font-size="6.3" text-anchor="middle">Oct</text>
<text class="ti" x="536.7" y="211.4" font-size="7" text-anchor="middle">LMR</text>
<text class="w" transform="translate(79.7 252.35) rotate(-90)" font-size="6.0" text-anchor="middle">Irrigated Amount (mm mo<tspan dy="-2" font-size="4.4">&#8722;1</tspan><tspan dy="2">)</tspan></text>
<path d="M95.9 392.6v-2M95.9 316.3v2M102.52 392.6v-1.2M102.52 316.3v1.2M109.14 392.6v-1.2M109.14 316.3v1.2M115.75 392.6v-2M115.75 316.3v2M122.37 392.6v-1.2M122.37 316.3v1.2M128.99 392.6v-1.2M128.99 316.3v1.2M135.61 392.6v-2M135.61 316.3v2M142.23 392.6v-1.2M142.23 316.3v1.2M148.85 392.6v-1.2M148.85 316.3v1.2M155.46 392.6v-2M155.46 316.3v2M162.08 392.6v-1.2M162.08 316.3v1.2M168.7 392.6v-1.2M168.7 316.3v1.2M94.4 392.6h2M170.2 392.6h-2M94.4 389.13h1.2M170.2 389.13h-1.2M94.4 385.66h1.2M170.2 385.66h-1.2M94.4 382.2h1.2M170.2 382.2h-1.2M94.4 378.73h1.2M170.2 378.73h-1.2M94.4 375.26h2M170.2 375.26h-2M94.4 371.79h1.2M170.2 371.79h-1.2M94.4 368.32h1.2M170.2 368.32h-1.2M94.4 364.85h1.2M170.2 364.85h-1.2M94.4 361.39h1.2M170.2 361.39h-1.2M94.4 357.92h2M170.2 357.92h-2M94.4 354.45h1.2M170.2 354.45h-1.2M94.4 350.98h1.2M170.2 350.98h-1.2M94.4 347.51h1.2M170.2 347.51h-1.2M94.4 344.05h1.2M170.2 344.05h-1.2M94.4 340.58h2M170.2 340.58h-2M94.4 337.11h1.2M170.2 337.11h-1.2M94.4 333.64h1.2M170.2 333.64h-1.2M94.4 330.17h1.2M170.2 330.17h-1.2M94.4 326.7h1.2M170.2 326.7h-1.2M94.4 323.24h2M170.2 323.24h-2M94.4 319.77h1.2M170.2 319.77h-1.2M94.4 316.3h1.2M170.2 316.3h-1.2" stroke="#222" stroke-width="0.7" fill="none"/>
<text class="t" transform="translate(92 394.85) scale(0.89 1)" font-size="6.3" text-anchor="end">0</text>
<text class="t" transform="translate(92 377.51) scale(0.89 1)" font-size="6.3" text-anchor="end">5</text>
<text class="t" transform="translate(92 360.17) scale(0.89 1)" font-size="6.3" text-anchor="end">10</text>
<text class="t" transform="translate(92 342.83) scale(0.89 1)" font-size="6.3" text-anchor="end">15</text>
<text class="t" transform="translate(92 325.49) scale(0.89 1)" font-size="6.3" text-anchor="end">20</text>
<text class="t" transform="translate(95.9 400.6) scale(0.89 1)" font-size="6.3" text-anchor="middle">Jan</text>
<text class="t" transform="translate(115.75 400.6) scale(0.89 1)" font-size="6.3" text-anchor="middle">Apr</text>
<text class="t" transform="translate(135.61 400.6) scale(0.89 1)" font-size="6.3" text-anchor="middle">Jul</text>
<text class="t" transform="translate(155.46 400.6) scale(0.89 1)" font-size="6.3" text-anchor="middle">Oct</text>
<text class="ti" x="132.3" y="314.3" font-size="7" text-anchor="middle">PNR</text>
<path d="M197 392.6v-2M197 316.3v2M203.62 392.6v-1.2M203.62 316.3v1.2M210.24 392.6v-1.2M210.24 316.3v1.2M216.85 392.6v-2M216.85 316.3v2M223.47 392.6v-1.2M223.47 316.3v1.2M230.09 392.6v-1.2M230.09 316.3v1.2M236.71 392.6v-2M236.71 316.3v2M243.33 392.6v-1.2M243.33 316.3v1.2M249.95 392.6v-1.2M249.95 316.3v1.2M256.56 392.6v-2M256.56 316.3v2M263.18 392.6v-1.2M263.18 316.3v1.2M269.8 392.6v-1.2M269.8 316.3v1.2M195.5 392.6h2M271.3 392.6h-2M195.5 389.55h1.2M271.3 389.55h-1.2M195.5 386.5h1.2M271.3 386.5h-1.2M195.5 383.44h1.2M271.3 383.44h-1.2M195.5 380.39h1.2M271.3 380.39h-1.2M195.5 377.34h2M271.3 377.34h-2M195.5 374.29h1.2M271.3 374.29h-1.2M195.5 371.24h1.2M271.3 371.24h-1.2M195.5 368.18h1.2M271.3 368.18h-1.2M195.5 365.13h1.2M271.3 365.13h-1.2M195.5 362.08h2M271.3 362.08h-2M195.5 359.03h1.2M271.3 359.03h-1.2M195.5 355.98h1.2M271.3 355.98h-1.2M195.5 352.92h1.2M271.3 352.92h-1.2M195.5 349.87h1.2M271.3 349.87h-1.2M195.5 346.82h2M271.3 346.82h-2M195.5 343.77h1.2M271.3 343.77h-1.2M195.5 340.72h1.2M271.3 340.72h-1.2M195.5 337.66h1.2M271.3 337.66h-1.2M195.5 334.61h1.2M271.3 334.61h-1.2M195.5 331.56h2M271.3 331.56h-2M195.5 328.51h1.2M271.3 328.51h-1.2M195.5 325.46h1.2M271.3 325.46h-1.2M195.5 322.4h1.2M271.3 322.4h-1.2M195.5 319.35h1.2M271.3 319.35h-1.2M195.5 316.3h2M271.3 316.3h-2" stroke="#222" stroke-width="0.7" fill="none"/>
<text class="t" transform="translate(193.1 394.85) scale(0.89 1)" font-size="6.3" text-anchor="end">0</text>
<text class="t" transform="translate(193.1 379.59) scale(0.89 1)" font-size="6.3" text-anchor="end">5</text>
<text class="t" transform="translate(193.1 364.33) scale(0.89 1)" font-size="6.3" text-anchor="end">10</text>
<text class="t" transform="translate(193.1 349.07) scale(0.89 1)" font-size="6.3" text-anchor="end">15</text>
<text class="t" transform="translate(193.1 333.81) scale(0.89 1)" font-size="6.3" text-anchor="end">20</text>
<text class="t" transform="translate(193.1 318.55) scale(0.89 1)" font-size="6.3" text-anchor="end">25</text>
<text class="t" transform="translate(197 400.6) scale(0.89 1)" font-size="6.3" text-anchor="middle">Jan</text>
<text class="t" transform="translate(216.85 400.6) scale(0.89 1)" font-size="6.3" text-anchor="middle">Apr</text>
<text class="t" transform="translate(236.71 400.6) scale(0.89 1)" font-size="6.3" text-anchor="middle">Jul</text>
<text class="t" transform="translate(256.56 400.6) scale(0.89 1)" font-size="6.3" text-anchor="middle">Oct</text>
<text class="ti" x="233.4" y="314.3" font-size="7" text-anchor="middle">CR</text>
<path d="M298.1 392.6v-2M298.1 316.3v2M304.72 392.6v-1.2M304.72 316.3v1.2M311.34 392.6v-1.2M311.34 316.3v1.2M317.95 392.6v-2M317.95 316.3v2M324.57 392.6v-1.2M324.57 316.3v1.2M331.19 392.6v-1.2M331.19 316.3v1.2M337.81 392.6v-2M337.81 316.3v2M344.43 392.6v-1.2M344.43 316.3v1.2M351.05 392.6v-1.2M351.05 316.3v1.2M357.66 392.6v-2M357.66 316.3v2M364.28 392.6v-1.2M364.28 316.3v1.2M370.9 392.6v-1.2M370.9 316.3v1.2M296.6 392.6h2M372.4 392.6h-2M296.6 389.83h1.2M372.4 389.83h-1.2M296.6 387.05h1.2M372.4 387.05h-1.2M296.6 384.28h1.2M372.4 384.28h-1.2M296.6 381.5h1.2M372.4 381.5h-1.2M296.6 378.73h2M372.4 378.73h-2M296.6 375.95h1.2M372.4 375.95h-1.2M296.6 373.18h1.2M372.4 373.18h-1.2M296.6 370.4h1.2M372.4 370.4h-1.2M296.6 367.63h1.2M372.4 367.63h-1.2M296.6 364.85h2M372.4 364.85h-2M296.6 362.08h1.2M372.4 362.08h-1.2M296.6 359.31h1.2M372.4 359.31h-1.2M296.6 356.53h1.2M372.4 356.53h-1.2M296.6 353.76h1.2M372.4 353.76h-1.2M296.6 350.98h2M372.4 350.98h-2M296.6 348.21h1.2M372.4 348.21h-1.2M296.6 345.43h1.2M372.4 345.43h-1.2M296.6 342.66h1.2M372.4 342.66h-1.2M296.6 339.88h1.2M372.4 339.88h-1.2M296.6 337.11h2M372.4 337.11h-2M296.6 334.33h1.2M372.4 334.33h-1.2M296.6 331.56h1.2M372.4 331.56h-1.2M296.6 328.79h1.2M372.4 328.79h-1.2M296.6 326.01h1.2M372.4 326.01h-1.2M296.6 323.24h2M372.4 323.24h-2M296.6 320.46h1.2M372.4 320.46h-1.2M296.6 317.69h1.2M372.4 317.69h-1.2" stroke="#222" stroke-width="0.7" fill="none"/>
<text class="t" transform="translate(294.2 394.85) scale(0.89 1)" font-size="6.3" text-anchor="end">0</text>
<text class="t" transform="translate(294.2 380.98) scale(0.89 1)" font-size="6.3" text-anchor="end">10</text>
<text class="t" transform="translate(294.2 367.1) scale(0.89 1)" font-size="6.3" text-anchor="end">20</text>
<text class="t" transform="translate(294.2 353.23) scale(0.89 1)" font-size="6.3" text-anchor="end">30</text>
<text class="t" transform="translate(294.2 339.36) scale(0.89 1)" font-size="6.3" text-anchor="end">40</text>
<text class="t" transform="translate(294.2 325.49) scale(0.89 1)" font-size="6.3" text-anchor="end">50</text>
<text class="t" transform="translate(298.1 400.6) scale(0.89 1)" font-size="6.3" text-anchor="middle">Jan</text>
<text class="t" transform="translate(317.95 400.6) scale(0.89 1)" font-size="6.3" text-anchor="middle">Apr</text>
<text class="t" transform="translate(337.81 400.6) scale(0.89 1)" font-size="6.3" text-anchor="middle">Jul</text>
<text class="t" transform="translate(357.66 400.6) scale(0.89 1)" font-size="6.3" text-anchor="middle">Oct</text>
<text class="ti" x="334.5" y="314.3" font-size="7" text-anchor="middle">MR</text>
<path d="M399.2 392.6v-2M399.2 316.3v2M405.82 392.6v-1.2M405.82 316.3v1.2M412.44 392.6v-1.2M412.44 316.3v1.2M419.05 392.6v-2M419.05 316.3v2M425.67 392.6v-1.2M425.67 316.3v1.2M432.29 392.6v-1.2M432.29 316.3v1.2M438.91 392.6v-2M438.91 316.3v2M445.53 392.6v-1.2M445.53 316.3v1.2M452.15 392.6v-1.2M452.15 316.3v1.2M458.76 392.6v-2M458.76 316.3v2M465.38 392.6v-1.2M465.38 316.3v1.2M472 392.6v-1.2M472 316.3v1.2M397.7 392.6h2M473.5 392.6h-2M397.7 388.79h1.2M473.5 388.79h-1.2M397.7 384.97h1.2M473.5 384.97h-1.2M397.7 381.16h1.2M473.5 381.16h-1.2M397.7 377.34h1.2M473.5 377.34h-1.2M397.7 373.53h2M473.5 373.53h-2M397.7 369.71h1.2M473.5 369.71h-1.2M397.7 365.9h1.2M473.5 365.9h-1.2M397.7 362.08h1.2M473.5 362.08h-1.2M397.7 358.27h1.2M473.5 358.27h-1.2M397.7 354.45h2M473.5 354.45h-2M397.7 350.63h1.2M473.5 350.63h-1.2M397.7 346.82h1.2M473.5 346.82h-1.2M397.7 343h1.2M473.5 343h-1.2M397.7 339.19h1.2M473.5 339.19h-1.2M397.7 335.38h2M473.5 335.38h-2M397.7 331.56h1.2M473.5 331.56h-1.2M397.7 327.75h1.2M473.5 327.75h-1.2M397.7 323.93h1.2M473.5 323.93h-1.2M397.7 320.12h1.2M473.5 320.12h-1.2M397.7 316.3h2M473.5 316.3h-2" stroke="#222" stroke-width="0.7" fill="none"/>
<text class="t" transform="translate(395.3 394.85) scale(0.89 1)" font-size="6.3" text-anchor="end">0</text>
<text class="t" transform="translate(395.3 375.78) scale(0.89 1)" font-size="6.3" text-anchor="end">5</text>
<text class="t" transform="translate(395.3 356.7) scale(0.89 1)" font-size="6.3" text-anchor="end">10</text>
<text class="t" transform="translate(395.3 337.62) scale(0.89 1)" font-size="6.3" text-anchor="end">15</text>
<text class="t" transform="translate(395.3 318.55) scale(0.89 1)" font-size="6.3" text-anchor="end">20</text>
<text class="t" transform="translate(399.2 400.6) scale(0.89 1)" font-size="6.3" text-anchor="middle">Jan</text>
<text class="t" transform="translate(419.05 400.6) scale(0.89 1)" font-size="6.3" text-anchor="middle">Apr</text>
<text class="t" transform="translate(438.91 400.6) scale(0.89 1)" font-size="6.3" text-anchor="middle">Jul</text>
<text class="t" transform="translate(458.76 400.6) scale(0.89 1)" font-size="6.3" text-anchor="middle">Oct</text>
<text class="ti" x="435.6" y="314.3" font-size="7" text-anchor="middle">AWRR</text>
<path d="M500.3 392.6v-2M500.3 316.3v2M506.92 392.6v-1.2M506.92 316.3v1.2M513.54 392.6v-1.2M513.54 316.3v1.2M520.15 392.6v-2M520.15 316.3v2M526.77 392.6v-1.2M526.77 316.3v1.2M533.39 392.6v-1.2M533.39 316.3v1.2M540.01 392.6v-2M540.01 316.3v2M546.63 392.6v-1.2M546.63 316.3v1.2M553.25 392.6v-1.2M553.25 316.3v1.2M559.86 392.6v-2M559.86 316.3v2M566.48 392.6v-1.2M566.48 316.3v1.2M573.1 392.6v-1.2M573.1 316.3v1.2M498.8 392.6h2M574.6 392.6h-2M498.8 387.83h1.2M574.6 387.83h-1.2M498.8 383.06h1.2M574.6 383.06h-1.2M498.8 378.29h1.2M574.6 378.29h-1.2M498.8 373.53h2M574.6 373.53h-2M498.8 368.76h1.2M574.6 368.76h-1.2M498.8 363.99h1.2M574.6 363.99h-1.2M498.8 359.22h1.2M574.6 359.22h-1.2M498.8 354.45h2M574.6 354.45h-2M498.8 349.68h1.2M574.6 349.68h-1.2M498.8 344.91h1.2M574.6 344.91h-1.2M498.8 340.14h1.2M574.6 340.14h-1.2M498.8 335.38h2M574.6 335.38h-2M498.8 330.61h1.2M574.6 330.61h-1.2M498.8 325.84h1.2M574.6 325.84h-1.2M498.8 321.07h1.2M574.6 321.07h-1.2M498.8 316.3h2M574.6 316.3h-2" stroke="#222" stroke-width="0.7" fill="none"/>
<text class="t" transform="translate(496.4 394.85) scale(0.89 1)" font-size="6.3" text-anchor="end">0</text>
<text class="t" transform="translate(496.4 375.78) scale(0.89 1)" font-size="6.3" text-anchor="end">2</text>
<text class="t" transform="translate(496.4 356.7) scale(0.89 1)" font-size="6.3" text-anchor="end">4</text>
<text class="t" transform="translate(496.4 337.62) scale(0.89 1)" font-size="6.3" text-anchor="end">6</text>
<text class="t" transform="translate(496.4 318.55) scale(0.89 1)" font-size="6.3" text-anchor="end">8</text>
<text class="t" transform="translate(500.3 400.6) scale(0.89 1)" font-size="6.3" text-anchor="middle">Jan</text>
<text class="t" transform="translate(520.15 400.6) scale(0.89 1)" font-size="6.3" text-anchor="middle">Apr</text>
<text class="t" transform="translate(540.01 400.6) scale(0.89 1)" font-size="6.3" text-anchor="middle">Jul</text>
<text class="t" transform="translate(559.86 400.6) scale(0.89 1)" font-size="6.3" text-anchor="middle">Oct</text>
<text class="ti" x="536.7" y="314.3" font-size="7" text-anchor="middle">LMR</text>
<text class="w" transform="translate(79.7 355.25) rotate(-90)" font-size="6.0" text-anchor="middle">Irrigated Amount (mm mo<tspan dy="-2" font-size="4.4">&#8722;1</tspan><tspan dy="2">)</tspan></text>
<path d="M95.9 495.2v-2M95.9 418.7v2M102.52 495.2v-1.2M102.52 418.7v1.2M109.14 495.2v-1.2M109.14 418.7v1.2M115.75 495.2v-2M115.75 418.7v2M122.37 495.2v-1.2M122.37 418.7v1.2M128.99 495.2v-1.2M128.99 418.7v1.2M135.61 495.2v-2M135.61 418.7v2M142.23 495.2v-1.2M142.23 418.7v1.2M148.85 495.2v-1.2M148.85 418.7v1.2M155.46 495.2v-2M155.46 418.7v2M162.08 495.2v-1.2M162.08 418.7v1.2M168.7 495.2v-1.2M168.7 418.7v1.2M94.4 495.2h2M170.2 495.2h-2M94.4 491.38h1.2M170.2 491.38h-1.2M94.4 487.55h1.2M170.2 487.55h-1.2M94.4 483.72h1.2M170.2 483.72h-1.2M94.4 479.9h2M170.2 479.9h-2M94.4 476.07h1.2M170.2 476.07h-1.2M94.4 472.25h1.2M170.2 472.25h-1.2M94.4 468.43h1.2M170.2 468.43h-1.2M94.4 464.6h2M170.2 464.6h-2M94.4 460.77h1.2M170.2 460.77h-1.2M94.4 456.95h1.2M170.2 456.95h-1.2M94.4 453.12h1.2M170.2 453.12h-1.2M94.4 449.3h2M170.2 449.3h-2M94.4 445.47h1.2M170.2 445.47h-1.2M94.4 441.65h1.2M170.2 441.65h-1.2M94.4 437.82h1.2M170.2 437.82h-1.2M94.4 434h2M170.2 434h-2M94.4 430.17h1.2M170.2 430.17h-1.2M94.4 426.35h1.2M170.2 426.35h-1.2M94.4 422.52h1.2M170.2 422.52h-1.2M94.4 418.7h2M170.2 418.7h-2" stroke="#222" stroke-width="0.7" fill="none"/>
<text class="t" transform="translate(92 497.45) scale(0.89 1)" font-size="6.3" text-anchor="end">0.0</text>
<text class="t" transform="translate(92 482.15) scale(0.89 1)" font-size="6.3" text-anchor="end">0.2</text>
<text class="t" transform="translate(92 466.85) scale(0.89 1)" font-size="6.3" text-anchor="end">0.4</text>
<text class="t" transform="translate(92 451.55) scale(0.89 1)" font-size="6.3" text-anchor="end">0.6</text>
<text class="t" transform="translate(92 436.25) scale(0.89 1)" font-size="6.3" text-anchor="end">0.8</text>
<text class="t" transform="translate(92 420.95) scale(0.89 1)" font-size="6.3" text-anchor="end">1.0</text>
<text class="t" transform="translate(95.9 503.2) scale(0.89 1)" font-size="6.3" text-anchor="middle">Jan</text>
<text class="t" transform="translate(115.75 503.2) scale(0.89 1)" font-size="6.3" text-anchor="middle">Apr</text>
<text class="t" transform="translate(135.61 503.2) scale(0.89 1)" font-size="6.3" text-anchor="middle">Jul</text>
<text class="t" transform="translate(155.46 503.2) scale(0.89 1)" font-size="6.3" text-anchor="middle">Oct</text>
<path d="M197 495.2v-2M197 418.7v2M203.62 495.2v-1.2M203.62 418.7v1.2M210.24 495.2v-1.2M210.24 418.7v1.2M216.85 495.2v-2M216.85 418.7v2M223.47 495.2v-1.2M223.47 418.7v1.2M230.09 495.2v-1.2M230.09 418.7v1.2M236.71 495.2v-2M236.71 418.7v2M243.33 495.2v-1.2M243.33 418.7v1.2M249.95 495.2v-1.2M249.95 418.7v1.2M256.56 495.2v-2M256.56 418.7v2M263.18 495.2v-1.2M263.18 418.7v1.2M269.8 495.2v-1.2M269.8 418.7v1.2M195.5 495.2h2M271.3 495.2h-2M195.5 491.38h1.2M271.3 491.38h-1.2M195.5 487.55h1.2M271.3 487.55h-1.2M195.5 483.72h1.2M271.3 483.72h-1.2M195.5 479.9h2M271.3 479.9h-2M195.5 476.07h1.2M271.3 476.07h-1.2M195.5 472.25h1.2M271.3 472.25h-1.2M195.5 468.43h1.2M271.3 468.43h-1.2M195.5 464.6h2M271.3 464.6h-2M195.5 460.77h1.2M271.3 460.77h-1.2M195.5 456.95h1.2M271.3 456.95h-1.2M195.5 453.12h1.2M271.3 453.12h-1.2M195.5 449.3h2M271.3 449.3h-2M195.5 445.47h1.2M271.3 445.47h-1.2M195.5 441.65h1.2M271.3 441.65h-1.2M195.5 437.82h1.2M271.3 437.82h-1.2M195.5 434h2M271.3 434h-2M195.5 430.17h1.2M271.3 430.17h-1.2M195.5 426.35h1.2M271.3 426.35h-1.2M195.5 422.52h1.2M271.3 422.52h-1.2M195.5 418.7h2M271.3 418.7h-2" stroke="#222" stroke-width="0.7" fill="none"/>
<text class="t" transform="translate(193.1 497.45) scale(0.89 1)" font-size="6.3" text-anchor="end">0.0</text>
<text class="t" transform="translate(193.1 482.15) scale(0.89 1)" font-size="6.3" text-anchor="end">0.2</text>
<text class="t" transform="translate(193.1 466.85) scale(0.89 1)" font-size="6.3" text-anchor="end">0.4</text>
<text class="t" transform="translate(193.1 451.55) scale(0.89 1)" font-size="6.3" text-anchor="end">0.6</text>
<text class="t" transform="translate(193.1 436.25) scale(0.89 1)" font-size="6.3" text-anchor="end">0.8</text>
<text class="t" transform="translate(193.1 420.95) scale(0.89 1)" font-size="6.3" text-anchor="end">1.0</text>
<text class="t" transform="translate(197 503.2) scale(0.89 1)" font-size="6.3" text-anchor="middle">Jan</text>
<text class="t" transform="translate(216.85 503.2) scale(0.89 1)" font-size="6.3" text-anchor="middle">Apr</text>
<text class="t" transform="translate(236.71 503.2) scale(0.89 1)" font-size="6.3" text-anchor="middle">Jul</text>
<text class="t" transform="translate(256.56 503.2) scale(0.89 1)" font-size="6.3" text-anchor="middle">Oct</text>
<path d="M298.1 495.2v-2M298.1 418.7v2M304.72 495.2v-1.2M304.72 418.7v1.2M311.34 495.2v-1.2M311.34 418.7v1.2M317.95 495.2v-2M317.95 418.7v2M324.57 495.2v-1.2M324.57 418.7v1.2M331.19 495.2v-1.2M331.19 418.7v1.2M337.81 495.2v-2M337.81 418.7v2M344.43 495.2v-1.2M344.43 418.7v1.2M351.05 495.2v-1.2M351.05 418.7v1.2M357.66 495.2v-2M357.66 418.7v2M364.28 495.2v-1.2M364.28 418.7v1.2M370.9 495.2v-1.2M370.9 418.7v1.2M296.6 495.2h2M372.4 495.2h-2M296.6 491.38h1.2M372.4 491.38h-1.2M296.6 487.55h1.2M372.4 487.55h-1.2M296.6 483.72h1.2M372.4 483.72h-1.2M296.6 479.9h2M372.4 479.9h-2M296.6 476.07h1.2M372.4 476.07h-1.2M296.6 472.25h1.2M372.4 472.25h-1.2M296.6 468.43h1.2M372.4 468.43h-1.2M296.6 464.6h2M372.4 464.6h-2M296.6 460.77h1.2M372.4 460.77h-1.2M296.6 456.95h1.2M372.4 456.95h-1.2M296.6 453.12h1.2M372.4 453.12h-1.2M296.6 449.3h2M372.4 449.3h-2M296.6 445.47h1.2M372.4 445.47h-1.2M296.6 441.65h1.2M372.4 441.65h-1.2M296.6 437.82h1.2M372.4 437.82h-1.2M296.6 434h2M372.4 434h-2M296.6 430.17h1.2M372.4 430.17h-1.2M296.6 426.35h1.2M372.4 426.35h-1.2M296.6 422.52h1.2M372.4 422.52h-1.2M296.6 418.7h2M372.4 418.7h-2" stroke="#222" stroke-width="0.7" fill="none"/>
<text class="t" transform="translate(294.2 497.45) scale(0.89 1)" font-size="6.3" text-anchor="end">0.0</text>
<text class="t" transform="translate(294.2 482.15) scale(0.89 1)" font-size="6.3" text-anchor="end">0.2</text>
<text class="t" transform="translate(294.2 466.85) scale(0.89 1)" font-size="6.3" text-anchor="end">0.4</text>
<text class="t" transform="translate(294.2 451.55) scale(0.89 1)" font-size="6.3" text-anchor="end">0.6</text>
<text class="t" transform="translate(294.2 436.25) scale(0.89 1)" font-size="6.3" text-anchor="end">0.8</text>
<text class="t" transform="translate(294.2 420.95) scale(0.89 1)" font-size="6.3" text-anchor="end">1.0</text>
<text class="t" transform="translate(298.1 503.2) scale(0.89 1)" font-size="6.3" text-anchor="middle">Jan</text>
<text class="t" transform="translate(317.95 503.2) scale(0.89 1)" font-size="6.3" text-anchor="middle">Apr</text>
<text class="t" transform="translate(337.81 503.2) scale(0.89 1)" font-size="6.3" text-anchor="middle">Jul</text>
<text class="t" transform="translate(357.66 503.2) scale(0.89 1)" font-size="6.3" text-anchor="middle">Oct</text>
<path d="M399.2 495.2v-2M399.2 418.7v2M405.82 495.2v-1.2M405.82 418.7v1.2M412.44 495.2v-1.2M412.44 418.7v1.2M419.05 495.2v-2M419.05 418.7v2M425.67 495.2v-1.2M425.67 418.7v1.2M432.29 495.2v-1.2M432.29 418.7v1.2M438.91 495.2v-2M438.91 418.7v2M445.53 495.2v-1.2M445.53 418.7v1.2M452.15 495.2v-1.2M452.15 418.7v1.2M458.76 495.2v-2M458.76 418.7v2M465.38 495.2v-1.2M465.38 418.7v1.2M472 495.2v-1.2M472 418.7v1.2M397.7 495.2h2M473.5 495.2h-2M397.7 491.38h1.2M473.5 491.38h-1.2M397.7 487.55h1.2M473.5 487.55h-1.2M397.7 483.72h1.2M473.5 483.72h-1.2M397.7 479.9h2M473.5 479.9h-2M397.7 476.07h1.2M473.5 476.07h-1.2M397.7 472.25h1.2M473.5 472.25h-1.2M397.7 468.43h1.2M473.5 468.43h-1.2M397.7 464.6h2M473.5 464.6h-2M397.7 460.77h1.2M473.5 460.77h-1.2M397.7 456.95h1.2M473.5 456.95h-1.2M397.7 453.12h1.2M473.5 453.12h-1.2M397.7 449.3h2M473.5 449.3h-2M397.7 445.47h1.2M473.5 445.47h-1.2M397.7 441.65h1.2M473.5 441.65h-1.2M397.7 437.82h1.2M473.5 437.82h-1.2M397.7 434h2M473.5 434h-2M397.7 430.17h1.2M473.5 430.17h-1.2M397.7 426.35h1.2M473.5 426.35h-1.2M397.7 422.52h1.2M473.5 422.52h-1.2M397.7 418.7h2M473.5 418.7h-2" stroke="#222" stroke-width="0.7" fill="none"/>
<text class="t" transform="translate(395.3 497.45) scale(0.89 1)" font-size="6.3" text-anchor="end">0.0</text>
<text class="t" transform="translate(395.3 482.15) scale(0.89 1)" font-size="6.3" text-anchor="end">0.2</text>
<text class="t" transform="translate(395.3 466.85) scale(0.89 1)" font-size="6.3" text-anchor="end">0.4</text>
<text class="t" transform="translate(395.3 451.55) scale(0.89 1)" font-size="6.3" text-anchor="end">0.6</text>
<text class="t" transform="translate(395.3 436.25) scale(0.89 1)" font-size="6.3" text-anchor="end">0.8</text>
<text class="t" transform="translate(395.3 420.95) scale(0.89 1)" font-size="6.3" text-anchor="end">1.0</text>
<text class="t" transform="translate(399.2 503.2) scale(0.89 1)" font-size="6.3" text-anchor="middle">Jan</text>
<text class="t" transform="translate(419.05 503.2) scale(0.89 1)" font-size="6.3" text-anchor="middle">Apr</text>
<text class="t" transform="translate(438.91 503.2) scale(0.89 1)" font-size="6.3" text-anchor="middle">Jul</text>
<text class="t" transform="translate(458.76 503.2) scale(0.89 1)" font-size="6.3" text-anchor="middle">Oct</text>
<path d="M500.3 495.2v-2M500.3 418.7v2M506.92 495.2v-1.2M506.92 418.7v1.2M513.54 495.2v-1.2M513.54 418.7v1.2M520.15 495.2v-2M520.15 418.7v2M526.77 495.2v-1.2M526.77 418.7v1.2M533.39 495.2v-1.2M533.39 418.7v1.2M540.01 495.2v-2M540.01 418.7v2M546.63 495.2v-1.2M546.63 418.7v1.2M553.25 495.2v-1.2M553.25 418.7v1.2M559.86 495.2v-2M559.86 418.7v2M566.48 495.2v-1.2M566.48 418.7v1.2M573.1 495.2v-1.2M573.1 418.7v1.2M498.8 495.2h2M574.6 495.2h-2M498.8 491.38h1.2M574.6 491.38h-1.2M498.8 487.55h1.2M574.6 487.55h-1.2M498.8 483.72h1.2M574.6 483.72h-1.2M498.8 479.9h2M574.6 479.9h-2M498.8 476.07h1.2M574.6 476.07h-1.2M498.8 472.25h1.2M574.6 472.25h-1.2M498.8 468.43h1.2M574.6 468.43h-1.2M498.8 464.6h2M574.6 464.6h-2M498.8 460.77h1.2M574.6 460.77h-1.2M498.8 456.95h1.2M574.6 456.95h-1.2M498.8 453.12h1.2M574.6 453.12h-1.2M498.8 449.3h2M574.6 449.3h-2M498.8 445.47h1.2M574.6 445.47h-1.2M498.8 441.65h1.2M574.6 441.65h-1.2M498.8 437.82h1.2M574.6 437.82h-1.2M498.8 434h2M574.6 434h-2M498.8 430.17h1.2M574.6 430.17h-1.2M498.8 426.35h1.2M574.6 426.35h-1.2M498.8 422.52h1.2M574.6 422.52h-1.2M498.8 418.7h2M574.6 418.7h-2" stroke="#222" stroke-width="0.7" fill="none"/>
<text class="t" transform="translate(496.4 497.45) scale(0.89 1)" font-size="6.3" text-anchor="end">0.0</text>
<text class="t" transform="translate(496.4 482.15) scale(0.89 1)" font-size="6.3" text-anchor="end">0.2</text>
<text class="t" transform="translate(496.4 466.85) scale(0.89 1)" font-size="6.3" text-anchor="end">0.4</text>
<text class="t" transform="translate(496.4 451.55) scale(0.89 1)" font-size="6.3" text-anchor="end">0.6</text>
<text class="t" transform="translate(496.4 436.25) scale(0.89 1)" font-size="6.3" text-anchor="end">0.8</text>
<text class="t" transform="translate(496.4 420.95) scale(0.89 1)" font-size="6.3" text-anchor="end">1.0</text>
<text class="t" transform="translate(500.3 503.2) scale(0.89 1)" font-size="6.3" text-anchor="middle">Jan</text>
<text class="t" transform="translate(520.15 503.2) scale(0.89 1)" font-size="6.3" text-anchor="middle">Apr</text>
<text class="t" transform="translate(540.01 503.2) scale(0.89 1)" font-size="6.3" text-anchor="middle">Jul</text>
<text class="t" transform="translate(559.86 503.2) scale(0.89 1)" font-size="6.3" text-anchor="middle">Oct</text>
<text class="v" x="-1.1" y="6.8" font-size="9.6">(a)</text>
<text class="v" x="-1.1" y="109.5" font-size="9.6">(b)</text>
<text class="v" x="-1.1" y="211.9" font-size="9.6">(c)</text>
<text class="v" x="-1.1" y="314.8" font-size="9.6">(d)</text>
<text class="v" x="-1.1" y="418" font-size="9.6">(e)</text>
<text class="u" transform="translate(26 51.9)" font-size="9.4">OL<tspan dy="1.9" font-size="6.0">irr</tspan></text>
<text class="u" transform="translate(23.6 155)" font-size="9.4">LAI<tspan dy="1.9" font-size="6.0">DA</tspan></text>
<text class="u" transform="translate(20.8 256.8)" font-size="9.4">SSM<tspan dy="1.9" font-size="6.0">TC</tspan></text>
<text class="u" transform="translate(15.8 359.6)" font-size="9.4">LAI&#8722;SSM</text>
<text class="u" x="34.5" y="436" font-size="8.4" text-anchor="middle">GVF</text>
<line x1="2.8" y1="443.4" x2="28.6" y2="443.4" stroke="#5AAAEE" stroke-width="1.3"/>
<text class="u" x="32.6" y="445.8" font-size="8">OL<tspan dy="1.6" font-size="5.6">irr</tspan></text>
<line x1="2.8" y1="456.6" x2="28.6" y2="456.6" stroke="#E07B22" stroke-width="2.0"/>
<text class="u" x="32.6" y="459" font-size="8">LAI<tspan dy="1.6" font-size="5.6">DA</tspan></text>
<line x1="2.8" y1="470.4" x2="28.6" y2="470.4" stroke="#FBB040" stroke-width="1.3" stroke-dasharray="3.9,1.7"/>
<text class="u" x="32.6" y="472.8" font-size="8">SSM<tspan dy="1.6" font-size="5.6">TC</tspan></text>
<line x1="2.8" y1="484" x2="28.6" y2="484" stroke="#A86CC0" stroke-width="1.35" stroke-dasharray="4.2,1.7"/>
<text class="u" x="32.6" y="486.4" font-size="8">LAI&#8722;SSM</text>
</svg>
</body></html>
